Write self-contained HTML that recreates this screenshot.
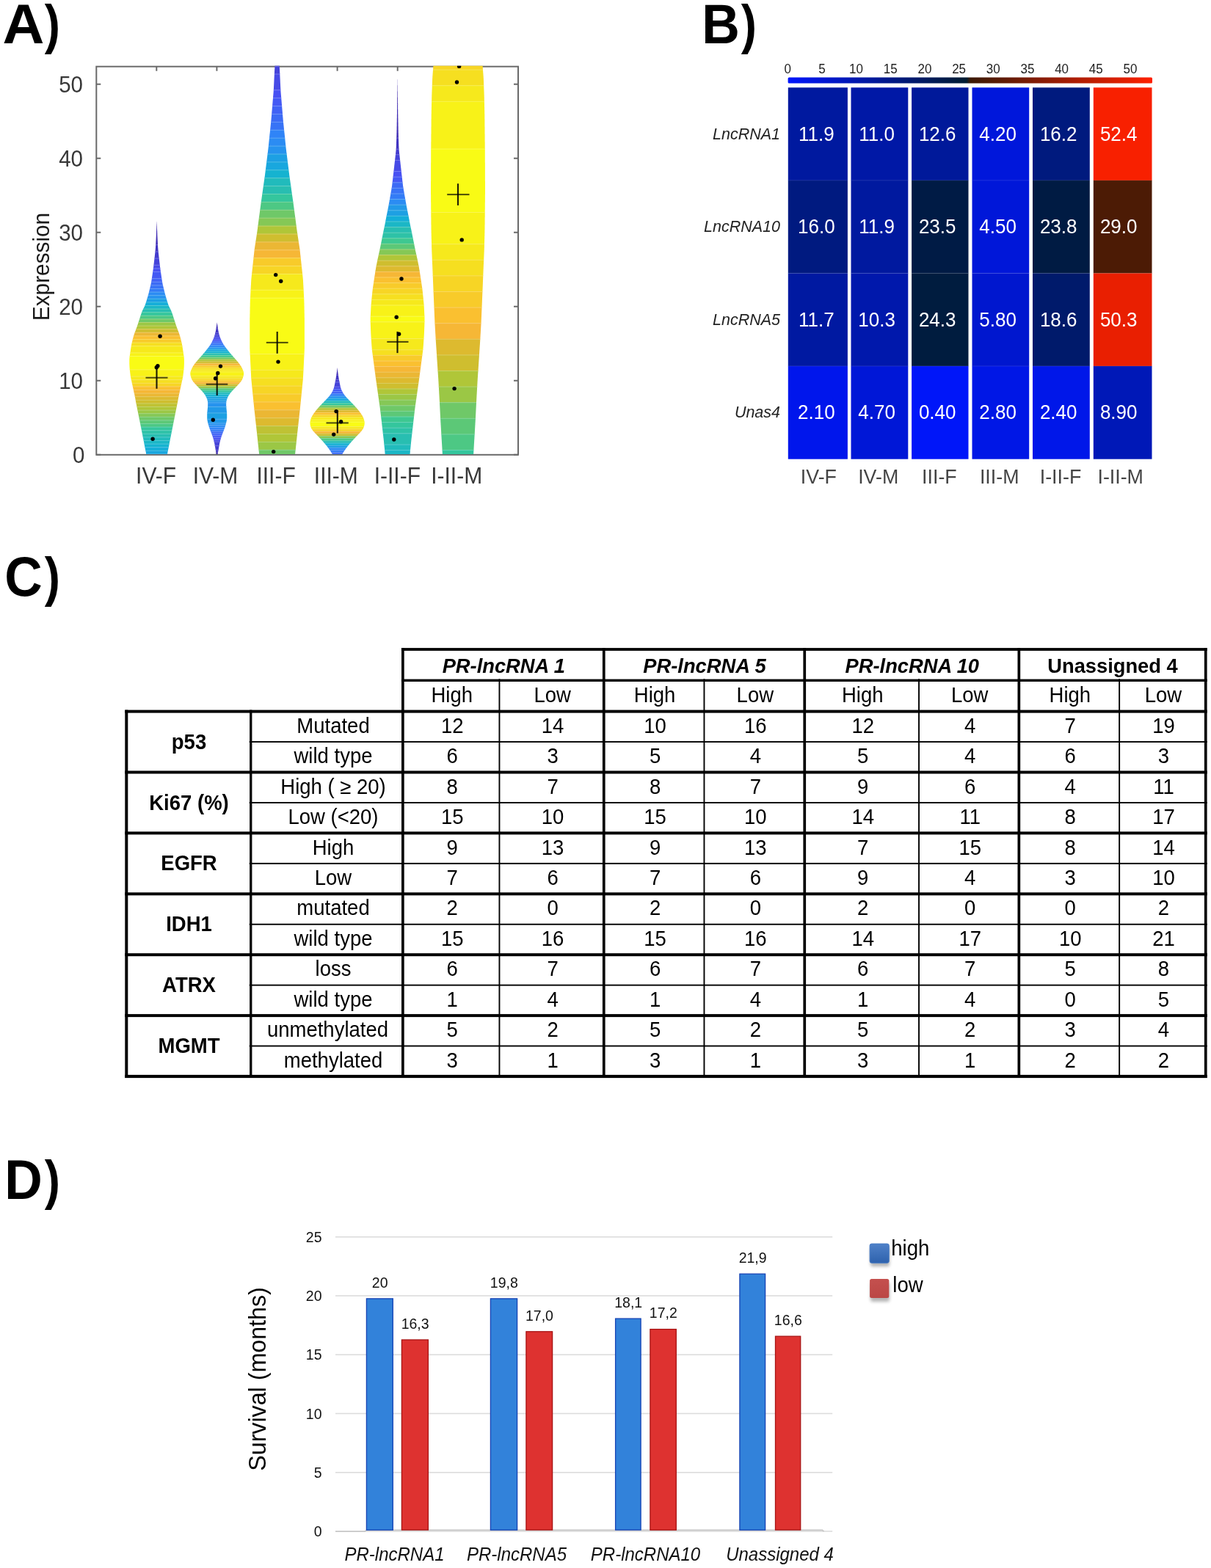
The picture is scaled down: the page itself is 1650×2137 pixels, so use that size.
<!DOCTYPE html>
<html><head><meta charset="utf-8"><title>Figure</title>
<style>html,body{margin:0;padding:0;background:#fff;}body{width:1650px;height:2137px;overflow:hidden;}svg{display:block;}text{font-family:"Liberation Sans",Arial,Helvetica,sans-serif;}</style>
</head><body>
<svg width="1650" height="2137" viewBox="0 0 1650 2137">
<rect width="1650" height="2137" fill="#fff"/>
<defs><clipPath id="axclip"><rect x="131.3" y="89.7" width="574.7" height="529.3"/></clipPath>
<clipPath id="vc0"><polygon points="213.6,301 213.6,301.5 213.6,302 213.5,302.5 213.5,303 213.5,303.5 213.5,304 213.5,304.5 213.4,305 213.4,305.5 213.4,306 213.4,306.5 213.4,307 213.3,307.5 213.3,308 213.3,308.5 213.3,309 213.3,309.5 213.3,310 213.2,310.5 213.2,311 213.2,311.5 213.2,312 213.2,312.5 213.1,313 213.1,313.5 213.1,314 213.1,314.5 213.1,315 213,315.5 213,316 213,316.5 213,317 213,317.5 212.9,318 212.9,318.5 212.9,319 212.9,319.5 212.9,320 212.8,320.5 212.8,321 212.8,321.5 212.8,322 212.8,322.5 212.7,323 212.7,323.5 212.7,324 212.7,324.5 212.6,325 212.6,325.5 212.6,326 212.6,326.5 212.5,327 212.5,327.5 212.5,328 212.5,328.5 212.4,329 212.4,329.5 212.4,330 212.4,330.5 212.3,331 212.3,331.5 212.3,332 212.3,332.5 212.2,333 212.2,333.5 212.2,334 212.2,334.5 212.1,335 212.1,335.5 212.1,336 212,336.5 212,337 212,337.5 211.9,338 211.9,338.5 211.8,339 211.8,339.5 211.8,340 211.7,340.5 211.7,341 211.6,341.5 211.6,342 211.5,342.5 211.5,343 211.4,343.5 211.4,344 211.3,344.5 211.3,345 211.2,345.5 211.2,346 211.1,346.5 211,347 211,347.5 210.9,348 210.9,348.5 210.8,349 210.8,349.5 210.7,350 210.7,350.5 210.6,351 210.5,351.5 210.5,352 210.4,352.5 210.4,353 210.3,353.5 210.3,354 210.2,354.5 210.1,355 210.1,355.5 210,356 210,356.5 209.9,357 209.9,357.5 209.8,358 209.7,358.5 209.7,359 209.6,359.5 209.6,360 209.5,360.5 209.5,361 209.4,361.5 209.3,362 209.3,362.5 209.2,363 209.2,363.5 209.1,364 209,364.5 209,365 208.9,365.5 208.8,366 208.8,366.5 208.7,367 208.6,367.5 208.6,368 208.5,368.5 208.4,369 208.3,369.5 208.3,370 208.2,370.5 208.1,371 208,371.5 208,372 207.9,372.5 207.8,373 207.8,373.5 207.7,374 207.6,374.5 207.5,375 207.5,375.5 207.4,376 207.3,376.5 207.2,377 207.2,377.5 207.1,378 207,378.5 207,379 206.9,379.5 206.8,380 206.7,380.5 206.7,381 206.6,381.5 206.5,382 206.4,382.5 206.3,383 206.3,383.5 206.2,384 206.1,384.5 206,385 205.9,385.5 205.8,386 205.7,386.5 205.6,387 205.5,387.5 205.4,388 205.3,388.5 205.2,389 205,389.5 204.9,390 204.8,390.5 204.7,391 204.6,391.5 204.4,392 204.3,392.5 204.2,393 204.1,393.5 204,394 203.8,394.5 203.7,395 203.6,395.5 203.5,396 203.4,396.5 203.2,397 203.1,397.5 203,398 202.9,398.5 202.8,399 202.6,399.5 202.5,400 202.4,400.5 202.2,401 202.1,401.5 202,402 201.8,402.5 201.7,403 201.5,403.5 201.4,404 201.3,404.5 201.1,405 200.9,405.5 200.8,406 200.6,406.5 200.5,407 200.3,407.5 200.2,408 200,408.5 199.9,409 199.7,409.5 199.6,410 199.4,410.5 199.3,411 199.1,411.5 198.9,412 198.8,412.5 198.6,413 198.5,413.5 198.3,414 198.1,414.5 198,415 197.8,415.5 197.6,416 197.4,416.5 197.2,417 197,417.5 196.7,418 196.5,418.5 196.2,419 196,419.5 195.7,420 195.5,420.5 195.2,421 195,421.5 194.7,422 194.5,422.5 194.2,423 194,423.5 193.8,424 193.6,424.5 193.4,425 193.2,425.5 193,426 192.8,426.5 192.6,427 192.5,427.5 192.3,428 192.1,428.5 192,429 191.8,429.5 191.6,430 191.5,430.5 191.3,431 191.2,431.5 191,432 190.8,432.5 190.7,433 190.5,433.5 190.4,434 190.2,434.5 190,435 189.9,435.5 189.7,436 189.5,436.5 189.4,437 189.2,437.5 189.1,438 188.9,438.5 188.7,439 188.6,439.5 188.4,440 188.3,440.5 188.1,441 187.9,441.5 187.8,442 187.6,442.5 187.4,443 187.2,443.5 187.1,444 186.9,444.5 186.7,445 186.6,445.5 186.4,446 186.2,446.5 186,447 185.8,447.5 185.6,448 185.4,448.5 185.3,449 185.1,449.5 184.9,450 184.7,450.5 184.5,451 184.3,451.5 184.1,452 183.9,452.5 183.7,453 183.6,453.5 183.4,454 183.2,454.5 183,455 182.8,455.5 182.7,456 182.5,456.5 182.3,457 182.2,457.5 182,458 181.9,458.5 181.7,459 181.6,459.5 181.5,460 181.4,460.5 181.2,461 181.1,461.5 181,462 180.8,462.5 180.7,463 180.6,463.5 180.5,464 180.4,464.5 180.2,465 180.1,465.5 180,466 179.9,466.5 179.8,467 179.6,467.5 179.5,468 179.4,468.5 179.3,469 179.2,469.5 179.1,470 179,470.5 178.9,471 178.8,471.5 178.7,472 178.7,472.5 178.6,473 178.5,473.5 178.4,474 178.3,474.5 178.3,475 178.2,475.5 178.1,476 178,476.5 178,477 177.9,477.5 177.8,478 177.7,478.5 177.7,479 177.6,479.5 177.5,480 177.5,480.5 177.4,481 177.3,481.5 177.2,482 177.2,482.5 177.1,483 177,483.5 176.9,484 176.9,484.5 176.8,485 176.7,485.5 176.7,486 176.6,486.5 176.5,487 176.5,487.5 176.4,488 176.4,488.5 176.4,489 176.3,489.5 176.3,490 176.3,490.5 176.3,491 176.3,491.5 176.3,492 176.3,492.5 176.3,493 176.3,493.5 176.3,494 176.3,494.5 176.3,495 176.3,495.5 176.3,496 176.3,496.5 176.4,497 176.4,497.5 176.4,498 176.4,498.5 176.4,499 176.5,499.5 176.5,500 176.5,500.5 176.6,501 176.6,501.5 176.6,502 176.7,502.5 176.7,503 176.8,503.5 176.8,504 176.9,504.5 176.9,505 177,505.5 177.1,506 177.1,506.5 177.2,507 177.2,507.5 177.3,508 177.3,508.5 177.4,509 177.5,509.5 177.5,510 177.6,510.5 177.6,511 177.7,511.5 177.8,512 177.9,512.5 177.9,513 178,513.5 178.1,514 178.2,514.5 178.3,515 178.4,515.5 178.5,516 178.6,516.5 178.7,517 178.8,517.5 178.9,518 179,518.5 179.2,519 179.3,519.5 179.4,520 179.5,520.5 179.6,521 179.7,521.5 179.8,522 179.9,522.5 180,523 180.1,523.5 180.2,524 180.4,524.5 180.5,525 180.6,525.5 180.7,526 180.8,526.5 180.9,527 181,527.5 181.1,528 181.2,528.5 181.3,529 181.4,529.5 181.6,530 181.7,530.5 181.8,531 181.9,531.5 182,532 182.1,532.5 182.2,533 182.3,533.5 182.4,534 182.5,534.5 182.6,535 182.7,535.5 182.9,536 183,536.5 183.1,537 183.2,537.5 183.3,538 183.4,538.5 183.5,539 183.6,539.5 183.7,540 183.8,540.5 183.9,541 184,541.5 184.1,542 184.2,542.5 184.3,543 184.4,543.5 184.5,544 184.6,544.5 184.7,545 184.8,545.5 184.8,546 184.9,546.5 185,547 185.1,547.5 185.2,548 185.3,548.5 185.4,549 185.5,549.5 185.6,550 185.7,550.5 185.8,551 185.9,551.5 186,552 186.1,552.5 186.2,553 186.3,553.5 186.4,554 186.5,554.5 186.6,555 186.7,555.5 186.8,556 186.9,556.5 187,557 187.1,557.5 187.2,558 187.3,558.5 187.4,559 187.5,559.5 187.6,560 187.7,560.5 187.8,561 187.9,561.5 188,562 188.1,562.5 188.2,563 188.3,563.5 188.4,564 188.5,564.5 188.6,565 188.7,565.5 188.8,566 188.9,566.5 189,567 189.1,567.5 189.2,568 189.3,568.5 189.4,569 189.5,569.5 189.6,570 189.7,570.5 189.8,571 189.9,571.5 190,572 190.1,572.5 190.2,573 190.3,573.5 190.4,574 190.5,574.5 190.6,575 190.7,575.5 190.8,576 190.9,576.5 191,577 191.1,577.5 191.2,578 191.3,578.5 191.4,579 191.5,579.5 191.6,580 191.7,580.5 191.8,581 191.9,581.5 192,582 192.1,582.5 192.2,583 192.3,583.5 192.4,584 192.5,584.5 192.6,585 192.7,585.5 192.8,586 192.9,586.5 193,587 193.1,587.5 193.2,588 193.3,588.5 193.4,589 193.5,589.5 193.6,590 193.7,590.5 193.8,591 193.9,591.5 194,592 194.1,592.5 194.2,593 194.3,593.5 194.4,594 194.5,594.5 194.6,595 194.7,595.5 194.8,596 194.9,596.5 195,597 195.1,597.5 195.2,598 195.3,598.5 195.4,599 195.5,599.5 195.6,600 195.7,600.5 195.8,601 195.9,601.5 196,602 196.1,602.5 196.2,603 196.3,603.5 196.4,604 196.5,604.5 196.5,605 196.6,605.5 196.7,606 196.8,606.5 196.9,607 197,607.5 197.1,608 197.2,608.5 197.3,609 197.4,609.5 197.5,610 197.6,610.5 197.7,611 197.8,611.5 197.9,612 198,612.5 198.1,613 198.2,613.5 198.3,614 198.4,614.5 198.5,615 198.6,615.5 198.7,616 198.8,616.5 198.9,617 199,617.5 199.1,618 199.1,618.5 199.2,619 199.3,619.5 199.4,620 199.5,620.5 199.6,621 199.7,621.5 199.8,622 199.9,622.5 200,623 200,623.5 200.1,624 200.2,624.5 200.2,625 227,625 227,624.5 227.1,624 227.2,623.5 227.2,623 227.3,622.5 227.4,622 227.5,621.5 227.6,621 227.7,620.5 227.8,620 227.9,619.5 228,619 228.1,618.5 228.1,618 228.2,617.5 228.3,617 228.4,616.5 228.5,616 228.6,615.5 228.7,615 228.8,614.5 228.9,614 229,613.5 229.1,613 229.2,612.5 229.3,612 229.4,611.5 229.5,611 229.6,610.5 229.7,610 229.8,609.5 229.9,609 230,608.5 230.1,608 230.2,607.5 230.3,607 230.4,606.5 230.5,606 230.6,605.5 230.7,605 230.7,604.5 230.8,604 230.9,603.5 231,603 231.1,602.5 231.2,602 231.3,601.5 231.4,601 231.5,600.5 231.6,600 231.7,599.5 231.8,599 231.9,598.5 232,598 232.1,597.5 232.2,597 232.3,596.5 232.4,596 232.5,595.5 232.6,595 232.7,594.5 232.8,594 232.9,593.5 233,593 233.1,592.5 233.2,592 233.3,591.5 233.4,591 233.5,590.5 233.6,590 233.7,589.5 233.8,589 233.9,588.5 234,588 234.1,587.5 234.2,587 234.3,586.5 234.4,586 234.5,585.5 234.6,585 234.7,584.5 234.8,584 234.9,583.5 235,583 235.1,582.5 235.2,582 235.3,581.5 235.4,581 235.5,580.5 235.6,580 235.7,579.5 235.8,579 235.9,578.5 236,578 236.1,577.5 236.2,577 236.3,576.5 236.4,576 236.5,575.5 236.6,575 236.7,574.5 236.8,574 236.9,573.5 237,573 237.1,572.5 237.2,572 237.3,571.5 237.4,571 237.5,570.5 237.6,570 237.7,569.5 237.8,569 237.9,568.5 238,568 238.1,567.5 238.2,567 238.3,566.5 238.4,566 238.5,565.5 238.6,565 238.7,564.5 238.8,564 238.9,563.5 239,563 239.1,562.5 239.2,562 239.3,561.5 239.4,561 239.5,560.5 239.6,560 239.7,559.5 239.8,559 239.9,558.5 240,558 240.1,557.5 240.2,557 240.3,556.5 240.4,556 240.5,555.5 240.6,555 240.7,554.5 240.8,554 240.9,553.5 241,553 241.1,552.5 241.2,552 241.3,551.5 241.4,551 241.5,550.5 241.6,550 241.7,549.5 241.8,549 241.9,548.5 242,548 242.1,547.5 242.2,547 242.3,546.5 242.4,546 242.4,545.5 242.5,545 242.6,544.5 242.7,544 242.8,543.5 242.9,543 243,542.5 243.1,542 243.2,541.5 243.3,541 243.4,540.5 243.5,540 243.6,539.5 243.7,539 243.8,538.5 243.9,538 244,537.5 244.1,537 244.2,536.5 244.3,536 244.5,535.5 244.6,535 244.7,534.5 244.8,534 244.9,533.5 245,533 245.1,532.5 245.2,532 245.3,531.5 245.4,531 245.5,530.5 245.6,530 245.8,529.5 245.9,529 246,528.5 246.1,528 246.2,527.5 246.3,527 246.4,526.5 246.5,526 246.6,525.5 246.7,525 246.8,524.5 247,524 247.1,523.5 247.2,523 247.3,522.5 247.4,522 247.5,521.5 247.6,521 247.7,520.5 247.8,520 247.9,519.5 248,519 248.2,518.5 248.3,518 248.4,517.5 248.5,517 248.6,516.5 248.7,516 248.8,515.5 248.9,515 249,514.5 249.1,514 249.2,513.5 249.3,513 249.3,512.5 249.4,512 249.5,511.5 249.6,511 249.6,510.5 249.7,510 249.7,509.5 249.8,509 249.9,508.5 249.9,508 250,507.5 250,507 250.1,506.5 250.1,506 250.2,505.5 250.3,505 250.3,504.5 250.4,504 250.4,503.5 250.5,503 250.5,502.5 250.6,502 250.6,501.5 250.6,501 250.7,500.5 250.7,500 250.7,499.5 250.8,499 250.8,498.5 250.8,498 250.8,497.5 250.8,497 250.9,496.5 250.9,496 250.9,495.5 250.9,495 250.9,494.5 250.9,494 250.9,493.5 250.9,493 250.9,492.5 250.9,492 250.9,491.5 250.9,491 250.9,490.5 250.9,490 250.9,489.5 250.8,489 250.8,488.5 250.8,488 250.7,487.5 250.7,487 250.6,486.5 250.5,486 250.5,485.5 250.4,485 250.3,484.5 250.3,484 250.2,483.5 250.1,483 250,482.5 250,482 249.9,481.5 249.8,481 249.7,480.5 249.7,480 249.6,479.5 249.5,479 249.5,478.5 249.4,478 249.3,477.5 249.2,477 249.2,476.5 249.1,476 249,475.5 248.9,475 248.9,474.5 248.8,474 248.7,473.5 248.6,473 248.5,472.5 248.5,472 248.4,471.5 248.3,471 248.2,470.5 248.1,470 248,469.5 247.9,469 247.8,468.5 247.7,468 247.6,467.5 247.4,467 247.3,466.5 247.2,466 247.1,465.5 247,465 246.8,464.5 246.7,464 246.6,463.5 246.5,463 246.4,462.5 246.2,462 246.1,461.5 246,461 245.8,460.5 245.7,460 245.6,459.5 245.5,459 245.3,458.5 245.2,458 245,457.5 244.9,457 244.7,456.5 244.5,456 244.4,455.5 244.2,455 244,454.5 243.8,454 243.6,453.5 243.5,453 243.3,452.5 243.1,452 242.9,451.5 242.7,451 242.5,450.5 242.3,450 242.1,449.5 241.9,449 241.8,448.5 241.6,448 241.4,447.5 241.2,447 241,446.5 240.8,446 240.6,445.5 240.5,445 240.3,444.5 240.1,444 240,443.5 239.8,443 239.6,442.5 239.4,442 239.3,441.5 239.1,441 238.9,440.5 238.8,440 238.6,439.5 238.5,439 238.3,438.5 238.1,438 238,437.5 237.8,437 237.7,436.5 237.5,436 237.3,435.5 237.2,435 237,434.5 236.8,434 236.7,433.5 236.5,433 236.4,432.5 236.2,432 236,431.5 235.9,431 235.7,430.5 235.6,430 235.4,429.5 235.2,429 235.1,428.5 234.9,428 234.7,427.5 234.6,427 234.4,426.5 234.2,426 234,425.5 233.8,425 233.6,424.5 233.4,424 233.2,423.5 233,423 232.7,422.5 232.5,422 232.2,421.5 232,421 231.7,420.5 231.5,420 231.2,419.5 231,419 230.7,418.5 230.5,418 230.2,417.5 230,417 229.8,416.5 229.6,416 229.4,415.5 229.2,415 229.1,414.5 228.9,414 228.7,413.5 228.6,413 228.4,412.5 228.3,412 228.1,411.5 227.9,411 227.8,410.5 227.6,410 227.5,409.5 227.3,409 227.2,408.5 227,408 226.9,407.5 226.7,407 226.6,406.5 226.4,406 226.3,405.5 226.1,405 225.9,404.5 225.8,404 225.7,403.5 225.5,403 225.4,402.5 225.2,402 225.1,401.5 225,401 224.8,400.5 224.7,400 224.6,399.5 224.4,399 224.3,398.5 224.2,398 224.1,397.5 224,397 223.8,396.5 223.7,396 223.6,395.5 223.5,395 223.4,394.5 223.2,394 223.1,393.5 223,393 222.9,392.5 222.8,392 222.6,391.5 222.5,391 222.4,390.5 222.3,390 222.2,389.5 222,389 221.9,388.5 221.8,388 221.7,387.5 221.6,387 221.5,386.5 221.4,386 221.3,385.5 221.2,385 221.1,384.5 221,384 220.9,383.5 220.9,383 220.8,382.5 220.7,382 220.6,381.5 220.5,381 220.5,380.5 220.4,380 220.3,379.5 220.2,379 220.2,378.5 220.1,378 220,377.5 220,377 219.9,376.5 219.8,376 219.7,375.5 219.7,375 219.6,374.5 219.5,374 219.4,373.5 219.4,373 219.3,372.5 219.2,372 219.2,371.5 219.1,371 219,370.5 218.9,370 218.9,369.5 218.8,369 218.7,368.5 218.6,368 218.6,367.5 218.5,367 218.4,366.5 218.4,366 218.3,365.5 218.2,365 218.2,364.5 218.1,364 218,363.5 218,363 217.9,362.5 217.9,362 217.8,361.5 217.7,361 217.7,360.5 217.6,360 217.6,359.5 217.5,359 217.5,358.5 217.4,358 217.3,357.5 217.3,357 217.2,356.5 217.2,356 217.1,355.5 217.1,355 217,354.5 216.9,354 216.9,353.5 216.8,353 216.8,352.5 216.7,352 216.7,351.5 216.6,351 216.5,350.5 216.5,350 216.4,349.5 216.4,349 216.3,348.5 216.3,348 216.2,347.5 216.2,347 216.1,346.5 216,346 216,345.5 215.9,345 215.9,344.5 215.8,344 215.8,343.5 215.7,343 215.7,342.5 215.6,342 215.6,341.5 215.5,341 215.5,340.5 215.4,340 215.4,339.5 215.4,339 215.3,338.5 215.3,338 215.2,337.5 215.2,337 215.2,336.5 215.1,336 215.1,335.5 215.1,335 215,334.5 215,334 215,333.5 215,333 214.9,332.5 214.9,332 214.9,331.5 214.9,331 214.8,330.5 214.8,330 214.8,329.5 214.8,329 214.7,328.5 214.7,328 214.7,327.5 214.7,327 214.6,326.5 214.6,326 214.6,325.5 214.6,325 214.5,324.5 214.5,324 214.5,323.5 214.5,323 214.4,322.5 214.4,322 214.4,321.5 214.4,321 214.3,320.5 214.3,320 214.3,319.5 214.3,319 214.3,318.5 214.3,318 214.2,317.5 214.2,317 214.2,316.5 214.2,316 214.2,315.5 214.1,315 214.1,314.5 214.1,314 214.1,313.5 214.1,313 214,312.5 214,312 214,311.5 214,311 214,310.5 213.9,310 213.9,309.5 213.9,309 213.9,308.5 213.9,308 213.8,307.5 213.8,307 213.8,306.5 213.8,306 213.8,305.5 213.8,305 213.7,304.5 213.7,304 213.7,303.5 213.7,303 213.7,302.5 213.6,302 213.6,301.5 213.6,301"/></clipPath>
<clipPath id="vc1"><polygon points="295.7,439.2 295.6,439.7 295.6,440.2 295.5,440.7 295.4,441.2 295.4,441.7 295.3,442.2 295.2,442.7 295.1,443.2 295.1,443.7 295,444.2 294.9,444.7 294.9,445.2 294.8,445.7 294.7,446.2 294.6,446.7 294.6,447.2 294.5,447.7 294.4,448.2 294.3,448.7 294.2,449.2 294.2,449.7 294.1,450.2 294,450.7 293.9,451.2 293.8,451.7 293.7,452.2 293.5,452.7 293.4,453.2 293.3,453.7 293.2,454.2 293.1,454.7 293,455.2 292.8,455.7 292.7,456.2 292.6,456.7 292.4,457.2 292.3,457.7 292.1,458.2 292,458.7 291.8,459.2 291.6,459.7 291.4,460.2 291.2,460.7 291,461.2 290.8,461.7 290.6,462.2 290.3,462.7 290.1,463.2 289.9,463.7 289.6,464.2 289.4,464.7 289.2,465.2 288.9,465.7 288.7,466.2 288.4,466.7 288.1,467.2 287.9,467.7 287.6,468.2 287.3,468.7 287,469.2 286.7,469.7 286.3,470.2 286,470.7 285.7,471.2 285.3,471.7 285,472.2 284.6,472.7 284.2,473.2 283.9,473.7 283.5,474.2 283.1,474.7 282.7,475.2 282.3,475.7 281.9,476.2 281.5,476.7 281.1,477.2 280.7,477.7 280.3,478.2 279.9,478.7 279.5,479.2 279.1,479.7 278.7,480.2 278.3,480.7 277.8,481.2 277.4,481.7 277,482.2 276.6,482.7 276.1,483.2 275.7,483.7 275.3,484.2 274.8,484.7 274.4,485.2 274,485.7 273.5,486.2 273.1,486.7 272.6,487.2 272.2,487.7 271.7,488.2 271.3,488.7 270.9,489.2 270.4,489.7 270,490.2 269.5,490.7 269.1,491.2 268.7,491.7 268.3,492.2 267.8,492.7 267.4,493.2 267,493.7 266.6,494.2 266.2,494.7 265.8,495.2 265.4,495.7 265,496.2 264.7,496.7 264.3,497.2 264,497.7 263.6,498.2 263.3,498.7 263,499.2 262.7,499.7 262.4,500.2 262.2,500.7 261.9,501.2 261.7,501.7 261.4,502.2 261.2,502.7 261,503.2 260.8,503.7 260.5,504.2 260.3,504.7 260.1,505.2 260,505.7 259.8,506.2 259.7,506.7 259.5,507.2 259.4,507.7 259.4,508.2 259.3,508.7 259.3,509.2 259.3,509.7 259.4,510.2 259.4,510.7 259.5,511.2 259.6,511.7 259.8,512.2 259.9,512.7 260,513.2 260.2,513.7 260.3,514.2 260.5,514.7 260.7,515.2 260.8,515.7 261,516.2 261.3,516.7 261.5,517.2 261.8,517.7 262,518.2 262.3,518.7 262.7,519.2 263,519.7 263.4,520.2 263.8,520.7 264.2,521.2 264.6,521.7 265.1,522.2 265.5,522.7 266,523.2 266.4,523.7 266.9,524.2 267.4,524.7 267.8,525.2 268.3,525.7 268.8,526.2 269.3,526.7 269.8,527.2 270.2,527.7 270.7,528.2 271.2,528.7 271.7,529.2 272.2,529.7 272.7,530.2 273.2,530.7 273.6,531.2 274.1,531.7 274.6,532.2 275,532.7 275.5,533.2 275.9,533.7 276.3,534.2 276.8,534.7 277.2,535.2 277.6,535.7 277.9,536.2 278.3,536.7 278.7,537.2 279,537.7 279.3,538.2 279.7,538.7 280,539.2 280.3,539.7 280.5,540.2 280.8,540.7 281,541.2 281.3,541.7 281.5,542.2 281.7,542.7 281.9,543.2 282.1,543.7 282.3,544.2 282.4,544.7 282.6,545.2 282.7,545.7 282.8,546.2 282.9,546.7 283,547.2 283.1,547.7 283.1,548.2 283.2,548.7 283.2,549.2 283.2,549.7 283.2,550.2 283.2,550.7 283.2,551.2 283.2,551.7 283.2,552.2 283.2,552.7 283.1,553.2 283.1,553.7 283.1,554.2 283,554.7 283,555.2 283,555.7 282.9,556.2 282.9,556.7 282.8,557.2 282.8,557.7 282.7,558.2 282.7,558.7 282.6,559.2 282.6,559.7 282.5,560.2 282.5,560.7 282.4,561.2 282.4,561.7 282.3,562.2 282.3,562.7 282.3,563.2 282.3,563.7 282.2,564.2 282.2,564.7 282.2,565.2 282.2,565.7 282.2,566.2 282.2,566.7 282.2,567.2 282.2,567.7 282.2,568.2 282.2,568.7 282.2,569.2 282.2,569.7 282.3,570.2 282.3,570.7 282.3,571.2 282.4,571.7 282.4,572.2 282.5,572.7 282.6,573.2 282.7,573.7 282.8,574.2 282.9,574.7 283,575.2 283.1,575.7 283.3,576.2 283.4,576.7 283.5,577.2 283.7,577.7 283.8,578.2 283.9,578.7 284.1,579.2 284.2,579.7 284.4,580.2 284.5,580.7 284.7,581.2 284.8,581.7 285,582.2 285.2,582.7 285.3,583.2 285.5,583.7 285.7,584.2 285.9,584.7 286.1,585.2 286.3,585.7 286.4,586.2 286.6,586.7 286.8,587.2 287,587.7 287.2,588.2 287.4,588.7 287.6,589.2 287.8,589.7 288,590.2 288.2,590.7 288.3,591.2 288.5,591.7 288.7,592.2 288.9,592.7 289.1,593.2 289.3,593.7 289.4,594.2 289.6,594.7 289.8,595.2 290,595.7 290.1,596.2 290.3,596.7 290.4,597.2 290.6,597.7 290.7,598.2 290.9,598.7 291,599.2 291.1,599.7 291.3,600.2 291.4,600.7 291.5,601.2 291.6,601.7 291.7,602.2 291.8,602.7 292,603.2 292.1,603.7 292.2,604.2 292.3,604.7 292.4,605.2 292.5,605.7 292.6,606.2 292.6,606.7 292.7,607.2 292.8,607.7 292.9,608.2 293,608.7 293.1,609.2 293.2,609.7 293.3,610.2 293.4,610.7 293.4,611.2 293.5,611.7 293.6,612.2 293.7,612.7 293.8,613.2 293.9,613.7 294,614.2 294.1,614.7 294.2,615.2 294.3,615.7 294.4,616.2 294.5,616.7 294.6,617.2 294.7,617.7 294.8,618.2 294.9,618.7 295,619.2 295.1,619.7 296.3,619.7 296.4,619.2 296.5,618.7 296.6,618.2 296.7,617.7 296.8,617.2 296.9,616.7 297,616.2 297.1,615.7 297.2,615.2 297.3,614.7 297.4,614.2 297.5,613.7 297.6,613.2 297.7,612.7 297.8,612.2 297.9,611.7 298,611.2 298,610.7 298.1,610.2 298.2,609.7 298.3,609.2 298.4,608.7 298.5,608.2 298.6,607.7 298.7,607.2 298.8,606.7 298.8,606.2 298.9,605.7 299,605.2 299.1,604.7 299.2,604.2 299.3,603.7 299.4,603.2 299.6,602.7 299.7,602.2 299.8,601.7 299.9,601.2 300,600.7 300.1,600.2 300.3,599.7 300.4,599.2 300.5,598.7 300.7,598.2 300.8,597.7 301,597.2 301.1,596.7 301.3,596.2 301.4,595.7 301.6,595.2 301.8,594.7 302,594.2 302.1,593.7 302.3,593.2 302.5,592.7 302.7,592.2 302.9,591.7 303.1,591.2 303.2,590.7 303.4,590.2 303.6,589.7 303.8,589.2 304,588.7 304.2,588.2 304.4,587.7 304.6,587.2 304.8,586.7 305,586.2 305.1,585.7 305.3,585.2 305.5,584.7 305.7,584.2 305.9,583.7 306.1,583.2 306.2,582.7 306.4,582.2 306.6,581.7 306.7,581.2 306.9,580.7 307,580.2 307.2,579.7 307.3,579.2 307.5,578.7 307.6,578.2 307.7,577.7 307.9,577.2 308,576.7 308.1,576.2 308.3,575.7 308.4,575.2 308.5,574.7 308.6,574.2 308.7,573.7 308.8,573.2 308.9,572.7 309,572.2 309,571.7 309.1,571.2 309.1,570.7 309.1,570.2 309.2,569.7 309.2,569.2 309.2,568.7 309.2,568.2 309.2,567.7 309.2,567.2 309.2,566.7 309.2,566.2 309.2,565.7 309.2,565.2 309.2,564.7 309.2,564.2 309.1,563.7 309.1,563.2 309.1,562.7 309.1,562.2 309,561.7 309,561.2 308.9,560.7 308.9,560.2 308.8,559.7 308.8,559.2 308.7,558.7 308.7,558.2 308.6,557.7 308.6,557.2 308.5,556.7 308.5,556.2 308.4,555.7 308.4,555.2 308.4,554.7 308.3,554.2 308.3,553.7 308.3,553.2 308.2,552.7 308.2,552.2 308.2,551.7 308.2,551.2 308.2,550.7 308.2,550.2 308.2,549.7 308.2,549.2 308.2,548.7 308.3,548.2 308.3,547.7 308.4,547.2 308.5,546.7 308.6,546.2 308.7,545.7 308.8,545.2 309,544.7 309.1,544.2 309.3,543.7 309.5,543.2 309.7,542.7 309.9,542.2 310.1,541.7 310.4,541.2 310.6,540.7 310.9,540.2 311.1,539.7 311.4,539.2 311.7,538.7 312.1,538.2 312.4,537.7 312.7,537.2 313.1,536.7 313.5,536.2 313.8,535.7 314.2,535.2 314.6,534.7 315.1,534.2 315.5,533.7 315.9,533.2 316.4,532.7 316.8,532.2 317.3,531.7 317.8,531.2 318.2,530.7 318.7,530.2 319.2,529.7 319.7,529.2 320.2,528.7 320.7,528.2 321.2,527.7 321.6,527.2 322.1,526.7 322.6,526.2 323.1,525.7 323.6,525.2 324,524.7 324.5,524.2 325,523.7 325.4,523.2 325.9,522.7 326.3,522.2 326.8,521.7 327.2,521.2 327.6,520.7 328,520.2 328.4,519.7 328.7,519.2 329.1,518.7 329.4,518.2 329.6,517.7 329.9,517.2 330.1,516.7 330.4,516.2 330.6,515.7 330.7,515.2 330.9,514.7 331.1,514.2 331.2,513.7 331.4,513.2 331.5,512.7 331.6,512.2 331.8,511.7 331.9,511.2 332,510.7 332,510.2 332.1,509.7 332.1,509.2 332.1,508.7 332,508.2 332,507.7 331.9,507.2 331.7,506.7 331.6,506.2 331.4,505.7 331.3,505.2 331.1,504.7 330.9,504.2 330.6,503.7 330.4,503.2 330.2,502.7 330,502.2 329.7,501.7 329.5,501.2 329.2,500.7 329,500.2 328.7,499.7 328.4,499.2 328.1,498.7 327.8,498.2 327.4,497.7 327.1,497.2 326.7,496.7 326.4,496.2 326,495.7 325.6,495.2 325.2,494.7 324.8,494.2 324.4,493.7 324,493.2 323.6,492.7 323.1,492.2 322.7,491.7 322.3,491.2 321.9,490.7 321.4,490.2 321,489.7 320.5,489.2 320.1,488.7 319.7,488.2 319.2,487.7 318.8,487.2 318.3,486.7 317.9,486.2 317.4,485.7 317,485.2 316.6,484.7 316.1,484.2 315.7,483.7 315.3,483.2 314.8,482.7 314.4,482.2 314,481.7 313.6,481.2 313.1,480.7 312.7,480.2 312.3,479.7 311.9,479.2 311.5,478.7 311.1,478.2 310.7,477.7 310.3,477.2 309.9,476.7 309.5,476.2 309.1,475.7 308.7,475.2 308.3,474.7 307.9,474.2 307.5,473.7 307.2,473.2 306.8,472.7 306.4,472.2 306.1,471.7 305.7,471.2 305.4,470.7 305.1,470.2 304.7,469.7 304.4,469.2 304.1,468.7 303.8,468.2 303.5,467.7 303.3,467.2 303,466.7 302.7,466.2 302.5,465.7 302.2,465.2 302,464.7 301.8,464.2 301.5,463.7 301.3,463.2 301.1,462.7 300.8,462.2 300.6,461.7 300.4,461.2 300.2,460.7 300,460.2 299.8,459.7 299.6,459.2 299.4,458.7 299.3,458.2 299.1,457.7 299,457.2 298.8,456.7 298.7,456.2 298.6,455.7 298.4,455.2 298.3,454.7 298.2,454.2 298.1,453.7 298,453.2 297.9,452.7 297.7,452.2 297.6,451.7 297.5,451.2 297.4,450.7 297.3,450.2 297.2,449.7 297.2,449.2 297.1,448.7 297,448.2 296.9,447.7 296.8,447.2 296.8,446.7 296.7,446.2 296.6,445.7 296.5,445.2 296.5,444.7 296.4,444.2 296.3,443.7 296.3,443.2 296.2,442.7 296.1,442.2 296,441.7 296,441.2 295.9,440.7 295.8,440.2 295.8,439.7 295.7,439.2"/></clipPath>
<clipPath id="vc2"><polygon points="376,60 376,60.5 376,61 376,61.5 376,62 375.9,62.5 375.9,63 375.9,63.5 375.9,64 375.8,64.5 375.8,65 375.8,65.5 375.8,66 375.7,66.5 375.7,67 375.7,67.5 375.6,68 375.6,68.5 375.6,69 375.6,69.5 375.5,70 375.5,70.5 375.5,71 375.4,71.5 375.4,72 375.4,72.5 375.4,73 375.3,73.5 375.3,74 375.3,74.5 375.2,75 375.2,75.5 375.2,76 375.2,76.5 375.1,77 375.1,77.5 375.1,78 375.1,78.5 375,79 375,79.5 375,80 374.9,80.5 374.9,81 374.9,81.5 374.9,82 374.8,82.5 374.8,83 374.8,83.5 374.7,84 374.7,84.5 374.7,85 374.7,85.5 374.6,86 374.6,86.5 374.6,87 374.5,87.5 374.5,88 374.5,88.5 374.5,89 374.4,89.5 374.4,90 374.4,90.5 374.4,91 374.3,91.5 374.3,92 374.3,92.5 374.3,93 374.2,93.5 374.2,94 374.2,94.5 374.2,95 374.1,95.5 374.1,96 374.1,96.5 374.1,97 374,97.5 374,98 374,98.5 374,99 373.9,99.5 373.9,100 373.9,100.5 373.9,101 373.9,101.5 373.8,102 373.8,102.5 373.8,103 373.8,103.5 373.7,104 373.7,104.5 373.7,105 373.7,105.5 373.6,106 373.6,106.5 373.6,107 373.6,107.5 373.5,108 373.5,108.5 373.5,109 373.5,109.5 373.4,110 373.4,110.5 373.4,111 373.4,111.5 373.4,112 373.3,112.5 373.3,113 373.3,113.5 373.3,114 373.2,114.5 373.2,115 373.2,115.5 373.2,116 373.1,116.5 373.1,117 373.1,117.5 373.1,118 373,118.5 373,119 373,119.5 373,120 372.9,120.5 372.9,121 372.9,121.5 372.9,122 372.8,122.5 372.8,123 372.8,123.5 372.7,124 372.7,124.5 372.7,125 372.6,125.5 372.6,126 372.6,126.5 372.5,127 372.5,127.5 372.4,128 372.4,128.5 372.4,129 372.3,129.5 372.3,130 372.2,130.5 372.2,131 372.1,131.5 372.1,132 372.1,132.5 372,133 372,133.5 371.9,134 371.9,134.5 371.9,135 371.8,135.5 371.8,136 371.7,136.5 371.7,137 371.6,137.5 371.6,138 371.6,138.5 371.5,139 371.5,139.5 371.4,140 371.4,140.5 371.4,141 371.3,141.5 371.3,142 371.2,142.5 371.2,143 371.2,143.5 371.1,144 371.1,144.5 371,145 371,145.5 370.9,146 370.9,146.5 370.9,147 370.8,147.5 370.8,148 370.7,148.5 370.7,149 370.7,149.5 370.6,150 370.6,150.5 370.5,151 370.5,151.5 370.4,152 370.4,152.5 370.4,153 370.3,153.5 370.3,154 370.2,154.5 370.2,155 370.2,155.5 370.1,156 370.1,156.5 370,157 370,157.5 369.9,158 369.9,158.5 369.9,159 369.8,159.5 369.8,160 369.7,160.5 369.7,161 369.6,161.5 369.6,162 369.6,162.5 369.5,163 369.5,163.5 369.4,164 369.4,164.5 369.3,165 369.3,165.5 369.2,166 369.2,166.5 369.1,167 369.1,167.5 369,168 369,168.5 368.9,169 368.9,169.5 368.8,170 368.8,170.5 368.7,171 368.7,171.5 368.6,172 368.6,172.5 368.5,173 368.5,173.5 368.4,174 368.4,174.5 368.3,175 368.3,175.5 368.2,176 368.2,176.5 368.1,177 368.1,177.5 368,178 368,178.5 367.9,179 367.9,179.5 367.8,180 367.8,180.5 367.7,181 367.7,181.5 367.6,182 367.5,182.5 367.5,183 367.4,183.5 367.4,184 367.3,184.5 367.3,185 367.2,185.5 367.2,186 367.1,186.5 367.1,187 367,187.5 367,188 366.9,188.5 366.9,189 366.8,189.5 366.8,190 366.7,190.5 366.7,191 366.6,191.5 366.6,192 366.5,192.5 366.5,193 366.4,193.5 366.4,194 366.3,194.5 366.3,195 366.2,195.5 366.2,196 366.1,196.5 366.1,197 366,197.5 366,198 365.9,198.5 365.9,199 365.8,199.5 365.8,200 365.7,200.5 365.7,201 365.6,201.5 365.5,202 365.5,202.5 365.4,203 365.4,203.5 365.3,204 365.2,204.5 365.2,205 365.1,205.5 365.1,206 365,206.5 364.9,207 364.9,207.5 364.8,208 364.7,208.5 364.7,209 364.6,209.5 364.6,210 364.5,210.5 364.4,211 364.4,211.5 364.3,212 364.2,212.5 364.2,213 364.1,213.5 364.1,214 364,214.5 363.9,215 363.9,215.5 363.8,216 363.7,216.5 363.7,217 363.6,217.5 363.6,218 363.5,218.5 363.4,219 363.4,219.5 363.3,220 363.2,220.5 363.2,221 363.1,221.5 363.1,222 363,222.5 362.9,223 362.9,223.5 362.8,224 362.7,224.5 362.7,225 362.6,225.5 362.6,226 362.5,226.5 362.4,227 362.4,227.5 362.3,228 362.2,228.5 362.2,229 362.1,229.5 362.1,230 362,230.5 361.9,231 361.9,231.5 361.8,232 361.7,232.5 361.7,233 361.6,233.5 361.6,234 361.5,234.5 361.4,235 361.4,235.5 361.3,236 361.2,236.5 361.2,237 361.1,237.5 361.1,238 361,238.5 360.9,239 360.9,239.5 360.8,240 360.7,240.5 360.7,241 360.6,241.5 360.5,242 360.4,242.5 360.4,243 360.3,243.5 360.2,244 360.2,244.5 360.1,245 360,245.5 359.9,246 359.9,246.5 359.8,247 359.7,247.5 359.7,248 359.6,248.5 359.5,249 359.4,249.5 359.4,250 359.3,250.5 359.2,251 359.2,251.5 359.1,252 359,252.5 358.9,253 358.9,253.5 358.8,254 358.7,254.5 358.7,255 358.6,255.5 358.5,256 358.4,256.5 358.4,257 358.3,257.5 358.2,258 358.2,258.5 358.1,259 358,259.5 358,260 357.9,260.5 357.8,261 357.7,261.5 357.7,262 357.6,262.5 357.5,263 357.5,263.5 357.4,264 357.3,264.5 357.2,265 357.2,265.5 357.1,266 357,266.5 357,267 356.9,267.5 356.8,268 356.7,268.5 356.7,269 356.6,269.5 356.5,270 356.5,270.5 356.4,271 356.3,271.5 356.2,272 356.2,272.5 356.1,273 356,273.5 356,274 355.9,274.5 355.8,275 355.7,275.5 355.7,276 355.6,276.5 355.5,277 355.5,277.5 355.4,278 355.3,278.5 355.3,279 355.2,279.5 355.1,280 355.1,280.5 355,281 354.9,281.5 354.9,282 354.8,282.5 354.7,283 354.7,283.5 354.6,284 354.5,284.5 354.5,285 354.4,285.5 354.3,286 354.3,286.5 354.2,287 354.1,287.5 354.1,288 354,288.5 353.9,289 353.9,289.5 353.8,290 353.7,290.5 353.7,291 353.6,291.5 353.5,292 353.5,292.5 353.4,293 353.3,293.5 353.3,294 353.2,294.5 353.1,295 353.1,295.5 353,296 352.9,296.5 352.9,297 352.8,297.5 352.7,298 352.7,298.5 352.6,299 352.5,299.5 352.5,300 352.4,300.5 352.3,301 352.3,301.5 352.2,302 352.1,302.5 352.1,303 352,303.5 352,304 351.9,304.5 351.8,305 351.8,305.5 351.7,306 351.6,306.5 351.6,307 351.5,307.5 351.4,308 351.4,308.5 351.3,309 351.2,309.5 351.2,310 351.1,310.5 351,311 351,311.5 350.9,312 350.8,312.5 350.8,313 350.7,313.5 350.6,314 350.6,314.5 350.5,315 350.4,315.5 350.4,316 350.3,316.5 350.2,317 350.1,317.5 350.1,318 350,318.5 349.9,319 349.8,319.5 349.8,320 349.7,320.5 349.6,321 349.5,321.5 349.5,322 349.4,322.5 349.3,323 349.2,323.5 349.2,324 349.1,324.5 349,325 348.9,325.5 348.8,326 348.8,326.5 348.7,327 348.6,327.5 348.5,328 348.5,328.5 348.4,329 348.3,329.5 348.2,330 348.2,330.5 348.1,331 348,331.5 347.9,332 347.8,332.5 347.8,333 347.7,333.5 347.6,334 347.5,334.5 347.5,335 347.4,335.5 347.3,336 347.2,336.5 347.2,337 347.1,337.5 347,338 346.9,338.5 346.9,339 346.8,339.5 346.7,340 346.7,340.5 346.6,341 346.6,341.5 346.5,342 346.4,342.5 346.4,343 346.3,343.5 346.3,344 346.2,344.5 346.2,345 346.1,345.5 346.1,346 346,346.5 346,347 345.9,347.5 345.8,348 345.8,348.5 345.7,349 345.7,349.5 345.6,350 345.6,350.5 345.5,351 345.5,351.5 345.4,352 345.4,352.5 345.3,353 345.3,353.5 345.2,354 345.2,354.5 345.1,355 345,355.5 345,356 344.9,356.5 344.9,357 344.8,357.5 344.8,358 344.7,358.5 344.7,359 344.6,359.5 344.6,360 344.5,360.5 344.4,361 344.4,361.5 344.3,362 344.3,362.5 344.2,363 344.2,363.5 344.1,364 344.1,364.5 344,365 344,365.5 343.9,366 343.8,366.5 343.8,367 343.7,367.5 343.7,368 343.6,368.5 343.6,369 343.5,369.5 343.5,370 343.4,370.5 343.4,371 343.3,371.5 343.2,372 343.2,372.5 343.1,373 343.1,373.5 343,374 343,374.5 342.9,375 342.9,375.5 342.8,376 342.8,376.5 342.7,377 342.7,377.5 342.6,378 342.6,378.5 342.5,379 342.5,379.5 342.4,380 342.4,380.5 342.3,381 342.3,381.5 342.3,382 342.2,382.5 342.2,383 342.2,383.5 342.1,384 342.1,384.5 342.1,385 342.1,385.5 342,386 342,386.5 342,387 342,387.5 341.9,388 341.9,388.5 341.9,389 341.8,389.5 341.8,390 341.8,390.5 341.8,391 341.7,391.5 341.7,392 341.7,392.5 341.7,393 341.6,393.5 341.6,394 341.6,394.5 341.6,395 341.5,395.5 341.5,396 341.5,396.5 341.5,397 341.4,397.5 341.4,398 341.4,398.5 341.4,399 341.3,399.5 341.3,400 341.3,400.5 341.3,401 341.2,401.5 341.2,402 341.2,402.5 341.2,403 341.1,403.5 341.1,404 341.1,404.5 341.1,405 341,405.5 341,406 341,406.5 341,407 340.9,407.5 340.9,408 340.9,408.5 340.9,409 340.8,409.5 340.8,410 340.8,410.5 340.8,411 340.8,411.5 340.8,412 340.8,412.5 340.7,413 340.7,413.5 340.7,414 340.7,414.5 340.7,415 340.7,415.5 340.7,416 340.7,416.5 340.7,417 340.7,417.5 340.6,418 340.6,418.5 340.6,419 340.6,419.5 340.6,420 340.6,420.5 340.6,421 340.6,421.5 340.6,422 340.6,422.5 340.5,423 340.5,423.5 340.5,424 340.5,424.5 340.5,425 340.5,425.5 340.5,426 340.5,426.5 340.5,427 340.5,427.5 340.4,428 340.4,428.5 340.4,429 340.4,429.5 340.4,430 340.4,430.5 340.4,431 340.4,431.5 340.4,432 340.4,432.5 340.3,433 340.3,433.5 340.3,434 340.3,434.5 340.3,435 340.3,435.5 340.3,436 340.3,436.5 340.3,437 340.3,437.5 340.3,438 340.3,438.5 340.3,439 340.3,439.5 340.3,440 340.3,440.5 340.3,441 340.3,441.5 340.3,442 340.3,442.5 340.3,443 340.3,443.5 340.3,444 340.3,444.5 340.3,445 340.3,445.5 340.3,446 340.3,446.5 340.3,447 340.3,447.5 340.3,448 340.3,448.5 340.3,449 340.3,449.5 340.3,450 340.3,450.5 340.3,451 340.3,451.5 340.3,452 340.3,452.5 340.3,453 340.3,453.5 340.3,454 340.3,454.5 340.3,455 340.3,455.5 340.3,456 340.3,456.5 340.3,457 340.3,457.5 340.3,458 340.3,458.5 340.3,459 340.3,459.5 340.3,460 340.3,460.5 340.3,461 340.3,461.5 340.3,462 340.3,462.5 340.3,463 340.3,463.5 340.3,464 340.3,464.5 340.3,465 340.3,465.5 340.3,466 340.3,466.5 340.3,467 340.3,467.5 340.3,468 340.3,468.5 340.3,469 340.3,469.5 340.3,470 340.3,470.5 340.3,471 340.3,471.5 340.3,472 340.3,472.5 340.3,473 340.3,473.5 340.3,474 340.3,474.5 340.3,475 340.3,475.5 340.4,476 340.4,476.5 340.4,477 340.4,477.5 340.4,478 340.4,478.5 340.5,479 340.5,479.5 340.5,480 340.5,480.5 340.6,481 340.6,481.5 340.6,482 340.6,482.5 340.7,483 340.7,483.5 340.7,484 340.7,484.5 340.8,485 340.8,485.5 340.8,486 340.8,486.5 340.9,487 340.9,487.5 340.9,488 340.9,488.5 341,489 341,489.5 341,490 341,490.5 341.1,491 341.1,491.5 341.1,492 341.1,492.5 341.1,493 341.2,493.5 341.2,494 341.2,494.5 341.2,495 341.3,495.5 341.3,496 341.3,496.5 341.3,497 341.4,497.5 341.4,498 341.4,498.5 341.4,499 341.5,499.5 341.5,500 341.5,500.5 341.5,501 341.6,501.5 341.6,502 341.6,502.5 341.6,503 341.7,503.5 341.7,504 341.7,504.5 341.7,505 341.8,505.5 341.8,506 341.8,506.5 341.8,507 341.9,507.5 341.9,508 341.9,508.5 341.9,509 342,509.5 342,510 342,510.5 342,511 342.1,511.5 342.1,512 342.1,512.5 342.1,513 342.2,513.5 342.2,514 342.2,514.5 342.2,515 342.3,515.5 342.3,516 342.4,516.5 342.4,517 342.4,517.5 342.5,518 342.5,518.5 342.6,519 342.6,519.5 342.7,520 342.7,520.5 342.8,521 342.8,521.5 342.9,522 342.9,522.5 343,523 343,523.5 343.1,524 343.1,524.5 343.2,525 343.2,525.5 343.3,526 343.3,526.5 343.4,527 343.4,527.5 343.5,528 343.5,528.5 343.6,529 343.6,529.5 343.7,530 343.7,530.5 343.8,531 343.8,531.5 343.9,532 343.9,532.5 344,533 344,533.5 344.1,534 344.1,534.5 344.2,535 344.2,535.5 344.3,536 344.3,536.5 344.4,537 344.4,537.5 344.5,538 344.5,538.5 344.6,539 344.6,539.5 344.7,540 344.7,540.5 344.8,541 344.8,541.5 344.9,542 344.9,542.5 345,543 345,543.5 345.1,544 345.1,544.5 345.2,545 345.2,545.5 345.3,546 345.3,546.5 345.4,547 345.4,547.5 345.5,548 345.5,548.5 345.6,549 345.6,549.5 345.7,550 345.7,550.5 345.8,551 345.8,551.5 345.9,552 345.9,552.5 346,553 346,553.5 346.1,554 346.1,554.5 346.2,555 346.2,555.5 346.3,556 346.3,556.5 346.4,557 346.4,557.5 346.5,558 346.5,558.5 346.6,559 346.7,559.5 346.7,560 346.8,560.5 346.8,561 346.9,561.5 346.9,562 347,562.5 347,563 347.1,563.5 347.2,564 347.2,564.5 347.3,565 347.3,565.5 347.4,566 347.4,566.5 347.5,567 347.5,567.5 347.6,568 347.7,568.5 347.7,569 347.8,569.5 347.8,570 347.9,570.5 347.9,571 348,571.5 348,572 348.1,572.5 348.1,573 348.2,573.5 348.3,574 348.3,574.5 348.4,575 348.4,575.5 348.5,576 348.5,576.5 348.6,577 348.6,577.5 348.7,578 348.8,578.5 348.8,579 348.9,579.5 348.9,580 349,580.5 349,581 349.1,581.5 349.1,582 349.2,582.5 349.3,583 349.3,583.5 349.4,584 349.4,584.5 349.5,585 349.5,585.5 349.6,586 349.6,586.5 349.7,587 349.7,587.5 349.8,588 349.9,588.5 349.9,589 350,589.5 350,590 350.1,590.5 350.1,591 350.2,591.5 350.2,592 350.3,592.5 350.3,593 350.4,593.5 350.4,594 350.5,594.5 350.6,595 350.6,595.5 350.7,596 350.7,596.5 350.8,597 350.8,597.5 350.9,598 350.9,598.5 351,599 351,599.5 351.1,600 351.2,600.5 351.2,601 351.3,601.5 351.3,602 351.4,602.5 351.4,603 351.5,603.5 351.5,604 351.6,604.5 351.6,605 351.7,605.5 351.7,606 351.8,606.5 351.9,607 351.9,607.5 352,608 352,608.5 352.1,609 352.1,609.5 352.2,610 352.2,610.5 352.3,611 352.3,611.5 352.4,612 352.4,612.5 352.5,613 352.6,613.5 352.6,614 352.7,614.5 352.7,615 352.8,615.5 352.8,616 352.9,616.5 352.9,617 353,617.5 353,618 353.1,618.5 353.2,619 353.2,619.5 353.3,620 353.3,620.5 353.4,621 353.4,621.5 353.5,622 353.5,622.5 353.6,623 353.6,623.5 353.6,624 353.7,624.5 353.7,625 401.5,625 401.5,624.5 401.6,624 401.6,623.5 401.6,623 401.7,622.5 401.7,622 401.8,621.5 401.8,621 401.9,620.5 401.9,620 402,619.5 402,619 402.1,618.5 402.2,618 402.2,617.5 402.3,617 402.3,616.5 402.4,616 402.4,615.5 402.5,615 402.5,614.5 402.6,614 402.6,613.5 402.7,613 402.8,612.5 402.8,612 402.9,611.5 402.9,611 403,610.5 403,610 403.1,609.5 403.1,609 403.2,608.5 403.2,608 403.3,607.5 403.3,607 403.4,606.5 403.5,606 403.5,605.5 403.6,605 403.6,604.5 403.7,604 403.7,603.5 403.8,603 403.8,602.5 403.9,602 403.9,601.5 404,601 404,600.5 404.1,600 404.2,599.5 404.2,599 404.3,598.5 404.3,598 404.4,597.5 404.4,597 404.5,596.5 404.5,596 404.6,595.5 404.6,595 404.7,594.5 404.8,594 404.8,593.5 404.9,593 404.9,592.5 405,592 405,591.5 405.1,591 405.1,590.5 405.2,590 405.2,589.5 405.3,589 405.3,588.5 405.4,588 405.5,587.5 405.5,587 405.6,586.5 405.6,586 405.7,585.5 405.7,585 405.8,584.5 405.8,584 405.9,583.5 405.9,583 406,582.5 406.1,582 406.1,581.5 406.2,581 406.2,580.5 406.3,580 406.3,579.5 406.4,579 406.4,578.5 406.5,578 406.6,577.5 406.6,577 406.7,576.5 406.7,576 406.8,575.5 406.8,575 406.9,574.5 406.9,574 407,573.5 407.1,573 407.1,572.5 407.2,572 407.2,571.5 407.3,571 407.3,570.5 407.4,570 407.4,569.5 407.5,569 407.5,568.5 407.6,568 407.7,567.5 407.7,567 407.8,566.5 407.8,566 407.9,565.5 407.9,565 408,564.5 408,564 408.1,563.5 408.2,563 408.2,562.5 408.3,562 408.3,561.5 408.4,561 408.4,560.5 408.5,560 408.5,559.5 408.6,559 408.7,558.5 408.7,558 408.8,557.5 408.8,557 408.9,556.5 408.9,556 409,555.5 409,555 409.1,554.5 409.1,554 409.2,553.5 409.2,553 409.3,552.5 409.3,552 409.4,551.5 409.4,551 409.5,550.5 409.5,550 409.6,549.5 409.6,549 409.7,548.5 409.7,548 409.8,547.5 409.8,547 409.9,546.5 409.9,546 410,545.5 410,545 410.1,544.5 410.1,544 410.2,543.5 410.2,543 410.3,542.5 410.3,542 410.4,541.5 410.4,541 410.5,540.5 410.5,540 410.6,539.5 410.6,539 410.7,538.5 410.7,538 410.8,537.5 410.8,537 410.9,536.5 410.9,536 411,535.5 411,535 411.1,534.5 411.1,534 411.2,533.5 411.2,533 411.3,532.5 411.3,532 411.4,531.5 411.4,531 411.5,530.5 411.5,530 411.6,529.5 411.6,529 411.7,528.5 411.7,528 411.8,527.5 411.8,527 411.9,526.5 411.9,526 412,525.5 412,525 412.1,524.5 412.1,524 412.2,523.5 412.2,523 412.3,522.5 412.3,522 412.4,521.5 412.4,521 412.5,520.5 412.5,520 412.6,519.5 412.6,519 412.7,518.5 412.7,518 412.8,517.5 412.8,517 412.8,516.5 412.9,516 412.9,515.5 413,515 413,514.5 413,514 413,513.5 413.1,513 413.1,512.5 413.1,512 413.1,511.5 413.2,511 413.2,510.5 413.2,510 413.2,509.5 413.3,509 413.3,508.5 413.3,508 413.3,507.5 413.4,507 413.4,506.5 413.4,506 413.4,505.5 413.5,505 413.5,504.5 413.5,504 413.5,503.5 413.6,503 413.6,502.5 413.6,502 413.6,501.5 413.7,501 413.7,500.5 413.7,500 413.7,499.5 413.8,499 413.8,498.5 413.8,498 413.8,497.5 413.9,497 413.9,496.5 413.9,496 413.9,495.5 414,495 414,494.5 414,494 414,493.5 414.1,493 414.1,492.5 414.1,492 414.1,491.5 414.2,491 414.2,490.5 414.2,490 414.2,489.5 414.2,489 414.3,488.5 414.3,488 414.3,487.5 414.3,487 414.4,486.5 414.4,486 414.4,485.5 414.4,485 414.5,484.5 414.5,484 414.5,483.5 414.5,483 414.6,482.5 414.6,482 414.6,481.5 414.6,481 414.7,480.5 414.7,480 414.7,479.5 414.7,479 414.8,478.5 414.8,478 414.8,477.5 414.8,477 414.8,476.5 414.8,476 414.9,475.5 414.9,475 414.9,474.5 414.9,474 414.9,473.5 414.9,473 414.9,472.5 414.9,472 414.9,471.5 414.9,471 414.9,470.5 414.9,470 414.9,469.5 414.9,469 414.9,468.5 414.9,468 414.9,467.5 414.9,467 414.9,466.5 414.9,466 414.9,465.5 414.9,465 414.9,464.5 414.9,464 414.9,463.5 414.9,463 414.9,462.5 414.9,462 414.9,461.5 414.9,461 414.9,460.5 414.9,460 414.9,459.5 414.9,459 414.9,458.5 414.9,458 414.9,457.5 414.9,457 414.9,456.5 414.9,456 414.9,455.5 414.9,455 414.9,454.5 414.9,454 414.9,453.5 414.9,453 414.9,452.5 414.9,452 414.9,451.5 414.9,451 414.9,450.5 414.9,450 414.9,449.5 414.9,449 414.9,448.5 414.9,448 414.9,447.5 414.9,447 414.9,446.5 414.9,446 414.9,445.5 414.9,445 414.9,444.5 414.9,444 414.9,443.5 414.9,443 414.9,442.5 414.9,442 414.9,441.5 414.9,441 414.9,440.5 414.9,440 414.9,439.5 414.9,439 414.9,438.5 414.9,438 414.9,437.5 414.9,437 414.9,436.5 414.9,436 414.9,435.5 414.9,435 414.9,434.5 414.9,434 414.9,433.5 414.9,433 414.8,432.5 414.8,432 414.8,431.5 414.8,431 414.8,430.5 414.8,430 414.8,429.5 414.8,429 414.8,428.5 414.8,428 414.8,427.5 414.7,427 414.7,426.5 414.7,426 414.7,425.5 414.7,425 414.7,424.5 414.7,424 414.7,423.5 414.7,423 414.7,422.5 414.6,422 414.6,421.5 414.6,421 414.6,420.5 414.6,420 414.6,419.5 414.6,419 414.6,418.5 414.6,418 414.6,417.5 414.5,417 414.5,416.5 414.5,416 414.5,415.5 414.5,415 414.5,414.5 414.5,414 414.5,413.5 414.5,413 414.4,412.5 414.4,412 414.4,411.5 414.4,411 414.4,410.5 414.4,410 414.4,409.5 414.3,409 414.3,408.5 414.3,408 414.3,407.5 414.2,407 414.2,406.5 414.2,406 414.2,405.5 414.1,405 414.1,404.5 414.1,404 414.1,403.5 414,403 414,402.5 414,402 414,401.5 413.9,401 413.9,400.5 413.9,400 413.9,399.5 413.8,399 413.8,398.5 413.8,398 413.8,397.5 413.7,397 413.7,396.5 413.7,396 413.7,395.5 413.6,395 413.6,394.5 413.6,394 413.6,393.5 413.5,393 413.5,392.5 413.5,392 413.5,391.5 413.4,391 413.4,390.5 413.4,390 413.4,389.5 413.3,389 413.3,388.5 413.3,388 413.2,387.5 413.2,387 413.2,386.5 413.2,386 413.1,385.5 413.1,385 413.1,384.5 413.1,384 413,383.5 413,383 413,382.5 412.9,382 412.9,381.5 412.9,381 412.8,380.5 412.8,380 412.7,379.5 412.7,379 412.6,378.5 412.6,378 412.5,377.5 412.5,377 412.4,376.5 412.4,376 412.3,375.5 412.3,375 412.2,374.5 412.2,374 412.1,373.5 412.1,373 412,372.5 412,372 411.9,371.5 411.8,371 411.8,370.5 411.7,370 411.7,369.5 411.6,369 411.6,368.5 411.5,368 411.5,367.5 411.4,367 411.4,366.5 411.3,366 411.2,365.5 411.2,365 411.1,364.5 411.1,364 411,363.5 411,363 410.9,362.5 410.9,362 410.8,361.5 410.8,361 410.7,360.5 410.6,360 410.6,359.5 410.5,359 410.5,358.5 410.4,358 410.4,357.5 410.3,357 410.3,356.5 410.2,356 410.2,355.5 410.1,355 410,354.5 410,354 409.9,353.5 409.9,353 409.8,352.5 409.8,352 409.7,351.5 409.7,351 409.6,350.5 409.6,350 409.5,349.5 409.5,349 409.4,348.5 409.4,348 409.3,347.5 409.2,347 409.2,346.5 409.1,346 409.1,345.5 409,345 409,344.5 408.9,344 408.9,343.5 408.8,343 408.8,342.5 408.7,342 408.6,341.5 408.6,341 408.5,340.5 408.5,340 408.4,339.5 408.3,339 408.3,338.5 408.2,338 408.1,337.5 408,337 408,336.5 407.9,336 407.8,335.5 407.7,335 407.7,334.5 407.6,334 407.5,333.5 407.4,333 407.4,332.5 407.3,332 407.2,331.5 407.1,331 407,330.5 407,330 406.9,329.5 406.8,329 406.7,328.5 406.7,328 406.6,327.5 406.5,327 406.4,326.5 406.4,326 406.3,325.5 406.2,325 406.1,324.5 406,324 406,323.5 405.9,323 405.8,322.5 405.7,322 405.7,321.5 405.6,321 405.5,320.5 405.4,320 405.4,319.5 405.3,319 405.2,318.5 405.1,318 405.1,317.5 405,317 404.9,316.5 404.8,316 404.8,315.5 404.7,315 404.6,314.5 404.6,314 404.5,313.5 404.4,313 404.4,312.5 404.3,312 404.2,311.5 404.2,311 404.1,310.5 404,310 404,309.5 403.9,309 403.8,308.5 403.8,308 403.7,307.5 403.6,307 403.6,306.5 403.5,306 403.4,305.5 403.4,305 403.3,304.5 403.2,304 403.2,303.5 403.1,303 403.1,302.5 403,302 402.9,301.5 402.9,301 402.8,300.5 402.7,300 402.7,299.5 402.6,299 402.5,298.5 402.5,298 402.4,297.5 402.3,297 402.3,296.5 402.2,296 402.1,295.5 402.1,295 402,294.5 401.9,294 401.9,293.5 401.8,293 401.7,292.5 401.7,292 401.6,291.5 401.5,291 401.5,290.5 401.4,290 401.3,289.5 401.3,289 401.2,288.5 401.1,288 401.1,287.5 401,287 400.9,286.5 400.9,286 400.8,285.5 400.7,285 400.7,284.5 400.6,284 400.5,283.5 400.5,283 400.4,282.5 400.3,282 400.3,281.5 400.2,281 400.1,280.5 400.1,280 400,279.5 399.9,279 399.9,278.5 399.8,278 399.7,277.5 399.7,277 399.6,276.5 399.5,276 399.5,275.5 399.4,275 399.3,274.5 399.2,274 399.2,273.5 399.1,273 399,272.5 399,272 398.9,271.5 398.8,271 398.7,270.5 398.7,270 398.6,269.5 398.5,269 398.5,268.5 398.4,268 398.3,267.5 398.2,267 398.2,266.5 398.1,266 398,265.5 398,265 397.9,264.5 397.8,264 397.7,263.5 397.7,263 397.6,262.5 397.5,262 397.5,261.5 397.4,261 397.3,260.5 397.2,260 397.2,259.5 397.1,259 397,258.5 397,258 396.9,257.5 396.8,257 396.8,256.5 396.7,256 396.6,255.5 396.5,255 396.5,254.5 396.4,254 396.3,253.5 396.3,253 396.2,252.5 396.1,252 396,251.5 396,251 395.9,250.5 395.8,250 395.8,249.5 395.7,249 395.6,248.5 395.5,248 395.5,247.5 395.4,247 395.3,246.5 395.3,246 395.2,245.5 395.1,245 395,244.5 395,244 394.9,243.5 394.8,243 394.8,242.5 394.7,242 394.6,241.5 394.5,241 394.5,240.5 394.4,240 394.3,239.5 394.3,239 394.2,238.5 394.1,238 394.1,237.5 394,237 394,236.5 393.9,236 393.8,235.5 393.8,235 393.7,234.5 393.6,234 393.6,233.5 393.5,233 393.5,232.5 393.4,232 393.3,231.5 393.3,231 393.2,230.5 393.1,230 393.1,229.5 393,229 393,228.5 392.9,228 392.8,227.5 392.8,227 392.7,226.5 392.6,226 392.6,225.5 392.5,225 392.5,224.5 392.4,224 392.3,223.5 392.3,223 392.2,222.5 392.1,222 392.1,221.5 392,221 392,220.5 391.9,220 391.8,219.5 391.8,219 391.7,218.5 391.6,218 391.6,217.5 391.5,217 391.5,216.5 391.4,216 391.3,215.5 391.3,215 391.2,214.5 391.1,214 391.1,213.5 391,213 391,212.5 390.9,212 390.8,211.5 390.8,211 390.7,210.5 390.6,210 390.6,209.5 390.5,209 390.5,208.5 390.4,208 390.3,207.5 390.3,207 390.2,206.5 390.1,206 390.1,205.5 390,205 390,204.5 389.9,204 389.8,203.5 389.8,203 389.7,202.5 389.7,202 389.6,201.5 389.5,201 389.5,200.5 389.4,200 389.4,199.5 389.3,199 389.3,198.5 389.2,198 389.2,197.5 389.1,197 389.1,196.5 389,196 389,195.5 388.9,195 388.9,194.5 388.8,194 388.8,193.5 388.7,193 388.7,192.5 388.6,192 388.6,191.5 388.5,191 388.5,190.5 388.4,190 388.4,189.5 388.3,189 388.3,188.5 388.2,188 388.2,187.5 388.1,187 388.1,186.5 388,186 388,185.5 387.9,185 387.9,184.5 387.8,184 387.8,183.5 387.7,183 387.7,182.5 387.6,182 387.6,181.5 387.5,181 387.4,180.5 387.4,180 387.3,179.5 387.3,179 387.2,178.5 387.2,178 387.1,177.5 387.1,177 387,176.5 387,176 386.9,175.5 386.9,175 386.8,174.5 386.8,174 386.7,173.5 386.7,173 386.6,172.5 386.6,172 386.5,171.5 386.5,171 386.4,170.5 386.4,170 386.3,169.5 386.3,169 386.2,168.5 386.2,168 386.1,167.5 386.1,167 386,166.5 386,166 385.9,165.5 385.9,165 385.8,164.5 385.8,164 385.7,163.5 385.7,163 385.6,162.5 385.6,162 385.6,161.5 385.5,161 385.5,160.5 385.4,160 385.4,159.5 385.3,159 385.3,158.5 385.3,158 385.2,157.5 385.2,157 385.1,156.5 385.1,156 385,155.5 385,155 385,154.5 384.9,154 384.9,153.5 384.8,153 384.8,152.5 384.8,152 384.7,151.5 384.7,151 384.6,150.5 384.6,150 384.5,149.5 384.5,149 384.5,148.5 384.4,148 384.4,147.5 384.3,147 384.3,146.5 384.3,146 384.2,145.5 384.2,145 384.1,144.5 384.1,144 384,143.5 384,143 384,142.5 383.9,142 383.9,141.5 383.8,141 383.8,140.5 383.8,140 383.7,139.5 383.7,139 383.6,138.5 383.6,138 383.6,137.5 383.5,137 383.5,136.5 383.4,136 383.4,135.5 383.3,135 383.3,134.5 383.3,134 383.2,133.5 383.2,133 383.1,132.5 383.1,132 383.1,131.5 383,131 383,130.5 382.9,130 382.9,129.5 382.8,129 382.8,128.5 382.8,128 382.7,127.5 382.7,127 382.6,126.5 382.6,126 382.6,125.5 382.5,125 382.5,124.5 382.5,124 382.4,123.5 382.4,123 382.4,122.5 382.3,122 382.3,121.5 382.3,121 382.3,120.5 382.2,120 382.2,119.5 382.2,119 382.2,118.5 382.1,118 382.1,117.5 382.1,117 382.1,116.5 382,116 382,115.5 382,115 382,114.5 381.9,114 381.9,113.5 381.9,113 381.9,112.5 381.8,112 381.8,111.5 381.8,111 381.8,110.5 381.8,110 381.7,109.5 381.7,109 381.7,108.5 381.7,108 381.6,107.5 381.6,107 381.6,106.5 381.6,106 381.5,105.5 381.5,105 381.5,104.5 381.5,104 381.4,103.5 381.4,103 381.4,102.5 381.4,102 381.3,101.5 381.3,101 381.3,100.5 381.3,100 381.3,99.5 381.2,99 381.2,98.5 381.2,98 381.2,97.5 381.1,97 381.1,96.5 381.1,96 381.1,95.5 381,95 381,94.5 381,94 381,93.5 380.9,93 380.9,92.5 380.9,92 380.9,91.5 380.8,91 380.8,90.5 380.8,90 380.8,89.5 380.7,89 380.7,88.5 380.7,88 380.7,87.5 380.6,87 380.6,86.5 380.6,86 380.5,85.5 380.5,85 380.5,84.5 380.5,84 380.4,83.5 380.4,83 380.4,82.5 380.3,82 380.3,81.5 380.3,81 380.3,80.5 380.2,80 380.2,79.5 380.2,79 380.1,78.5 380.1,78 380.1,77.5 380.1,77 380,76.5 380,76 380,75.5 380,75 379.9,74.5 379.9,74 379.9,73.5 379.8,73 379.8,72.5 379.8,72 379.8,71.5 379.7,71 379.7,70.5 379.7,70 379.6,69.5 379.6,69 379.6,68.5 379.6,68 379.5,67.5 379.5,67 379.5,66.5 379.4,66 379.4,65.5 379.4,65 379.4,64.5 379.3,64 379.3,63.5 379.3,63 379.3,62.5 379.2,62 379.2,61.5 379.2,61 379.2,60.5 379.2,60"/></clipPath>
<clipPath id="vc3"><polygon points="459.6,501.1 459.5,501.6 459.5,502.1 459.4,502.6 459.4,503.1 459.3,503.6 459.3,504.1 459.2,504.6 459.1,505.1 459.1,505.6 459,506.1 459,506.6 458.9,507.1 458.8,507.6 458.8,508.1 458.7,508.6 458.6,509.1 458.6,509.6 458.5,510.1 458.4,510.6 458.3,511.1 458.3,511.6 458.2,512.1 458.1,512.6 458,513.1 458,513.6 457.9,514.1 457.8,514.6 457.7,515.1 457.7,515.6 457.6,516.1 457.5,516.6 457.4,517.1 457.3,517.6 457.2,518.1 457.1,518.6 457,519.1 456.9,519.6 456.8,520.1 456.7,520.6 456.6,521.1 456.5,521.6 456.4,522.1 456.3,522.6 456.2,523.1 456.1,523.6 456,524.1 455.9,524.6 455.8,525.1 455.7,525.6 455.6,526.1 455.5,526.6 455.4,527.1 455.2,527.6 455.1,528.1 455,528.6 454.8,529.1 454.6,529.6 454.5,530.1 454.3,530.6 454.1,531.1 453.9,531.6 453.6,532.1 453.4,532.6 453.2,533.1 452.9,533.6 452.7,534.1 452.4,534.6 452.1,535.1 451.8,535.6 451.5,536.1 451.2,536.6 450.8,537.1 450.5,537.6 450.1,538.1 449.7,538.6 449.4,539.1 449,539.6 448.6,540.1 448.1,540.6 447.7,541.1 447.3,541.6 446.8,542.1 446.4,542.6 445.9,543.1 445.4,543.6 444.9,544.1 444.5,544.6 444,545.1 443.5,545.6 443,546.1 442.5,546.6 442,547.1 441.6,547.6 441.1,548.1 440.6,548.6 440.1,549.1 439.6,549.6 439.1,550.1 438.6,550.6 438.1,551.1 437.7,551.6 437.2,552.1 436.7,552.6 436.2,553.1 435.8,553.6 435.3,554.1 434.9,554.6 434.4,555.1 434,555.6 433.5,556.1 433.1,556.6 432.7,557.1 432.2,557.6 431.8,558.1 431.4,558.6 431,559.1 430.6,559.6 430.2,560.1 429.8,560.6 429.4,561.1 429.1,561.6 428.7,562.1 428.3,562.6 427.9,563.1 427.6,563.6 427.2,564.1 426.9,564.6 426.6,565.1 426.2,565.6 425.9,566.1 425.6,566.6 425.3,567.1 425.1,567.6 424.8,568.1 424.6,568.6 424.3,569.1 424.1,569.6 423.9,570.1 423.7,570.6 423.6,571.1 423.4,571.6 423.2,572.1 423.1,572.6 423,573.1 422.9,573.6 422.8,574.1 422.7,574.6 422.6,575.1 422.5,575.6 422.5,576.1 422.5,576.6 422.5,577.1 422.5,577.6 422.6,578.1 422.6,578.6 422.7,579.1 422.8,579.6 422.9,580.1 423,580.6 423.2,581.1 423.3,581.6 423.5,582.1 423.7,582.6 423.9,583.1 424.1,583.6 424.4,584.1 424.7,584.6 425,585.1 425.3,585.6 425.7,586.1 426,586.6 426.4,587.1 426.8,587.6 427.2,588.1 427.7,588.6 428.1,589.1 428.6,589.6 429,590.1 429.5,590.6 430,591.1 430.5,591.6 431,592.1 431.4,592.6 431.9,593.1 432.4,593.6 432.9,594.1 433.4,594.6 433.9,595.1 434.3,595.6 434.8,596.1 435.3,596.6 435.7,597.1 436.2,597.6 436.7,598.1 437.1,598.6 437.6,599.1 438.1,599.6 438.5,600.1 439,600.6 439.4,601.1 439.9,601.6 440.3,602.1 440.8,602.6 441.2,603.1 441.6,603.6 442.1,604.1 442.5,604.6 442.9,605.1 443.3,605.6 443.7,606.1 444.2,606.6 444.6,607.1 445,607.6 445.4,608.1 445.7,608.6 446.1,609.1 446.5,609.6 446.9,610.1 447.3,610.6 447.6,611.1 448,611.6 448.4,612.1 448.7,612.6 449.1,613.1 449.4,613.6 449.8,614.1 450.1,614.6 450.4,615.1 450.8,615.6 451.1,616.1 451.4,616.6 451.7,617.1 452,617.6 452.3,618.1 452.6,618.6 452.9,619.1 453.2,619.6 453.5,620.1 453.8,620.6 454,621.1 454.3,621.6 454.5,622.1 454.7,622.6 454.9,623.1 455.1,623.6 455.3,624.1 455.4,624.6 463.8,624.6 463.9,624.1 464.1,623.6 464.3,623.1 464.5,622.6 464.7,622.1 464.9,621.6 465.2,621.1 465.4,620.6 465.7,620.1 466,619.6 466.3,619.1 466.6,618.6 466.9,618.1 467.2,617.6 467.5,617.1 467.8,616.6 468.1,616.1 468.4,615.6 468.8,615.1 469.1,614.6 469.4,614.1 469.8,613.6 470.1,613.1 470.5,612.6 470.8,612.1 471.2,611.6 471.6,611.1 471.9,610.6 472.3,610.1 472.7,609.6 473.1,609.1 473.5,608.6 473.8,608.1 474.2,607.6 474.6,607.1 475,606.6 475.5,606.1 475.9,605.6 476.3,605.1 476.7,604.6 477.1,604.1 477.6,603.6 478,603.1 478.4,602.6 478.9,602.1 479.3,601.6 479.8,601.1 480.2,600.6 480.7,600.1 481.1,599.6 481.6,599.1 482.1,598.6 482.5,598.1 483,597.6 483.5,597.1 483.9,596.6 484.4,596.1 484.9,595.6 485.3,595.1 485.8,594.6 486.3,594.1 486.8,593.6 487.3,593.1 487.8,592.6 488.2,592.1 488.7,591.6 489.2,591.1 489.7,590.6 490.2,590.1 490.6,589.6 491.1,589.1 491.5,588.6 492,588.1 492.4,587.6 492.8,587.1 493.2,586.6 493.5,586.1 493.9,585.6 494.2,585.1 494.5,584.6 494.8,584.1 495.1,583.6 495.3,583.1 495.5,582.6 495.7,582.1 495.9,581.6 496,581.1 496.2,580.6 496.3,580.1 496.4,579.6 496.5,579.1 496.6,578.6 496.6,578.1 496.7,577.6 496.7,577.1 496.7,576.6 496.7,576.1 496.7,575.6 496.6,575.1 496.5,574.6 496.4,574.1 496.3,573.6 496.2,573.1 496.1,572.6 496,572.1 495.8,571.6 495.6,571.1 495.5,570.6 495.3,570.1 495.1,569.6 494.9,569.1 494.6,568.6 494.4,568.1 494.1,567.6 493.9,567.1 493.6,566.6 493.3,566.1 493,565.6 492.6,565.1 492.3,564.6 492,564.1 491.6,563.6 491.3,563.1 490.9,562.6 490.5,562.1 490.1,561.6 489.8,561.1 489.4,560.6 489,560.1 488.6,559.6 488.2,559.1 487.8,558.6 487.4,558.1 487,557.6 486.5,557.1 486.1,556.6 485.7,556.1 485.2,555.6 484.8,555.1 484.3,554.6 483.9,554.1 483.4,553.6 483,553.1 482.5,552.6 482,552.1 481.5,551.6 481.1,551.1 480.6,550.6 480.1,550.1 479.6,549.6 479.1,549.1 478.6,548.6 478.1,548.1 477.6,547.6 477.2,547.1 476.7,546.6 476.2,546.1 475.7,545.6 475.2,545.1 474.7,544.6 474.3,544.1 473.8,543.6 473.3,543.1 472.8,542.6 472.4,542.1 471.9,541.6 471.5,541.1 471.1,540.6 470.6,540.1 470.2,539.6 469.8,539.1 469.5,538.6 469.1,538.1 468.7,537.6 468.4,537.1 468,536.6 467.7,536.1 467.4,535.6 467.1,535.1 466.8,534.6 466.5,534.1 466.3,533.6 466,533.1 465.8,532.6 465.6,532.1 465.3,531.6 465.1,531.1 464.9,530.6 464.7,530.1 464.6,529.6 464.4,529.1 464.2,528.6 464.1,528.1 464,527.6 463.8,527.1 463.7,526.6 463.6,526.1 463.5,525.6 463.4,525.1 463.3,524.6 463.2,524.1 463.1,523.6 463,523.1 462.9,522.6 462.8,522.1 462.7,521.6 462.6,521.1 462.5,520.6 462.4,520.1 462.3,519.6 462.2,519.1 462.1,518.6 462,518.1 461.9,517.6 461.8,517.1 461.7,516.6 461.6,516.1 461.5,515.6 461.5,515.1 461.4,514.6 461.3,514.1 461.2,513.6 461.2,513.1 461.1,512.6 461,512.1 460.9,511.6 460.9,511.1 460.8,510.6 460.7,510.1 460.6,509.6 460.6,509.1 460.5,508.6 460.4,508.1 460.4,507.6 460.3,507.1 460.2,506.6 460.2,506.1 460.1,505.6 460.1,505.1 460,504.6 459.9,504.1 459.9,503.6 459.8,503.1 459.8,502.6 459.7,502.1 459.7,501.6 459.6,501.1"/></clipPath>
<clipPath id="vc4"><polygon points="541.6,103.9 541.6,104.4 541.6,104.9 541.6,105.4 541.6,105.9 541.6,106.4 541.6,106.9 541.6,107.4 541.6,107.9 541.5,108.4 541.5,108.9 541.5,109.4 541.5,109.9 541.5,110.4 541.5,110.9 541.5,111.4 541.5,111.9 541.5,112.4 541.5,112.9 541.5,113.4 541.5,113.9 541.5,114.4 541.5,114.9 541.5,115.4 541.5,115.9 541.4,116.4 541.4,116.9 541.4,117.4 541.4,117.9 541.4,118.4 541.4,118.9 541.4,119.4 541.4,119.9 541.4,120.4 541.4,120.9 541.4,121.4 541.4,121.9 541.4,122.4 541.4,122.9 541.4,123.4 541.4,123.9 541.4,124.4 541.3,124.9 541.3,125.4 541.3,125.9 541.3,126.4 541.3,126.9 541.3,127.4 541.3,127.9 541.3,128.4 541.3,128.9 541.3,129.4 541.3,129.9 541.3,130.4 541.3,130.9 541.3,131.4 541.3,131.9 541.3,132.4 541.2,132.9 541.2,133.4 541.2,133.9 541.2,134.4 541.2,134.9 541.2,135.4 541.2,135.9 541.2,136.4 541.2,136.9 541.2,137.4 541.2,137.9 541.2,138.4 541.2,138.9 541.2,139.4 541.2,139.9 541.2,140.4 541.1,140.9 541.1,141.4 541.1,141.9 541.1,142.4 541.1,142.9 541.1,143.4 541.1,143.9 541.1,144.4 541.1,144.9 541.1,145.4 541.1,145.9 541.1,146.4 541.1,146.9 541.1,147.4 541.1,147.9 541.1,148.4 541.1,148.9 541,149.4 541,149.9 541,150.4 541,150.9 541,151.4 541,151.9 541,152.4 541,152.9 541,153.4 541,153.9 541,154.4 541,154.9 541,155.4 540.9,155.9 540.9,156.4 540.9,156.9 540.9,157.4 540.9,157.9 540.9,158.4 540.9,158.9 540.9,159.4 540.9,159.9 540.9,160.4 540.9,160.9 540.8,161.4 540.8,161.9 540.8,162.4 540.8,162.9 540.8,163.4 540.8,163.9 540.8,164.4 540.8,164.9 540.8,165.4 540.8,165.9 540.8,166.4 540.7,166.9 540.7,167.4 540.7,167.9 540.7,168.4 540.7,168.9 540.7,169.4 540.7,169.9 540.7,170.4 540.7,170.9 540.7,171.4 540.7,171.9 540.6,172.4 540.6,172.9 540.6,173.4 540.6,173.9 540.6,174.4 540.6,174.9 540.6,175.4 540.6,175.9 540.6,176.4 540.6,176.9 540.5,177.4 540.5,177.9 540.5,178.4 540.5,178.9 540.5,179.4 540.5,179.9 540.5,180.4 540.5,180.9 540.4,181.4 540.4,181.9 540.4,182.4 540.4,182.9 540.4,183.4 540.4,183.9 540.4,184.4 540.3,184.9 540.3,185.4 540.3,185.9 540.3,186.4 540.3,186.9 540.3,187.4 540.2,187.9 540.2,188.4 540.2,188.9 540.2,189.4 540.2,189.9 540.1,190.4 540.1,190.9 540.1,191.4 540.1,191.9 540.1,192.4 540.1,192.9 540,193.4 540,193.9 540,194.4 540,194.9 540,195.4 540,195.9 539.9,196.4 539.9,196.9 539.9,197.4 539.9,197.9 539.9,198.4 539.9,198.9 539.8,199.4 539.8,199.9 539.8,200.4 539.8,200.9 539.8,201.4 539.7,201.9 539.7,202.4 539.7,202.9 539.6,203.4 539.6,203.9 539.6,204.4 539.5,204.9 539.5,205.4 539.4,205.9 539.4,206.4 539.3,206.9 539.3,207.4 539.2,207.9 539.2,208.4 539.1,208.9 539.1,209.4 539,209.9 539,210.4 538.9,210.9 538.8,211.4 538.8,211.9 538.7,212.4 538.7,212.9 538.6,213.4 538.6,213.9 538.5,214.4 538.5,214.9 538.4,215.4 538.3,215.9 538.3,216.4 538.2,216.9 538.2,217.4 538.1,217.9 538.1,218.4 538,218.9 538,219.4 537.9,219.9 537.8,220.4 537.8,220.9 537.7,221.4 537.7,221.9 537.6,222.4 537.6,222.9 537.5,223.4 537.5,223.9 537.4,224.4 537.3,224.9 537.3,225.4 537.2,225.9 537.2,226.4 537.1,226.9 537.1,227.4 537,227.9 537,228.4 536.9,228.9 536.8,229.4 536.8,229.9 536.7,230.4 536.7,230.9 536.6,231.4 536.6,231.9 536.5,232.4 536.4,232.9 536.4,233.4 536.3,233.9 536.3,234.4 536.2,234.9 536.2,235.4 536.1,235.9 536,236.4 536,236.9 535.9,237.4 535.9,237.9 535.8,238.4 535.8,238.9 535.7,239.4 535.6,239.9 535.6,240.4 535.5,240.9 535.5,241.4 535.4,241.9 535.4,242.4 535.3,242.9 535.2,243.4 535.2,243.9 535.1,244.4 535.1,244.9 535,245.4 535,245.9 534.9,246.4 534.8,246.9 534.8,247.4 534.7,247.9 534.7,248.4 534.6,248.9 534.5,249.4 534.5,249.9 534.4,250.4 534.4,250.9 534.3,251.4 534.2,251.9 534.2,252.4 534.1,252.9 534.1,253.4 534,253.9 533.9,254.4 533.8,254.9 533.8,255.4 533.7,255.9 533.6,256.4 533.5,256.9 533.4,257.4 533.3,257.9 533.3,258.4 533.2,258.9 533.1,259.4 533,259.9 532.9,260.4 532.8,260.9 532.7,261.4 532.7,261.9 532.6,262.4 532.5,262.9 532.4,263.4 532.3,263.9 532.2,264.4 532.1,264.9 532,265.4 532,265.9 531.9,266.4 531.8,266.9 531.7,267.4 531.6,267.9 531.5,268.4 531.4,268.9 531.3,269.4 531.3,269.9 531.2,270.4 531.1,270.9 531,271.4 530.9,271.9 530.8,272.4 530.7,272.9 530.6,273.4 530.6,273.9 530.5,274.4 530.4,274.9 530.3,275.4 530.2,275.9 530.1,276.4 530,276.9 529.9,277.4 529.9,277.9 529.8,278.4 529.7,278.9 529.6,279.4 529.5,279.9 529.4,280.4 529.3,280.9 529.2,281.4 529.1,281.9 529,282.4 528.9,282.9 528.8,283.4 528.7,283.9 528.6,284.4 528.5,284.9 528.4,285.4 528.3,285.9 528.2,286.4 528.1,286.9 528,287.4 527.9,287.9 527.8,288.4 527.7,288.9 527.6,289.4 527.5,289.9 527.4,290.4 527.3,290.9 527.2,291.4 527.1,291.9 527,292.4 526.9,292.9 526.8,293.4 526.7,293.9 526.6,294.4 526.5,294.9 526.4,295.4 526.3,295.9 526.2,296.4 526.1,296.9 526,297.4 525.9,297.9 525.8,298.4 525.7,298.9 525.6,299.4 525.5,299.9 525.4,300.4 525.4,300.9 525.3,301.4 525.2,301.9 525.1,302.4 525,302.9 524.9,303.4 524.8,303.9 524.7,304.4 524.6,304.9 524.5,305.4 524.4,305.9 524.3,306.4 524.2,306.9 524.1,307.4 524,307.9 523.9,308.4 523.8,308.9 523.7,309.4 523.6,309.9 523.5,310.4 523.4,310.9 523.2,311.4 523.1,311.9 523,312.4 522.9,312.9 522.8,313.4 522.7,313.9 522.6,314.4 522.5,314.9 522.4,315.4 522.3,315.9 522.2,316.4 522.1,316.9 522,317.4 521.9,317.9 521.8,318.4 521.7,318.9 521.6,319.4 521.5,319.9 521.4,320.4 521.3,320.9 521.2,321.4 521.1,321.9 521,322.4 520.9,322.9 520.8,323.4 520.7,323.9 520.6,324.4 520.5,324.9 520.4,325.4 520.3,325.9 520.2,326.4 520.1,326.9 520,327.4 519.9,327.9 519.8,328.4 519.7,328.9 519.6,329.4 519.5,329.9 519.4,330.4 519.3,330.9 519.2,331.4 519.1,331.9 519,332.4 518.9,332.9 518.8,333.4 518.7,333.9 518.6,334.4 518.5,334.9 518.4,335.4 518.3,335.9 518.2,336.4 518.1,336.9 518,337.4 517.9,337.9 517.8,338.4 517.7,338.9 517.6,339.4 517.5,339.9 517.4,340.4 517.3,340.9 517.2,341.4 517.1,341.9 517,342.4 516.8,342.9 516.7,343.4 516.6,343.9 516.5,344.4 516.4,344.9 516.3,345.4 516.2,345.9 516.1,346.4 516,346.9 515.8,347.4 515.7,347.9 515.6,348.4 515.5,348.9 515.4,349.4 515.3,349.9 515.2,350.4 515.1,350.9 515,351.4 514.8,351.9 514.7,352.4 514.6,352.9 514.5,353.4 514.4,353.9 514.3,354.4 514.2,354.9 514.1,355.4 514,355.9 513.9,356.4 513.8,356.9 513.7,357.4 513.6,357.9 513.5,358.4 513.4,358.9 513.3,359.4 513.2,359.9 513.1,360.4 513,360.9 512.9,361.4 512.8,361.9 512.7,362.4 512.6,362.9 512.5,363.4 512.4,363.9 512.3,364.4 512.2,364.9 512.1,365.4 512.1,365.9 512,366.4 511.9,366.9 511.8,367.4 511.7,367.9 511.6,368.4 511.5,368.9 511.5,369.4 511.4,369.9 511.3,370.4 511.2,370.9 511.2,371.4 511.1,371.9 511,372.4 510.9,372.9 510.9,373.4 510.8,373.9 510.7,374.4 510.6,374.9 510.5,375.4 510.5,375.9 510.4,376.4 510.3,376.9 510.2,377.4 510.2,377.9 510.1,378.4 510,378.9 509.9,379.4 509.9,379.9 509.8,380.4 509.7,380.9 509.6,381.4 509.6,381.9 509.5,382.4 509.4,382.9 509.3,383.4 509.3,383.9 509.2,384.4 509.1,384.9 509,385.4 509,385.9 508.9,386.4 508.8,386.9 508.7,387.4 508.7,387.9 508.6,388.4 508.5,388.9 508.4,389.4 508.4,389.9 508.3,390.4 508.2,390.9 508.1,391.4 508.1,391.9 508,392.4 507.9,392.9 507.9,393.4 507.8,393.9 507.7,394.4 507.7,394.9 507.6,395.4 507.6,395.9 507.5,396.4 507.4,396.9 507.4,397.4 507.3,397.9 507.3,398.4 507.2,398.9 507.2,399.4 507.1,399.9 507.1,400.4 507,400.9 507,401.4 506.9,401.9 506.9,402.4 506.8,402.9 506.8,403.4 506.7,403.9 506.7,404.4 506.6,404.9 506.6,405.4 506.5,405.9 506.5,406.4 506.4,406.9 506.4,407.4 506.3,407.9 506.3,408.4 506.2,408.9 506.2,409.4 506.1,409.9 506.1,410.4 506,410.9 506,411.4 505.9,411.9 505.9,412.4 505.8,412.9 505.8,413.4 505.7,413.9 505.7,414.4 505.7,414.9 505.6,415.4 505.6,415.9 505.6,416.4 505.5,416.9 505.5,417.4 505.5,417.9 505.4,418.4 505.4,418.9 505.4,419.4 505.4,419.9 505.3,420.4 505.3,420.9 505.3,421.4 505.3,421.9 505.2,422.4 505.2,422.9 505.2,423.4 505.2,423.9 505.1,424.4 505.1,424.9 505.1,425.4 505.1,425.9 505,426.4 505,426.9 505,427.4 505,427.9 504.9,428.4 504.9,428.9 504.9,429.4 504.9,429.9 504.8,430.4 504.8,430.9 504.8,431.4 504.8,431.9 504.7,432.4 504.7,432.9 504.7,433.4 504.7,433.9 504.7,434.4 504.7,434.9 504.7,435.4 504.7,435.9 504.7,436.4 504.7,436.9 504.7,437.4 504.7,437.9 504.7,438.4 504.7,438.9 504.8,439.4 504.8,439.9 504.8,440.4 504.8,440.9 504.8,441.4 504.8,441.9 504.9,442.4 504.9,442.9 504.9,443.4 504.9,443.9 504.9,444.4 504.9,444.9 505,445.4 505,445.9 505,446.4 505,446.9 505,447.4 505.1,447.9 505.1,448.4 505.1,448.9 505.1,449.4 505.1,449.9 505.1,450.4 505.2,450.9 505.2,451.4 505.2,451.9 505.2,452.4 505.2,452.9 505.3,453.4 505.3,453.9 505.3,454.4 505.3,454.9 505.4,455.4 505.4,455.9 505.4,456.4 505.4,456.9 505.5,457.4 505.5,457.9 505.5,458.4 505.6,458.9 505.6,459.4 505.6,459.9 505.7,460.4 505.7,460.9 505.7,461.4 505.8,461.9 505.8,462.4 505.8,462.9 505.9,463.4 505.9,463.9 505.9,464.4 506,464.9 506,465.4 506,465.9 506.1,466.4 506.1,466.9 506.1,467.4 506.2,467.9 506.2,468.4 506.2,468.9 506.3,469.4 506.3,469.9 506.3,470.4 506.4,470.9 506.4,471.4 506.5,471.9 506.5,472.4 506.5,472.9 506.6,473.4 506.6,473.9 506.7,474.4 506.7,474.9 506.7,475.4 506.8,475.9 506.8,476.4 506.9,476.9 507,477.4 507,477.9 507.1,478.4 507.1,478.9 507.2,479.4 507.3,479.9 507.3,480.4 507.4,480.9 507.5,481.4 507.5,481.9 507.6,482.4 507.7,482.9 507.7,483.4 507.8,483.9 507.9,484.4 507.9,484.9 508,485.4 508.1,485.9 508.1,486.4 508.2,486.9 508.3,487.4 508.3,487.9 508.4,488.4 508.5,488.9 508.5,489.4 508.6,489.9 508.7,490.4 508.7,490.9 508.8,491.4 508.9,491.9 508.9,492.4 509,492.9 509.1,493.4 509.1,493.9 509.2,494.4 509.3,494.9 509.3,495.4 509.4,495.9 509.5,496.4 509.5,496.9 509.6,497.4 509.7,497.9 509.7,498.4 509.8,498.9 509.9,499.4 509.9,499.9 510,500.4 510.1,500.9 510.1,501.4 510.2,501.9 510.3,502.4 510.3,502.9 510.4,503.4 510.5,503.9 510.5,504.4 510.6,504.9 510.7,505.4 510.7,505.9 510.8,506.4 510.9,506.9 510.9,507.4 511,507.9 511.1,508.4 511.1,508.9 511.2,509.4 511.3,509.9 511.3,510.4 511.4,510.9 511.5,511.4 511.5,511.9 511.6,512.4 511.6,512.9 511.7,513.4 511.8,513.9 511.9,514.4 511.9,514.9 512,515.4 512.1,515.9 512.1,516.4 512.2,516.9 512.3,517.4 512.3,517.9 512.4,518.4 512.5,518.9 512.5,519.4 512.6,519.9 512.7,520.4 512.8,520.9 512.8,521.4 512.9,521.9 513,522.4 513,522.9 513.1,523.4 513.2,523.9 513.3,524.4 513.3,524.9 513.4,525.4 513.5,525.9 513.5,526.4 513.6,526.9 513.7,527.4 513.8,527.9 513.8,528.4 513.9,528.9 514,529.4 514,529.9 514.1,530.4 514.2,530.9 514.3,531.4 514.3,531.9 514.4,532.4 514.5,532.9 514.5,533.4 514.6,533.9 514.7,534.4 514.8,534.9 514.8,535.4 514.9,535.9 515,536.4 515,536.9 515.1,537.4 515.2,537.9 515.2,538.4 515.3,538.9 515.4,539.4 515.5,539.9 515.5,540.4 515.6,540.9 515.7,541.4 515.7,541.9 515.8,542.4 515.9,542.9 516,543.4 516,543.9 516.1,544.4 516.2,544.9 516.2,545.4 516.3,545.9 516.4,546.4 516.5,546.9 516.5,547.4 516.6,547.9 516.7,548.4 516.7,548.9 516.8,549.4 516.9,549.9 517,550.4 517,550.9 517.1,551.4 517.2,551.9 517.2,552.4 517.3,552.9 517.4,553.4 517.5,553.9 517.5,554.4 517.6,554.9 517.7,555.4 517.7,555.9 517.8,556.4 517.9,556.9 517.9,557.4 518,557.9 518,558.4 518.1,558.9 518.2,559.4 518.2,559.9 518.3,560.4 518.3,560.9 518.4,561.4 518.5,561.9 518.5,562.4 518.6,562.9 518.6,563.4 518.7,563.9 518.8,564.4 518.8,564.9 518.9,565.4 518.9,565.9 519,566.4 519,566.9 519.1,567.4 519.2,567.9 519.2,568.4 519.3,568.9 519.3,569.4 519.4,569.9 519.4,570.4 519.5,570.9 519.6,571.4 519.6,571.9 519.7,572.4 519.7,572.9 519.8,573.4 519.9,573.9 519.9,574.4 520,574.9 520,575.4 520.1,575.9 520.1,576.4 520.2,576.9 520.3,577.4 520.3,577.9 520.4,578.4 520.4,578.9 520.5,579.4 520.5,579.9 520.6,580.4 520.7,580.9 520.7,581.4 520.8,581.9 520.8,582.4 520.9,582.9 520.9,583.4 521,583.9 521.1,584.4 521.1,584.9 521.2,585.4 521.2,585.9 521.3,586.4 521.4,586.9 521.4,587.4 521.5,587.9 521.5,588.4 521.6,588.9 521.6,589.4 521.7,589.9 521.8,590.4 521.8,590.9 521.9,591.4 521.9,591.9 522,592.4 522,592.9 522.1,593.4 522.2,593.9 522.2,594.4 522.3,594.9 522.3,595.4 522.4,595.9 522.4,596.4 522.5,596.9 522.6,597.4 522.6,597.9 522.7,598.4 522.7,598.9 522.8,599.4 522.8,599.9 522.9,600.4 522.9,600.9 523,601.4 523,601.9 523.1,602.4 523.1,602.9 523.2,603.4 523.2,603.9 523.3,604.4 523.3,604.9 523.4,605.4 523.4,605.9 523.5,606.4 523.5,606.9 523.6,607.4 523.6,607.9 523.7,608.4 523.7,608.9 523.8,609.4 523.8,609.9 523.9,610.4 523.9,610.9 524,611.4 524,611.9 524.1,612.4 524.1,612.9 524.2,613.4 524.2,613.9 524.3,614.4 524.3,614.9 524.4,615.4 524.4,615.9 524.4,616.4 524.5,616.9 524.5,617.4 524.6,617.9 524.6,618.4 524.7,618.9 524.7,619.4 524.8,619.9 524.8,620.4 524.9,620.9 524.9,621.4 525,621.9 525,622.4 525.1,622.9 525.1,623.4 525.1,623.9 525.2,624.4 525.2,624.9 558,624.9 558,624.4 558.1,623.9 558.1,623.4 558.1,622.9 558.2,622.4 558.2,621.9 558.3,621.4 558.3,620.9 558.4,620.4 558.4,619.9 558.5,619.4 558.5,618.9 558.6,618.4 558.6,617.9 558.7,617.4 558.7,616.9 558.8,616.4 558.8,615.9 558.8,615.4 558.9,614.9 558.9,614.4 559,613.9 559,613.4 559.1,612.9 559.1,612.4 559.2,611.9 559.2,611.4 559.3,610.9 559.3,610.4 559.4,609.9 559.4,609.4 559.5,608.9 559.5,608.4 559.6,607.9 559.6,607.4 559.7,606.9 559.7,606.4 559.8,605.9 559.8,605.4 559.9,604.9 559.9,604.4 560,603.9 560,603.4 560.1,602.9 560.1,602.4 560.2,601.9 560.2,601.4 560.3,600.9 560.3,600.4 560.4,599.9 560.4,599.4 560.5,598.9 560.5,598.4 560.6,597.9 560.6,597.4 560.7,596.9 560.8,596.4 560.8,595.9 560.9,595.4 560.9,594.9 561,594.4 561,593.9 561.1,593.4 561.2,592.9 561.2,592.4 561.3,591.9 561.3,591.4 561.4,590.9 561.4,590.4 561.5,589.9 561.6,589.4 561.6,588.9 561.7,588.4 561.7,587.9 561.8,587.4 561.8,586.9 561.9,586.4 562,585.9 562,585.4 562.1,584.9 562.1,584.4 562.2,583.9 562.3,583.4 562.3,582.9 562.4,582.4 562.4,581.9 562.5,581.4 562.5,580.9 562.6,580.4 562.7,579.9 562.7,579.4 562.8,578.9 562.8,578.4 562.9,577.9 562.9,577.4 563,576.9 563.1,576.4 563.1,575.9 563.2,575.4 563.2,574.9 563.3,574.4 563.3,573.9 563.4,573.4 563.5,572.9 563.5,572.4 563.6,571.9 563.6,571.4 563.7,570.9 563.8,570.4 563.8,569.9 563.9,569.4 563.9,568.9 564,568.4 564,567.9 564.1,567.4 564.2,566.9 564.2,566.4 564.3,565.9 564.3,565.4 564.4,564.9 564.4,564.4 564.5,563.9 564.6,563.4 564.6,562.9 564.7,562.4 564.7,561.9 564.8,561.4 564.9,560.9 564.9,560.4 565,559.9 565,559.4 565.1,558.9 565.2,558.4 565.2,557.9 565.3,557.4 565.3,556.9 565.4,556.4 565.5,555.9 565.5,555.4 565.6,554.9 565.7,554.4 565.7,553.9 565.8,553.4 565.9,552.9 566,552.4 566,551.9 566.1,551.4 566.2,550.9 566.2,550.4 566.3,549.9 566.4,549.4 566.5,548.9 566.5,548.4 566.6,547.9 566.7,547.4 566.7,546.9 566.8,546.4 566.9,545.9 567,545.4 567,544.9 567.1,544.4 567.2,543.9 567.2,543.4 567.3,542.9 567.4,542.4 567.5,541.9 567.5,541.4 567.6,540.9 567.7,540.4 567.7,539.9 567.8,539.4 567.9,538.9 568,538.4 568,537.9 568.1,537.4 568.2,536.9 568.2,536.4 568.3,535.9 568.4,535.4 568.4,534.9 568.5,534.4 568.6,533.9 568.7,533.4 568.7,532.9 568.8,532.4 568.9,531.9 568.9,531.4 569,530.9 569.1,530.4 569.2,529.9 569.2,529.4 569.3,528.9 569.4,528.4 569.4,527.9 569.5,527.4 569.6,526.9 569.7,526.4 569.7,525.9 569.8,525.4 569.9,524.9 569.9,524.4 570,523.9 570.1,523.4 570.2,522.9 570.2,522.4 570.3,521.9 570.4,521.4 570.4,520.9 570.5,520.4 570.6,519.9 570.7,519.4 570.7,518.9 570.8,518.4 570.9,517.9 570.9,517.4 571,516.9 571.1,516.4 571.1,515.9 571.2,515.4 571.3,514.9 571.3,514.4 571.4,513.9 571.5,513.4 571.6,512.9 571.6,512.4 571.7,511.9 571.7,511.4 571.8,510.9 571.9,510.4 571.9,509.9 572,509.4 572.1,508.9 572.1,508.4 572.2,507.9 572.3,507.4 572.3,506.9 572.4,506.4 572.5,505.9 572.5,505.4 572.6,504.9 572.7,504.4 572.7,503.9 572.8,503.4 572.9,502.9 572.9,502.4 573,501.9 573.1,501.4 573.1,500.9 573.2,500.4 573.3,499.9 573.3,499.4 573.4,498.9 573.5,498.4 573.5,497.9 573.6,497.4 573.7,496.9 573.7,496.4 573.8,495.9 573.9,495.4 573.9,494.9 574,494.4 574.1,493.9 574.1,493.4 574.2,492.9 574.3,492.4 574.3,491.9 574.4,491.4 574.5,490.9 574.5,490.4 574.6,489.9 574.7,489.4 574.7,488.9 574.8,488.4 574.9,487.9 574.9,487.4 575,486.9 575.1,486.4 575.1,485.9 575.2,485.4 575.3,484.9 575.3,484.4 575.4,483.9 575.5,483.4 575.5,482.9 575.6,482.4 575.7,481.9 575.7,481.4 575.8,480.9 575.9,480.4 575.9,479.9 576,479.4 576.1,478.9 576.1,478.4 576.2,477.9 576.2,477.4 576.3,476.9 576.4,476.4 576.4,475.9 576.5,475.4 576.5,474.9 576.5,474.4 576.6,473.9 576.6,473.4 576.7,472.9 576.7,472.4 576.7,471.9 576.8,471.4 576.8,470.9 576.9,470.4 576.9,469.9 576.9,469.4 577,468.9 577,468.4 577,467.9 577.1,467.4 577.1,466.9 577.1,466.4 577.2,465.9 577.2,465.4 577.2,464.9 577.3,464.4 577.3,463.9 577.3,463.4 577.4,462.9 577.4,462.4 577.4,461.9 577.5,461.4 577.5,460.9 577.5,460.4 577.6,459.9 577.6,459.4 577.6,458.9 577.7,458.4 577.7,457.9 577.7,457.4 577.8,456.9 577.8,456.4 577.8,455.9 577.8,455.4 577.9,454.9 577.9,454.4 577.9,453.9 577.9,453.4 578,452.9 578,452.4 578,451.9 578,451.4 578,450.9 578.1,450.4 578.1,449.9 578.1,449.4 578.1,448.9 578.1,448.4 578.1,447.9 578.2,447.4 578.2,446.9 578.2,446.4 578.2,445.9 578.2,445.4 578.3,444.9 578.3,444.4 578.3,443.9 578.3,443.4 578.3,442.9 578.3,442.4 578.4,441.9 578.4,441.4 578.4,440.9 578.4,440.4 578.4,439.9 578.4,439.4 578.5,438.9 578.5,438.4 578.5,437.9 578.5,437.4 578.5,436.9 578.5,436.4 578.5,435.9 578.5,435.4 578.5,434.9 578.5,434.4 578.5,433.9 578.5,433.4 578.5,432.9 578.5,432.4 578.4,431.9 578.4,431.4 578.4,430.9 578.4,430.4 578.3,429.9 578.3,429.4 578.3,428.9 578.3,428.4 578.2,427.9 578.2,427.4 578.2,426.9 578.2,426.4 578.1,425.9 578.1,425.4 578.1,424.9 578.1,424.4 578,423.9 578,423.4 578,422.9 578,422.4 577.9,421.9 577.9,421.4 577.9,420.9 577.9,420.4 577.8,419.9 577.8,419.4 577.8,418.9 577.8,418.4 577.7,417.9 577.7,417.4 577.7,416.9 577.6,416.4 577.6,415.9 577.6,415.4 577.5,414.9 577.5,414.4 577.5,413.9 577.4,413.4 577.4,412.9 577.3,412.4 577.3,411.9 577.2,411.4 577.2,410.9 577.1,410.4 577.1,409.9 577,409.4 577,408.9 576.9,408.4 576.9,407.9 576.8,407.4 576.8,406.9 576.7,406.4 576.7,405.9 576.6,405.4 576.6,404.9 576.5,404.4 576.5,403.9 576.4,403.4 576.4,402.9 576.3,402.4 576.3,401.9 576.2,401.4 576.2,400.9 576.1,400.4 576.1,399.9 576,399.4 576,398.9 575.9,398.4 575.9,397.9 575.8,397.4 575.8,396.9 575.7,396.4 575.6,395.9 575.6,395.4 575.5,394.9 575.5,394.4 575.4,393.9 575.3,393.4 575.3,392.9 575.2,392.4 575.1,391.9 575.1,391.4 575,390.9 574.9,390.4 574.8,389.9 574.8,389.4 574.7,388.9 574.6,388.4 574.5,387.9 574.5,387.4 574.4,386.9 574.3,386.4 574.2,385.9 574.2,385.4 574.1,384.9 574,384.4 573.9,383.9 573.9,383.4 573.8,382.9 573.7,382.4 573.6,381.9 573.6,381.4 573.5,380.9 573.4,380.4 573.3,379.9 573.3,379.4 573.2,378.9 573.1,378.4 573,377.9 573,377.4 572.9,376.9 572.8,376.4 572.7,375.9 572.7,375.4 572.6,374.9 572.5,374.4 572.4,373.9 572.3,373.4 572.3,372.9 572.2,372.4 572.1,371.9 572,371.4 572,370.9 571.9,370.4 571.8,369.9 571.7,369.4 571.7,368.9 571.6,368.4 571.5,367.9 571.4,367.4 571.3,366.9 571.2,366.4 571.1,365.9 571.1,365.4 571,364.9 570.9,364.4 570.8,363.9 570.7,363.4 570.6,362.9 570.5,362.4 570.4,361.9 570.3,361.4 570.2,360.9 570.1,360.4 570,359.9 569.9,359.4 569.8,358.9 569.7,358.4 569.6,357.9 569.5,357.4 569.4,356.9 569.3,356.4 569.2,355.9 569.1,355.4 569,354.9 568.9,354.4 568.8,353.9 568.7,353.4 568.6,352.9 568.5,352.4 568.4,351.9 568.2,351.4 568.1,350.9 568,350.4 567.9,349.9 567.8,349.4 567.7,348.9 567.6,348.4 567.5,347.9 567.4,347.4 567.2,346.9 567.1,346.4 567,345.9 566.9,345.4 566.8,344.9 566.7,344.4 566.6,343.9 566.5,343.4 566.4,342.9 566.2,342.4 566.1,341.9 566,341.4 565.9,340.9 565.8,340.4 565.7,339.9 565.6,339.4 565.5,338.9 565.4,338.4 565.3,337.9 565.2,337.4 565.1,336.9 565,336.4 564.9,335.9 564.8,335.4 564.7,334.9 564.6,334.4 564.5,333.9 564.4,333.4 564.3,332.9 564.2,332.4 564.1,331.9 564,331.4 563.9,330.9 563.8,330.4 563.7,329.9 563.6,329.4 563.5,328.9 563.4,328.4 563.3,327.9 563.2,327.4 563.1,326.9 563,326.4 562.9,325.9 562.8,325.4 562.7,324.9 562.6,324.4 562.5,323.9 562.4,323.4 562.3,322.9 562.2,322.4 562.1,321.9 562,321.4 561.9,320.9 561.8,320.4 561.7,319.9 561.6,319.4 561.5,318.9 561.4,318.4 561.3,317.9 561.2,317.4 561.1,316.9 561,316.4 560.9,315.9 560.8,315.4 560.7,314.9 560.6,314.4 560.5,313.9 560.4,313.4 560.3,312.9 560.2,312.4 560.1,311.9 560,311.4 559.8,310.9 559.7,310.4 559.6,309.9 559.5,309.4 559.4,308.9 559.3,308.4 559.2,307.9 559.1,307.4 559,306.9 558.9,306.4 558.8,305.9 558.7,305.4 558.6,304.9 558.5,304.4 558.4,303.9 558.3,303.4 558.2,302.9 558.1,302.4 558,301.9 557.9,301.4 557.8,300.9 557.8,300.4 557.7,299.9 557.6,299.4 557.5,298.9 557.4,298.4 557.3,297.9 557.2,297.4 557.1,296.9 557,296.4 556.9,295.9 556.8,295.4 556.7,294.9 556.6,294.4 556.5,293.9 556.4,293.4 556.3,292.9 556.2,292.4 556.1,291.9 556,291.4 555.9,290.9 555.8,290.4 555.7,289.9 555.6,289.4 555.5,288.9 555.4,288.4 555.3,287.9 555.2,287.4 555.1,286.9 555,286.4 554.9,285.9 554.8,285.4 554.7,284.9 554.6,284.4 554.5,283.9 554.4,283.4 554.3,282.9 554.2,282.4 554.1,281.9 554,281.4 553.9,280.9 553.8,280.4 553.7,279.9 553.6,279.4 553.5,278.9 553.4,278.4 553.3,277.9 553.3,277.4 553.2,276.9 553.1,276.4 553,275.9 552.9,275.4 552.8,274.9 552.7,274.4 552.6,273.9 552.6,273.4 552.5,272.9 552.4,272.4 552.3,271.9 552.2,271.4 552.1,270.9 552,270.4 551.9,269.9 551.9,269.4 551.8,268.9 551.7,268.4 551.6,267.9 551.5,267.4 551.4,266.9 551.3,266.4 551.2,265.9 551.2,265.4 551.1,264.9 551,264.4 550.9,263.9 550.8,263.4 550.7,262.9 550.6,262.4 550.5,261.9 550.5,261.4 550.4,260.9 550.3,260.4 550.2,259.9 550.1,259.4 550,258.9 549.9,258.4 549.9,257.9 549.8,257.4 549.7,256.9 549.6,256.4 549.5,255.9 549.4,255.4 549.4,254.9 549.3,254.4 549.2,253.9 549.1,253.4 549.1,252.9 549,252.4 549,251.9 548.9,251.4 548.8,250.9 548.8,250.4 548.7,249.9 548.7,249.4 548.6,248.9 548.5,248.4 548.5,247.9 548.4,247.4 548.4,246.9 548.3,246.4 548.2,245.9 548.2,245.4 548.1,244.9 548.1,244.4 548,243.9 548,243.4 547.9,242.9 547.8,242.4 547.8,241.9 547.7,241.4 547.7,240.9 547.6,240.4 547.6,239.9 547.5,239.4 547.4,238.9 547.4,238.4 547.3,237.9 547.3,237.4 547.2,236.9 547.2,236.4 547.1,235.9 547,235.4 547,234.9 546.9,234.4 546.9,233.9 546.8,233.4 546.8,232.9 546.7,232.4 546.6,231.9 546.6,231.4 546.5,230.9 546.5,230.4 546.4,229.9 546.4,229.4 546.3,228.9 546.2,228.4 546.2,227.9 546.1,227.4 546.1,226.9 546,226.4 546,225.9 545.9,225.4 545.9,224.9 545.8,224.4 545.7,223.9 545.7,223.4 545.6,222.9 545.6,222.4 545.5,221.9 545.5,221.4 545.4,220.9 545.4,220.4 545.3,219.9 545.2,219.4 545.2,218.9 545.1,218.4 545.1,217.9 545,217.4 545,216.9 544.9,216.4 544.9,215.9 544.8,215.4 544.7,214.9 544.7,214.4 544.6,213.9 544.6,213.4 544.5,212.9 544.5,212.4 544.4,211.9 544.4,211.4 544.3,210.9 544.2,210.4 544.2,209.9 544.1,209.4 544.1,208.9 544,208.4 544,207.9 543.9,207.4 543.9,206.9 543.8,206.4 543.8,205.9 543.7,205.4 543.7,204.9 543.6,204.4 543.6,203.9 543.6,203.4 543.5,202.9 543.5,202.4 543.5,201.9 543.4,201.4 543.4,200.9 543.4,200.4 543.4,199.9 543.4,199.4 543.3,198.9 543.3,198.4 543.3,197.9 543.3,197.4 543.3,196.9 543.3,196.4 543.2,195.9 543.2,195.4 543.2,194.9 543.2,194.4 543.2,193.9 543.2,193.4 543.1,192.9 543.1,192.4 543.1,191.9 543.1,191.4 543.1,190.9 543.1,190.4 543,189.9 543,189.4 543,188.9 543,188.4 543,187.9 542.9,187.4 542.9,186.9 542.9,186.4 542.9,185.9 542.9,185.4 542.9,184.9 542.8,184.4 542.8,183.9 542.8,183.4 542.8,182.9 542.8,182.4 542.8,181.9 542.8,181.4 542.7,180.9 542.7,180.4 542.7,179.9 542.7,179.4 542.7,178.9 542.7,178.4 542.7,177.9 542.7,177.4 542.6,176.9 542.6,176.4 542.6,175.9 542.6,175.4 542.6,174.9 542.6,174.4 542.6,173.9 542.6,173.4 542.6,172.9 542.6,172.4 542.5,171.9 542.5,171.4 542.5,170.9 542.5,170.4 542.5,169.9 542.5,169.4 542.5,168.9 542.5,168.4 542.5,167.9 542.5,167.4 542.5,166.9 542.4,166.4 542.4,165.9 542.4,165.4 542.4,164.9 542.4,164.4 542.4,163.9 542.4,163.4 542.4,162.9 542.4,162.4 542.4,161.9 542.4,161.4 542.3,160.9 542.3,160.4 542.3,159.9 542.3,159.4 542.3,158.9 542.3,158.4 542.3,157.9 542.3,157.4 542.3,156.9 542.3,156.4 542.3,155.9 542.2,155.4 542.2,154.9 542.2,154.4 542.2,153.9 542.2,153.4 542.2,152.9 542.2,152.4 542.2,151.9 542.2,151.4 542.2,150.9 542.2,150.4 542.2,149.9 542.2,149.4 542.1,148.9 542.1,148.4 542.1,147.9 542.1,147.4 542.1,146.9 542.1,146.4 542.1,145.9 542.1,145.4 542.1,144.9 542.1,144.4 542.1,143.9 542.1,143.4 542.1,142.9 542.1,142.4 542.1,141.9 542.1,141.4 542.1,140.9 542,140.4 542,139.9 542,139.4 542,138.9 542,138.4 542,137.9 542,137.4 542,136.9 542,136.4 542,135.9 542,135.4 542,134.9 542,134.4 542,133.9 542,133.4 542,132.9 541.9,132.4 541.9,131.9 541.9,131.4 541.9,130.9 541.9,130.4 541.9,129.9 541.9,129.4 541.9,128.9 541.9,128.4 541.9,127.9 541.9,127.4 541.9,126.9 541.9,126.4 541.9,125.9 541.9,125.4 541.9,124.9 541.9,124.4 541.8,123.9 541.8,123.4 541.8,122.9 541.8,122.4 541.8,121.9 541.8,121.4 541.8,120.9 541.8,120.4 541.8,119.9 541.8,119.4 541.8,118.9 541.8,118.4 541.8,117.9 541.8,117.4 541.8,116.9 541.8,116.4 541.7,115.9 541.7,115.4 541.7,114.9 541.7,114.4 541.7,113.9 541.7,113.4 541.7,112.9 541.7,112.4 541.7,111.9 541.7,111.4 541.7,110.9 541.7,110.4 541.7,109.9 541.7,109.4 541.7,108.9 541.7,108.4 541.6,107.9 541.6,107.4 541.6,106.9 541.6,106.4 541.6,105.9 541.6,105.4 541.6,104.9 541.6,104.4 541.6,103.9"/></clipPath>
<clipPath id="vc5"><polygon points="591.5,60 591.5,60.5 591.4,61 591.4,61.5 591.4,62 591.4,62.5 591.4,63 591.4,63.5 591.4,64 591.3,64.5 591.3,65 591.3,65.5 591.3,66 591.3,66.5 591.2,67 591.2,67.5 591.2,68 591.2,68.5 591.2,69 591.2,69.5 591.1,70 591.1,70.5 591.1,71 591.1,71.5 591.1,72 591,72.5 591,73 591,73.5 591,74 591,74.5 591,75 590.9,75.5 590.9,76 590.9,76.5 590.9,77 590.9,77.5 590.8,78 590.8,78.5 590.8,79 590.8,79.5 590.8,80 590.8,80.5 590.7,81 590.7,81.5 590.7,82 590.7,82.5 590.7,83 590.6,83.5 590.6,84 590.6,84.5 590.6,85 590.6,85.5 590.5,86 590.5,86.5 590.5,87 590.5,87.5 590.5,88 590.4,88.5 590.4,89 590.4,89.5 590.4,90 590.3,90.5 590.3,91 590.3,91.5 590.2,92 590.2,92.5 590.2,93 590.1,93.5 590.1,94 590.1,94.5 590,95 590,95.5 589.9,96 589.9,96.5 589.9,97 589.8,97.5 589.8,98 589.8,98.5 589.7,99 589.7,99.5 589.6,100 589.6,100.5 589.6,101 589.5,101.5 589.5,102 589.5,102.5 589.4,103 589.4,103.5 589.3,104 589.3,104.5 589.3,105 589.3,105.5 589.2,106 589.2,106.5 589.2,107 589.1,107.5 589.1,108 589.1,108.5 589.1,109 589.1,109.5 589,110 589,110.5 589,111 589,111.5 589,112 588.9,112.5 588.9,113 588.9,113.5 588.9,114 588.9,114.5 588.9,115 588.8,115.5 588.8,116 588.8,116.5 588.8,117 588.8,117.5 588.7,118 588.7,118.5 588.7,119 588.7,119.5 588.7,120 588.7,120.5 588.6,121 588.6,121.5 588.6,122 588.6,122.5 588.6,123 588.5,123.5 588.5,124 588.5,124.5 588.5,125 588.5,125.5 588.4,126 588.4,126.5 588.4,127 588.4,127.5 588.4,128 588.4,128.5 588.3,129 588.3,129.5 588.3,130 588.3,130.5 588.3,131 588.3,131.5 588.3,132 588.2,132.5 588.2,133 588.2,133.5 588.2,134 588.2,134.5 588.2,135 588.2,135.5 588.2,136 588.2,136.5 588.1,137 588.1,137.5 588.1,138 588.1,138.5 588.1,139 588.1,139.5 588.1,140 588.1,140.5 588.1,141 588,141.5 588,142 588,142.5 588,143 588,143.5 588,144 588,144.5 588,145 588,145.5 587.9,146 587.9,146.5 587.9,147 587.9,147.5 587.9,148 587.9,148.5 587.9,149 587.9,149.5 587.9,150 587.8,150.5 587.8,151 587.8,151.5 587.8,152 587.8,152.5 587.8,153 587.8,153.5 587.8,154 587.8,154.5 587.8,155 587.7,155.5 587.7,156 587.7,156.5 587.7,157 587.7,157.5 587.7,158 587.7,158.5 587.7,159 587.7,159.5 587.7,160 587.7,160.5 587.7,161 587.7,161.5 587.7,162 587.6,162.5 587.6,163 587.6,163.5 587.6,164 587.6,164.5 587.6,165 587.6,165.5 587.6,166 587.6,166.5 587.6,167 587.6,167.5 587.6,168 587.6,168.5 587.6,169 587.6,169.5 587.6,170 587.6,170.5 587.6,171 587.6,171.5 587.6,172 587.6,172.5 587.5,173 587.5,173.5 587.5,174 587.5,174.5 587.5,175 587.5,175.5 587.5,176 587.5,176.5 587.5,177 587.5,177.5 587.5,178 587.5,178.5 587.5,179 587.5,179.5 587.5,180 587.5,180.5 587.5,181 587.5,181.5 587.5,182 587.5,182.5 587.4,183 587.4,183.5 587.4,184 587.4,184.5 587.4,185 587.4,185.5 587.4,186 587.4,186.5 587.4,187 587.4,187.5 587.4,188 587.4,188.5 587.4,189 587.4,189.5 587.4,190 587.4,190.5 587.4,191 587.4,191.5 587.4,192 587.4,192.5 587.4,193 587.3,193.5 587.3,194 587.3,194.5 587.3,195 587.3,195.5 587.3,196 587.3,196.5 587.3,197 587.3,197.5 587.3,198 587.3,198.5 587.3,199 587.3,199.5 587.3,200 587.3,200.5 587.3,201 587.3,201.5 587.3,202 587.3,202.5 587.3,203 587.3,203.5 587.2,204 587.2,204.5 587.2,205 587.2,205.5 587.2,206 587.2,206.5 587.2,207 587.2,207.5 587.2,208 587.2,208.5 587.2,209 587.2,209.5 587.2,210 587.2,210.5 587.2,211 587.2,211.5 587.2,212 587.2,212.5 587.2,213 587.2,213.5 587.2,214 587.2,214.5 587.2,215 587.2,215.5 587.2,216 587.2,216.5 587.2,217 587.2,217.5 587.2,218 587.2,218.5 587.2,219 587.2,219.5 587.2,220 587.2,220.5 587.2,221 587.2,221.5 587.1,222 587.1,222.5 587.1,223 587.1,223.5 587.1,224 587.1,224.5 587.1,225 587.1,225.5 587.1,226 587.1,226.5 587.1,227 587.1,227.5 587.1,228 587.1,228.5 587.1,229 587.1,229.5 587.1,230 587.1,230.5 587.1,231 587.1,231.5 587.1,232 587.1,232.5 587.1,233 587.1,233.5 587.1,234 587.1,234.5 587.1,235 587.1,235.5 587.1,236 587.1,236.5 587.1,237 587.1,237.5 587.1,238 587.1,238.5 587.1,239 587.1,239.5 587.1,240 587.1,240.5 587.1,241 587.1,241.5 587.1,242 587.1,242.5 587.1,243 587.1,243.5 587.1,244 587.1,244.5 587.1,245 587.1,245.5 587.1,246 587.1,246.5 587.1,247 587,247.5 587,248 587,248.5 587,249 587,249.5 587,250 587,250.5 587,251 587,251.5 587,252 587,252.5 587,253 587,253.5 587,254 587,254.5 587,255 587,255.5 587,256 587,256.5 587,257 587,257.5 587,258 587,258.5 587,259 587,259.5 587,260 587,260.5 587,261 587,261.5 587,262 587,262.5 587,263 587,263.5 587,264 587,264.5 587,265 587.1,265.5 587.1,266 587.1,266.5 587.1,267 587.1,267.5 587.1,268 587.1,268.5 587.1,269 587.1,269.5 587.1,270 587.1,270.5 587.1,271 587.1,271.5 587.1,272 587.1,272.5 587.1,273 587.1,273.5 587.1,274 587.1,274.5 587.1,275 587.1,275.5 587.2,276 587.2,276.5 587.2,277 587.2,277.5 587.2,278 587.2,278.5 587.2,279 587.2,279.5 587.2,280 587.2,280.5 587.2,281 587.2,281.5 587.2,282 587.2,282.5 587.2,283 587.2,283.5 587.2,284 587.2,284.5 587.2,285 587.2,285.5 587.3,286 587.3,286.5 587.3,287 587.3,287.5 587.3,288 587.3,288.5 587.3,289 587.3,289.5 587.3,290 587.3,290.5 587.3,291 587.3,291.5 587.3,292 587.3,292.5 587.3,293 587.3,293.5 587.3,294 587.3,294.5 587.3,295 587.3,295.5 587.3,296 587.4,296.5 587.4,297 587.4,297.5 587.4,298 587.4,298.5 587.4,299 587.4,299.5 587.4,300 587.4,300.5 587.4,301 587.4,301.5 587.4,302 587.4,302.5 587.4,303 587.4,303.5 587.4,304 587.4,304.5 587.4,305 587.4,305.5 587.4,306 587.5,306.5 587.5,307 587.5,307.5 587.5,308 587.5,308.5 587.5,309 587.5,309.5 587.5,310 587.5,310.5 587.5,311 587.5,311.5 587.5,312 587.5,312.5 587.5,313 587.6,313.5 587.6,314 587.6,314.5 587.6,315 587.6,315.5 587.6,316 587.6,316.5 587.6,317 587.6,317.5 587.7,318 587.7,318.5 587.7,319 587.7,319.5 587.7,320 587.7,320.5 587.7,321 587.7,321.5 587.8,322 587.8,322.5 587.8,323 587.8,323.5 587.8,324 587.8,324.5 587.8,325 587.8,325.5 587.9,326 587.9,326.5 587.9,327 587.9,327.5 587.9,328 587.9,328.5 587.9,329 587.9,329.5 588,330 588,330.5 588,331 588,331.5 588,332 588,332.5 588,333 588,333.5 588.1,334 588.1,334.5 588.1,335 588.1,335.5 588.1,336 588.1,336.5 588.1,337 588.1,337.5 588.2,338 588.2,338.5 588.2,339 588.2,339.5 588.2,340 588.2,340.5 588.3,341 588.3,341.5 588.3,342 588.3,342.5 588.3,343 588.4,343.5 588.4,344 588.4,344.5 588.4,345 588.4,345.5 588.5,346 588.5,346.5 588.5,347 588.5,347.5 588.5,348 588.6,348.5 588.6,349 588.6,349.5 588.6,350 588.7,350.5 588.7,351 588.7,351.5 588.7,352 588.7,352.5 588.8,353 588.8,353.5 588.8,354 588.8,354.5 588.8,355 588.9,355.5 588.9,356 588.9,356.5 588.9,357 589,357.5 589,358 589,358.5 589,359 589,359.5 589.1,360 589.1,360.5 589.1,361 589.1,361.5 589.2,362 589.2,362.5 589.2,363 589.2,363.5 589.2,364 589.3,364.5 589.3,365 589.3,365.5 589.3,366 589.3,366.5 589.4,367 589.4,367.5 589.4,368 589.4,368.5 589.4,369 589.5,369.5 589.5,370 589.5,370.5 589.5,371 589.5,371.5 589.6,372 589.6,372.5 589.6,373 589.6,373.5 589.6,374 589.7,374.5 589.7,375 589.7,375.5 589.7,376 589.7,376.5 589.8,377 589.8,377.5 589.8,378 589.8,378.5 589.8,379 589.9,379.5 589.9,380 589.9,380.5 589.9,381 589.9,381.5 590,382 590,382.5 590,383 590,383.5 590,384 590.1,384.5 590.1,385 590.1,385.5 590.1,386 590.1,386.5 590.2,387 590.2,387.5 590.2,388 590.2,388.5 590.2,389 590.3,389.5 590.3,390 590.3,390.5 590.3,391 590.3,391.5 590.4,392 590.4,392.5 590.4,393 590.4,393.5 590.4,394 590.5,394.5 590.5,395 590.5,395.5 590.5,396 590.6,396.5 590.6,397 590.6,397.5 590.6,398 590.6,398.5 590.7,399 590.7,399.5 590.7,400 590.7,400.5 590.7,401 590.8,401.5 590.8,402 590.8,402.5 590.8,403 590.8,403.5 590.9,404 590.9,404.5 590.9,405 590.9,405.5 590.9,406 591,406.5 591,407 591,407.5 591,408 591.1,408.5 591.1,409 591.1,409.5 591.1,410 591.1,410.5 591.2,411 591.2,411.5 591.2,412 591.2,412.5 591.2,413 591.3,413.5 591.3,414 591.3,414.5 591.3,415 591.3,415.5 591.4,416 591.4,416.5 591.4,417 591.4,417.5 591.5,418 591.5,418.5 591.5,419 591.5,419.5 591.5,420 591.6,420.5 591.6,421 591.6,421.5 591.6,422 591.6,422.5 591.7,423 591.7,423.5 591.7,424 591.7,424.5 591.8,425 591.8,425.5 591.8,426 591.8,426.5 591.8,427 591.9,427.5 591.9,428 591.9,428.5 591.9,429 591.9,429.5 592,430 592,430.5 592,431 592,431.5 592.1,432 592.1,432.5 592.1,433 592.1,433.5 592.1,434 592.2,434.5 592.2,435 592.2,435.5 592.2,436 592.3,436.5 592.3,437 592.3,437.5 592.3,438 592.3,438.5 592.4,439 592.4,439.5 592.4,440 592.4,440.5 592.5,441 592.5,441.5 592.5,442 592.5,442.5 592.6,443 592.6,443.5 592.6,444 592.7,444.5 592.7,445 592.7,445.5 592.7,446 592.8,446.5 592.8,447 592.8,447.5 592.9,448 592.9,448.5 592.9,449 592.9,449.5 593,450 593,450.5 593,451 593.1,451.5 593.1,452 593.1,452.5 593.1,453 593.2,453.5 593.2,454 593.2,454.5 593.3,455 593.3,455.5 593.3,456 593.4,456.5 593.4,457 593.4,457.5 593.4,458 593.5,458.5 593.5,459 593.5,459.5 593.6,460 593.6,460.5 593.6,461 593.6,461.5 593.7,462 593.7,462.5 593.7,463 593.8,463.5 593.8,464 593.8,464.5 593.8,465 593.9,465.5 593.9,466 593.9,466.5 594,467 594,467.5 594,468 594.1,468.5 594.1,469 594.1,469.5 594.2,470 594.2,470.5 594.2,471 594.3,471.5 594.3,472 594.3,472.5 594.4,473 594.4,473.5 594.4,474 594.5,474.5 594.5,475 594.5,475.5 594.6,476 594.6,476.5 594.6,477 594.7,477.5 594.7,478 594.7,478.5 594.8,479 594.8,479.5 594.8,480 594.8,480.5 594.9,481 594.9,481.5 594.9,482 595,482.5 595,483 595,483.5 595.1,484 595.1,484.5 595.1,485 595.2,485.5 595.2,486 595.2,486.5 595.3,487 595.3,487.5 595.3,488 595.4,488.5 595.4,489 595.4,489.5 595.5,490 595.5,490.5 595.5,491 595.6,491.5 595.6,492 595.6,492.5 595.7,493 595.7,493.5 595.7,494 595.8,494.5 595.8,495 595.8,495.5 595.9,496 595.9,496.5 595.9,497 596,497.5 596,498 596,498.5 596.1,499 596.1,499.5 596.1,500 596.2,500.5 596.2,501 596.2,501.5 596.3,502 596.3,502.5 596.3,503 596.4,503.5 596.4,504 596.4,504.5 596.5,505 596.5,505.5 596.5,506 596.6,506.5 596.6,507 596.6,507.5 596.7,508 596.7,508.5 596.7,509 596.8,509.5 596.8,510 596.8,510.5 596.9,511 596.9,511.5 596.9,512 597,512.5 597,513 597,513.5 597.1,514 597.1,514.5 597.1,515 597.2,515.5 597.2,516 597.2,516.5 597.3,517 597.3,517.5 597.3,518 597.3,518.5 597.4,519 597.4,519.5 597.4,520 597.5,520.5 597.5,521 597.5,521.5 597.5,522 597.6,522.5 597.6,523 597.6,523.5 597.7,524 597.7,524.5 597.7,525 597.7,525.5 597.8,526 597.8,526.5 597.8,527 597.8,527.5 597.9,528 597.9,528.5 597.9,529 598,529.5 598,530 598,530.5 598,531 598.1,531.5 598.1,532 598.1,532.5 598.2,533 598.2,533.5 598.2,534 598.2,534.5 598.3,535 598.3,535.5 598.3,536 598.3,536.5 598.4,537 598.4,537.5 598.4,538 598.5,538.5 598.5,539 598.5,539.5 598.5,540 598.6,540.5 598.6,541 598.6,541.5 598.6,542 598.7,542.5 598.7,543 598.7,543.5 598.7,544 598.8,544.5 598.8,545 598.8,545.5 598.8,546 598.9,546.5 598.9,547 598.9,547.5 599,548 599,548.5 599,549 599,549.5 599.1,550 599.1,550.5 599.1,551 599.1,551.5 599.2,552 599.2,552.5 599.2,553 599.2,553.5 599.3,554 599.3,554.5 599.3,555 599.3,555.5 599.4,556 599.4,556.5 599.4,557 599.4,557.5 599.5,558 599.5,558.5 599.5,559 599.5,559.5 599.6,560 599.6,560.5 599.6,561 599.6,561.5 599.7,562 599.7,562.5 599.7,563 599.7,563.5 599.8,564 599.8,564.5 599.8,565 599.8,565.5 599.9,566 599.9,566.5 599.9,567 599.9,567.5 600,568 600,568.5 600,569 600,569.5 600.1,570 600.1,570.5 600.1,571 600.1,571.5 600.2,572 600.2,572.5 600.2,573 600.3,573.5 600.3,574 600.3,574.5 600.3,575 600.4,575.5 600.4,576 600.4,576.5 600.5,577 600.5,577.5 600.5,578 600.5,578.5 600.6,579 600.6,579.5 600.6,580 600.7,580.5 600.7,581 600.7,581.5 600.7,582 600.8,582.5 600.8,583 600.8,583.5 600.9,584 600.9,584.5 600.9,585 600.9,585.5 601,586 601,586.5 601,587 601.1,587.5 601.1,588 601.1,588.5 601.1,589 601.2,589.5 601.2,590 601.2,590.5 601.3,591 601.3,591.5 601.3,592 601.3,592.5 601.4,593 601.4,593.5 601.4,594 601.5,594.5 601.5,595 601.5,595.5 601.6,596 601.6,596.5 601.6,597 601.6,597.5 601.7,598 601.7,598.5 601.7,599 601.8,599.5 601.8,600 601.8,600.5 601.9,601 601.9,601.5 601.9,602 601.9,602.5 602,603 602,603.5 602,604 602.1,604.5 602.1,605 602.1,605.5 602.2,606 602.2,606.5 602.2,607 602.2,607.5 602.3,608 602.3,608.5 602.3,609 602.4,609.5 602.4,610 602.4,610.5 602.4,611 602.5,611.5 602.5,612 602.5,612.5 602.6,613 602.6,613.5 602.6,614 602.6,614.5 602.7,615 602.7,615.5 602.7,616 602.7,616.5 602.8,617 602.8,617.5 602.8,618 602.9,618.5 602.9,619 602.9,619.5 602.9,620 603,620.5 603,621 603,621.5 603,622 603.1,622.5 603.1,623 603.1,623.5 603.1,624 603.1,624.5 603.1,625 644.9,625 644.9,624.5 644.9,624 644.9,623.5 644.9,623 644.9,622.5 645,622 645,621.5 645,621 645,620.5 645.1,620 645.1,619.5 645.1,619 645.1,618.5 645.2,618 645.2,617.5 645.2,617 645.3,616.5 645.3,616 645.3,615.5 645.3,615 645.4,614.5 645.4,614 645.4,613.5 645.4,613 645.5,612.5 645.5,612 645.5,611.5 645.6,611 645.6,610.5 645.6,610 645.6,609.5 645.7,609 645.7,608.5 645.7,608 645.8,607.5 645.8,607 645.8,606.5 645.8,606 645.9,605.5 645.9,605 645.9,604.5 646,604 646,603.5 646,603 646.1,602.5 646.1,602 646.1,601.5 646.1,601 646.2,600.5 646.2,600 646.2,599.5 646.3,599 646.3,598.5 646.3,598 646.4,597.5 646.4,597 646.4,596.5 646.4,596 646.5,595.5 646.5,595 646.5,594.5 646.6,594 646.6,593.5 646.6,593 646.7,592.5 646.7,592 646.7,591.5 646.7,591 646.8,590.5 646.8,590 646.8,589.5 646.9,589 646.9,588.5 646.9,588 646.9,587.5 647,587 647,586.5 647,586 647.1,585.5 647.1,585 647.1,584.5 647.1,584 647.2,583.5 647.2,583 647.2,582.5 647.3,582 647.3,581.5 647.3,581 647.3,580.5 647.4,580 647.4,579.5 647.4,579 647.5,578.5 647.5,578 647.5,577.5 647.5,577 647.6,576.5 647.6,576 647.6,575.5 647.7,575 647.7,574.5 647.7,574 647.7,573.5 647.8,573 647.8,572.5 647.8,572 647.9,571.5 647.9,571 647.9,570.5 647.9,570 648,569.5 648,569 648,568.5 648,568 648.1,567.5 648.1,567 648.1,566.5 648.1,566 648.2,565.5 648.2,565 648.2,564.5 648.2,564 648.3,563.5 648.3,563 648.3,562.5 648.3,562 648.4,561.5 648.4,561 648.4,560.5 648.4,560 648.5,559.5 648.5,559 648.5,558.5 648.5,558 648.6,557.5 648.6,557 648.6,556.5 648.6,556 648.7,555.5 648.7,555 648.7,554.5 648.7,554 648.8,553.5 648.8,553 648.8,552.5 648.8,552 648.9,551.5 648.9,551 648.9,550.5 648.9,550 649,549.5 649,549 649,548.5 649,548 649.1,547.5 649.1,547 649.1,546.5 649.2,546 649.2,545.5 649.2,545 649.2,544.5 649.3,544 649.3,543.5 649.3,543 649.3,542.5 649.4,542 649.4,541.5 649.4,541 649.4,540.5 649.5,540 649.5,539.5 649.5,539 649.5,538.5 649.6,538 649.6,537.5 649.6,537 649.7,536.5 649.7,536 649.7,535.5 649.7,535 649.8,534.5 649.8,534 649.8,533.5 649.8,533 649.9,532.5 649.9,532 649.9,531.5 650,531 650,530.5 650,530 650,529.5 650.1,529 650.1,528.5 650.1,528 650.2,527.5 650.2,527 650.2,526.5 650.2,526 650.3,525.5 650.3,525 650.3,524.5 650.3,524 650.4,523.5 650.4,523 650.4,522.5 650.5,522 650.5,521.5 650.5,521 650.5,520.5 650.6,520 650.6,519.5 650.6,519 650.7,518.5 650.7,518 650.7,517.5 650.7,517 650.8,516.5 650.8,516 650.8,515.5 650.9,515 650.9,514.5 650.9,514 651,513.5 651,513 651,512.5 651.1,512 651.1,511.5 651.1,511 651.2,510.5 651.2,510 651.2,509.5 651.3,509 651.3,508.5 651.3,508 651.4,507.5 651.4,507 651.4,506.5 651.5,506 651.5,505.5 651.5,505 651.6,504.5 651.6,504 651.6,503.5 651.7,503 651.7,502.5 651.7,502 651.8,501.5 651.8,501 651.8,500.5 651.9,500 651.9,499.5 651.9,499 652,498.5 652,498 652,497.5 652.1,497 652.1,496.5 652.1,496 652.2,495.5 652.2,495 652.2,494.5 652.3,494 652.3,493.5 652.3,493 652.4,492.5 652.4,492 652.4,491.5 652.5,491 652.5,490.5 652.5,490 652.6,489.5 652.6,489 652.6,488.5 652.7,488 652.7,487.5 652.7,487 652.8,486.5 652.8,486 652.8,485.5 652.9,485 652.9,484.5 652.9,484 653,483.5 653,483 653,482.5 653.1,482 653.1,481.5 653.1,481 653.2,480.5 653.2,480 653.2,479.5 653.2,479 653.3,478.5 653.3,478 653.3,477.5 653.4,477 653.4,476.5 653.4,476 653.5,475.5 653.5,475 653.5,474.5 653.6,474 653.6,473.5 653.6,473 653.7,472.5 653.7,472 653.7,471.5 653.8,471 653.8,470.5 653.8,470 653.9,469.5 653.9,469 653.9,468.5 654,468 654,467.5 654,467 654.1,466.5 654.1,466 654.1,465.5 654.2,465 654.2,464.5 654.2,464 654.2,463.5 654.3,463 654.3,462.5 654.3,462 654.4,461.5 654.4,461 654.4,460.5 654.4,460 654.5,459.5 654.5,459 654.5,458.5 654.6,458 654.6,457.5 654.6,457 654.6,456.5 654.7,456 654.7,455.5 654.7,455 654.8,454.5 654.8,454 654.8,453.5 654.9,453 654.9,452.5 654.9,452 654.9,451.5 655,451 655,450.5 655,450 655.1,449.5 655.1,449 655.1,448.5 655.1,448 655.2,447.5 655.2,447 655.2,446.5 655.3,446 655.3,445.5 655.3,445 655.3,444.5 655.4,444 655.4,443.5 655.4,443 655.5,442.5 655.5,442 655.5,441.5 655.5,441 655.6,440.5 655.6,440 655.6,439.5 655.6,439 655.7,438.5 655.7,438 655.7,437.5 655.7,437 655.7,436.5 655.8,436 655.8,435.5 655.8,435 655.8,434.5 655.9,434 655.9,433.5 655.9,433 655.9,432.5 655.9,432 656,431.5 656,431 656,430.5 656,430 656.1,429.5 656.1,429 656.1,428.5 656.1,428 656.1,427.5 656.2,427 656.2,426.5 656.2,426 656.2,425.5 656.2,425 656.3,424.5 656.3,424 656.3,423.5 656.3,423 656.4,422.5 656.4,422 656.4,421.5 656.4,421 656.4,420.5 656.5,420 656.5,419.5 656.5,419 656.5,418.5 656.5,418 656.6,417.5 656.6,417 656.6,416.5 656.6,416 656.7,415.5 656.7,415 656.7,414.5 656.7,414 656.7,413.5 656.8,413 656.8,412.5 656.8,412 656.8,411.5 656.8,411 656.9,410.5 656.9,410 656.9,409.5 656.9,409 656.9,408.5 657,408 657,407.5 657,407 657,406.5 657.1,406 657.1,405.5 657.1,405 657.1,404.5 657.1,404 657.2,403.5 657.2,403 657.2,402.5 657.2,402 657.2,401.5 657.3,401 657.3,400.5 657.3,400 657.3,399.5 657.3,399 657.4,398.5 657.4,398 657.4,397.5 657.4,397 657.4,396.5 657.5,396 657.5,395.5 657.5,395 657.5,394.5 657.6,394 657.6,393.5 657.6,393 657.6,392.5 657.6,392 657.7,391.5 657.7,391 657.7,390.5 657.7,390 657.7,389.5 657.8,389 657.8,388.5 657.8,388 657.8,387.5 657.8,387 657.9,386.5 657.9,386 657.9,385.5 657.9,385 657.9,384.5 658,384 658,383.5 658,383 658,382.5 658,382 658.1,381.5 658.1,381 658.1,380.5 658.1,380 658.1,379.5 658.2,379 658.2,378.5 658.2,378 658.2,377.5 658.2,377 658.3,376.5 658.3,376 658.3,375.5 658.3,375 658.3,374.5 658.4,374 658.4,373.5 658.4,373 658.4,372.5 658.4,372 658.5,371.5 658.5,371 658.5,370.5 658.5,370 658.5,369.5 658.6,369 658.6,368.5 658.6,368 658.6,367.5 658.6,367 658.7,366.5 658.7,366 658.7,365.5 658.7,365 658.7,364.5 658.8,364 658.8,363.5 658.8,363 658.8,362.5 658.8,362 658.9,361.5 658.9,361 658.9,360.5 658.9,360 659,359.5 659,359 659,358.5 659,358 659,357.5 659.1,357 659.1,356.5 659.1,356 659.1,355.5 659.2,355 659.2,354.5 659.2,354 659.2,353.5 659.2,353 659.3,352.5 659.3,352 659.3,351.5 659.3,351 659.3,350.5 659.4,350 659.4,349.5 659.4,349 659.4,348.5 659.5,348 659.5,347.5 659.5,347 659.5,346.5 659.5,346 659.6,345.5 659.6,345 659.6,344.5 659.6,344 659.6,343.5 659.7,343 659.7,342.5 659.7,342 659.7,341.5 659.7,341 659.8,340.5 659.8,340 659.8,339.5 659.8,339 659.8,338.5 659.8,338 659.9,337.5 659.9,337 659.9,336.5 659.9,336 659.9,335.5 659.9,335 659.9,334.5 659.9,334 660,333.5 660,333 660,332.5 660,332 660,331.5 660,331 660,330.5 660,330 660.1,329.5 660.1,329 660.1,328.5 660.1,328 660.1,327.5 660.1,327 660.1,326.5 660.1,326 660.2,325.5 660.2,325 660.2,324.5 660.2,324 660.2,323.5 660.2,323 660.2,322.5 660.2,322 660.3,321.5 660.3,321 660.3,320.5 660.3,320 660.3,319.5 660.3,319 660.3,318.5 660.3,318 660.4,317.5 660.4,317 660.4,316.5 660.4,316 660.4,315.5 660.4,315 660.4,314.5 660.4,314 660.4,313.5 660.5,313 660.5,312.5 660.5,312 660.5,311.5 660.5,311 660.5,310.5 660.5,310 660.5,309.5 660.5,309 660.5,308.5 660.5,308 660.5,307.5 660.5,307 660.5,306.5 660.6,306 660.6,305.5 660.6,305 660.6,304.5 660.6,304 660.6,303.5 660.6,303 660.6,302.5 660.6,302 660.6,301.5 660.6,301 660.6,300.5 660.6,300 660.6,299.5 660.6,299 660.6,298.5 660.6,298 660.6,297.5 660.6,297 660.6,296.5 660.7,296 660.7,295.5 660.7,295 660.7,294.5 660.7,294 660.7,293.5 660.7,293 660.7,292.5 660.7,292 660.7,291.5 660.7,291 660.7,290.5 660.7,290 660.7,289.5 660.7,289 660.7,288.5 660.7,288 660.7,287.5 660.7,287 660.7,286.5 660.7,286 660.8,285.5 660.8,285 660.8,284.5 660.8,284 660.8,283.5 660.8,283 660.8,282.5 660.8,282 660.8,281.5 660.8,281 660.8,280.5 660.8,280 660.8,279.5 660.8,279 660.8,278.5 660.8,278 660.8,277.5 660.8,277 660.8,276.5 660.8,276 660.9,275.5 660.9,275 660.9,274.5 660.9,274 660.9,273.5 660.9,273 660.9,272.5 660.9,272 660.9,271.5 660.9,271 660.9,270.5 660.9,270 660.9,269.5 660.9,269 660.9,268.5 660.9,268 660.9,267.5 660.9,267 660.9,266.5 660.9,266 660.9,265.5 661,265 661,264.5 661,264 661,263.5 661,263 661,262.5 661,262 661,261.5 661,261 661,260.5 661,260 661,259.5 661,259 661,258.5 661,258 661,257.5 661,257 661,256.5 661,256 661,255.5 661,255 661,254.5 661,254 661,253.5 661,253 661,252.5 661,252 661,251.5 661,251 661,250.5 661,250 661,249.5 661,249 661,248.5 661,248 661,247.5 660.9,247 660.9,246.5 660.9,246 660.9,245.5 660.9,245 660.9,244.5 660.9,244 660.9,243.5 660.9,243 660.9,242.5 660.9,242 660.9,241.5 660.9,241 660.9,240.5 660.9,240 660.9,239.5 660.9,239 660.9,238.5 660.9,238 660.9,237.5 660.9,237 660.9,236.5 660.9,236 660.9,235.5 660.9,235 660.9,234.5 660.9,234 660.9,233.5 660.9,233 660.9,232.5 660.9,232 660.9,231.5 660.9,231 660.9,230.5 660.9,230 660.9,229.5 660.9,229 660.9,228.5 660.9,228 660.9,227.5 660.9,227 660.9,226.5 660.9,226 660.9,225.5 660.9,225 660.9,224.5 660.9,224 660.9,223.5 660.9,223 660.9,222.5 660.9,222 660.8,221.5 660.8,221 660.8,220.5 660.8,220 660.8,219.5 660.8,219 660.8,218.5 660.8,218 660.8,217.5 660.8,217 660.8,216.5 660.8,216 660.8,215.5 660.8,215 660.8,214.5 660.8,214 660.8,213.5 660.8,213 660.8,212.5 660.8,212 660.8,211.5 660.8,211 660.8,210.5 660.8,210 660.8,209.5 660.8,209 660.8,208.5 660.8,208 660.8,207.5 660.8,207 660.8,206.5 660.8,206 660.8,205.5 660.8,205 660.8,204.5 660.8,204 660.7,203.5 660.7,203 660.7,202.5 660.7,202 660.7,201.5 660.7,201 660.7,200.5 660.7,200 660.7,199.5 660.7,199 660.7,198.5 660.7,198 660.7,197.5 660.7,197 660.7,196.5 660.7,196 660.7,195.5 660.7,195 660.7,194.5 660.7,194 660.7,193.5 660.6,193 660.6,192.5 660.6,192 660.6,191.5 660.6,191 660.6,190.5 660.6,190 660.6,189.5 660.6,189 660.6,188.5 660.6,188 660.6,187.5 660.6,187 660.6,186.5 660.6,186 660.6,185.5 660.6,185 660.6,184.5 660.6,184 660.6,183.5 660.6,183 660.5,182.5 660.5,182 660.5,181.5 660.5,181 660.5,180.5 660.5,180 660.5,179.5 660.5,179 660.5,178.5 660.5,178 660.5,177.5 660.5,177 660.5,176.5 660.5,176 660.5,175.5 660.5,175 660.5,174.5 660.5,174 660.5,173.5 660.5,173 660.4,172.5 660.4,172 660.4,171.5 660.4,171 660.4,170.5 660.4,170 660.4,169.5 660.4,169 660.4,168.5 660.4,168 660.4,167.5 660.4,167 660.4,166.5 660.4,166 660.4,165.5 660.4,165 660.4,164.5 660.4,164 660.4,163.5 660.4,163 660.4,162.5 660.3,162 660.3,161.5 660.3,161 660.3,160.5 660.3,160 660.3,159.5 660.3,159 660.3,158.5 660.3,158 660.3,157.5 660.3,157 660.3,156.5 660.3,156 660.3,155.5 660.2,155 660.2,154.5 660.2,154 660.2,153.5 660.2,153 660.2,152.5 660.2,152 660.2,151.5 660.2,151 660.2,150.5 660.1,150 660.1,149.5 660.1,149 660.1,148.5 660.1,148 660.1,147.5 660.1,147 660.1,146.5 660.1,146 660,145.5 660,145 660,144.5 660,144 660,143.5 660,143 660,142.5 660,142 660,141.5 659.9,141 659.9,140.5 659.9,140 659.9,139.5 659.9,139 659.9,138.5 659.9,138 659.9,137.5 659.9,137 659.8,136.5 659.8,136 659.8,135.5 659.8,135 659.8,134.5 659.8,134 659.8,133.5 659.8,133 659.8,132.5 659.7,132 659.7,131.5 659.7,131 659.7,130.5 659.7,130 659.7,129.5 659.7,129 659.6,128.5 659.6,128 659.6,127.5 659.6,127 659.6,126.5 659.6,126 659.5,125.5 659.5,125 659.5,124.5 659.5,124 659.5,123.5 659.4,123 659.4,122.5 659.4,122 659.4,121.5 659.4,121 659.3,120.5 659.3,120 659.3,119.5 659.3,119 659.3,118.5 659.3,118 659.2,117.5 659.2,117 659.2,116.5 659.2,116 659.2,115.5 659.1,115 659.1,114.5 659.1,114 659.1,113.5 659.1,113 659.1,112.5 659,112 659,111.5 659,111 659,110.5 659,110 658.9,109.5 658.9,109 658.9,108.5 658.9,108 658.9,107.5 658.8,107 658.8,106.5 658.8,106 658.7,105.5 658.7,105 658.7,104.5 658.7,104 658.6,103.5 658.6,103 658.5,102.5 658.5,102 658.5,101.5 658.4,101 658.4,100.5 658.4,100 658.3,99.5 658.3,99 658.2,98.5 658.2,98 658.2,97.5 658.1,97 658.1,96.5 658.1,96 658,95.5 658,95 657.9,94.5 657.9,94 657.9,93.5 657.8,93 657.8,92.5 657.8,92 657.7,91.5 657.7,91 657.7,90.5 657.6,90 657.6,89.5 657.6,89 657.6,88.5 657.5,88 657.5,87.5 657.5,87 657.5,86.5 657.5,86 657.4,85.5 657.4,85 657.4,84.5 657.4,84 657.4,83.5 657.3,83 657.3,82.5 657.3,82 657.3,81.5 657.3,81 657.2,80.5 657.2,80 657.2,79.5 657.2,79 657.2,78.5 657.2,78 657.1,77.5 657.1,77 657.1,76.5 657.1,76 657.1,75.5 657,75 657,74.5 657,74 657,73.5 657,73 657,72.5 656.9,72 656.9,71.5 656.9,71 656.9,70.5 656.9,70 656.8,69.5 656.8,69 656.8,68.5 656.8,68 656.8,67.5 656.8,67 656.7,66.5 656.7,66 656.7,65.5 656.7,65 656.7,64.5 656.6,64 656.6,63.5 656.6,63 656.6,62.5 656.6,62 656.6,61.5 656.6,61 656.5,60.5 656.5,60"/></clipPath>
</defs>
<rect x="131.3" y="90.7" width="574.7" height="529.1" fill="none" stroke="#6a6a6a" stroke-width="2"/>
<path d="M131.3 619.8h6M706 619.8h-6M131.3 518.8h6M706 518.8h-6M131.3 417.8h6M706 417.8h-6M131.3 316.8h6M706 316.8h-6M131.3 215.8h6M706 215.8h-6M131.3 114.8h6M706 114.8h-6M213.3 90.7v6M213.3 619.8v-6M295.4 90.7v6M295.4 619.8v-6M377.5 90.7v6M377.5 619.8v-6M459.6 90.7v6M459.6 619.8v-6M541.7 90.7v6M541.7 619.8v-6M623.8 90.7v6M623.8 619.8v-6" stroke="#6a6a6a" stroke-width="2" fill="none"/>
<g clip-path="url(#axclip)">
<g clip-path="url(#vc0)">
<rect x="173.6" y="301" width="80" height="9.8" fill="#3e26a8"/>
<rect x="173.6" y="310.2" width="80" height="23.6" fill="#402db4"/>
<rect x="173.6" y="333.2" width="80" height="9.8" fill="#4134c1"/>
<rect x="173.6" y="342.4" width="80" height="9.8" fill="#433bcd"/>
<rect x="173.6" y="351.6" width="80" height="9.8" fill="#4543d9"/>
<rect x="173.6" y="360.8" width="80" height="5.2" fill="#464ae6"/>
<rect x="173.6" y="365.4" width="80" height="5.2" fill="#4851f2"/>
<rect x="173.6" y="370" width="80" height="9.8" fill="#4459f4"/>
<rect x="173.6" y="379.2" width="80" height="5.2" fill="#4062f5"/>
<rect x="173.6" y="383.8" width="80" height="5.2" fill="#3c6bf5"/>
<rect x="173.6" y="388.4" width="80" height="5.2" fill="#3873f6"/>
<rect x="173.6" y="393" width="80" height="5.2" fill="#337cf6"/>
<rect x="173.6" y="397.6" width="80" height="5.2" fill="#2b8cf3"/>
<rect x="173.6" y="402.2" width="80" height="5.2" fill="#2693ee"/>
<rect x="173.6" y="406.8" width="80" height="5.2" fill="#1da0e3"/>
<rect x="173.6" y="411.4" width="80" height="5.2" fill="#14aed8"/>
<rect x="173.6" y="416" width="80" height="5.2" fill="#1bb7c6"/>
<rect x="173.6" y="420.6" width="80" height="5.2" fill="#28beb1"/>
<rect x="173.6" y="425.2" width="80" height="5.2" fill="#34c69d"/>
<rect x="173.6" y="429.8" width="80" height="5.2" fill="#4dc884"/>
<rect x="173.6" y="434.4" width="80" height="5.2" fill="#6fc868"/>
<rect x="173.6" y="439" width="80" height="5.2" fill="#9bc745"/>
<rect x="173.6" y="443.6" width="80" height="5.2" fill="#b0c638"/>
<rect x="173.6" y="448.2" width="80" height="5.2" fill="#cfbe2f"/>
<rect x="173.6" y="452.8" width="80" height="5.2" fill="#ebb734"/>
<rect x="173.6" y="457.4" width="80" height="5.2" fill="#fac030"/>
<rect x="173.6" y="462" width="80" height="5.2" fill="#f8cb2a"/>
<rect x="173.6" y="466.6" width="80" height="5.2" fill="#f6df20"/>
<rect x="173.6" y="471.2" width="80" height="9.8" fill="#f6e91c"/>
<rect x="173.6" y="480.4" width="80" height="5.2" fill="#f8f218"/>
<rect x="173.6" y="485" width="80" height="19" fill="#f9fb15"/>
<rect x="173.6" y="503.4" width="80" height="9.8" fill="#f8f218"/>
<rect x="173.6" y="512.6" width="80" height="5.2" fill="#f6e91c"/>
<rect x="173.6" y="517.2" width="80" height="5.2" fill="#f6df20"/>
<rect x="173.6" y="521.8" width="80" height="5.2" fill="#f7d525"/>
<rect x="173.6" y="526.4" width="80" height="5.2" fill="#fac030"/>
<rect x="173.6" y="531" width="80" height="5.2" fill="#f6b736"/>
<rect x="173.6" y="535.6" width="80" height="5.2" fill="#ebb734"/>
<rect x="173.6" y="540.2" width="80" height="5.2" fill="#ddba2f"/>
<rect x="173.6" y="544.8" width="80" height="5.2" fill="#cfbe2f"/>
<rect x="173.6" y="549.4" width="80" height="5.2" fill="#bfc234"/>
<rect x="173.6" y="554" width="80" height="5.2" fill="#b0c638"/>
<rect x="173.6" y="558.6" width="80" height="5.2" fill="#9bc745"/>
<rect x="173.6" y="563.2" width="80" height="5.2" fill="#85c856"/>
<rect x="173.6" y="567.8" width="80" height="5.2" fill="#6fc868"/>
<rect x="173.6" y="572.4" width="80" height="5.2" fill="#5cc877"/>
<rect x="173.6" y="577" width="80" height="5.2" fill="#4dc884"/>
<rect x="173.6" y="581.6" width="80" height="5.2" fill="#34c69d"/>
<rect x="173.6" y="586.2" width="80" height="5.2" fill="#2ec2a7"/>
<rect x="173.6" y="590.8" width="80" height="5.2" fill="#28beb1"/>
<rect x="173.6" y="595.4" width="80" height="5.2" fill="#21bbbc"/>
<rect x="173.6" y="600" width="80" height="5.2" fill="#1bb7c6"/>
<rect x="173.6" y="604.6" width="80" height="5.2" fill="#15b3d0"/>
<rect x="173.6" y="609.2" width="80" height="5.2" fill="#14aed8"/>
<rect x="173.6" y="613.8" width="80" height="5.2" fill="#19a7de"/>
<rect x="173.6" y="618.4" width="80" height="5.2" fill="#1da0e3"/>
<rect x="173.6" y="623" width="80" height="5.2" fill="#2299e8"/>
<path d="M173.6 310.7h80M173.6 333.7h80M173.6 342.9h80M173.6 352.1h80M173.6 361.3h80M173.6 365.9h80M173.6 370.5h80M173.6 379.7h80M173.6 384.3h80M173.6 388.9h80M173.6 393.5h80M173.6 398.1h80M173.6 402.7h80M173.6 407.3h80M173.6 411.9h80M173.6 416.5h80M173.6 421.1h80M173.6 425.7h80M173.6 430.3h80M173.6 434.9h80M173.6 439.5h80M173.6 444.1h80M173.6 448.7h80M173.6 453.3h80M173.6 457.9h80M173.6 462.5h80M173.6 467.1h80M173.6 471.7h80M173.6 480.9h80M173.6 485.5h80M173.6 503.9h80M173.6 513.1h80M173.6 517.7h80M173.6 522.3h80M173.6 526.9h80M173.6 531.5h80M173.6 536.1h80M173.6 540.7h80M173.6 545.3h80M173.6 549.9h80M173.6 554.5h80M173.6 559.1h80M173.6 563.7h80M173.6 568.3h80M173.6 572.9h80M173.6 577.5h80M173.6 582.1h80M173.6 586.7h80M173.6 591.3h80M173.6 595.9h80M173.6 600.5h80M173.6 605.1h80M173.6 609.7h80M173.6 614.3h80M173.6 618.9h80M173.6 623.5h80" stroke="#fff" stroke-opacity="0.25" stroke-width="1" fill="none"/>
</g>
<g clip-path="url(#vc1)">
<rect x="255.7" y="439.2" width="80" height="3.4" fill="#3e26a8"/>
<rect x="255.7" y="442" width="80" height="6.2" fill="#402db4"/>
<rect x="255.7" y="447.6" width="80" height="6.2" fill="#4134c1"/>
<rect x="255.7" y="453.2" width="80" height="3.4" fill="#433bcd"/>
<rect x="255.7" y="456" width="80" height="3.4" fill="#4543d9"/>
<rect x="255.7" y="458.8" width="80" height="3.4" fill="#464ae6"/>
<rect x="255.7" y="461.6" width="80" height="3.4" fill="#4851f2"/>
<rect x="255.7" y="464.4" width="80" height="3.4" fill="#4062f5"/>
<rect x="255.7" y="467.2" width="80" height="3.4" fill="#3873f6"/>
<rect x="255.7" y="470" width="80" height="3.4" fill="#2f84f7"/>
<rect x="255.7" y="472.8" width="80" height="3.4" fill="#2693ee"/>
<rect x="255.7" y="475.6" width="80" height="3.4" fill="#19a7de"/>
<rect x="255.7" y="478.4" width="80" height="3.4" fill="#15b3d0"/>
<rect x="255.7" y="481.2" width="80" height="3.4" fill="#28beb1"/>
<rect x="255.7" y="484" width="80" height="3.4" fill="#3ec891"/>
<rect x="255.7" y="486.8" width="80" height="3.4" fill="#6fc868"/>
<rect x="255.7" y="489.6" width="80" height="3.4" fill="#b0c638"/>
<rect x="255.7" y="492.4" width="80" height="3.4" fill="#cfbe2f"/>
<rect x="255.7" y="495.2" width="80" height="3.4" fill="#f6b736"/>
<rect x="255.7" y="498" width="80" height="3.4" fill="#f8cb2a"/>
<rect x="255.7" y="500.8" width="80" height="3.4" fill="#f6df20"/>
<rect x="255.7" y="503.6" width="80" height="3.4" fill="#f6e91c"/>
<rect x="255.7" y="506.4" width="80" height="6.2" fill="#f8f218"/>
<rect x="255.7" y="512" width="80" height="3.4" fill="#f6e91c"/>
<rect x="255.7" y="514.8" width="80" height="3.4" fill="#f6df20"/>
<rect x="255.7" y="517.6" width="80" height="3.4" fill="#f8cb2a"/>
<rect x="255.7" y="520.4" width="80" height="3.4" fill="#f6b736"/>
<rect x="255.7" y="523.2" width="80" height="3.4" fill="#cfbe2f"/>
<rect x="255.7" y="526" width="80" height="3.4" fill="#9bc745"/>
<rect x="255.7" y="528.8" width="80" height="3.4" fill="#5cc877"/>
<rect x="255.7" y="531.6" width="80" height="3.4" fill="#34c69d"/>
<rect x="255.7" y="534.4" width="80" height="3.4" fill="#21bbbc"/>
<rect x="255.7" y="537.2" width="80" height="3.4" fill="#15b3d0"/>
<rect x="255.7" y="540" width="80" height="3.4" fill="#19a7de"/>
<rect x="255.7" y="542.8" width="80" height="3.4" fill="#1da0e3"/>
<rect x="255.7" y="545.6" width="80" height="3.4" fill="#2299e8"/>
<rect x="255.7" y="548.4" width="80" height="6.2" fill="#2693ee"/>
<rect x="255.7" y="554" width="80" height="9" fill="#2299e8"/>
<rect x="255.7" y="562.4" width="80" height="9" fill="#1da0e3"/>
<rect x="255.7" y="570.8" width="80" height="6.2" fill="#2299e8"/>
<rect x="255.7" y="576.4" width="80" height="3.4" fill="#2693ee"/>
<rect x="255.7" y="579.2" width="80" height="3.4" fill="#2b8cf3"/>
<rect x="255.7" y="582" width="80" height="3.4" fill="#2f84f7"/>
<rect x="255.7" y="584.8" width="80" height="3.4" fill="#337cf6"/>
<rect x="255.7" y="587.6" width="80" height="3.4" fill="#3c6bf5"/>
<rect x="255.7" y="590.4" width="80" height="3.4" fill="#4062f5"/>
<rect x="255.7" y="593.2" width="80" height="3.4" fill="#4459f4"/>
<rect x="255.7" y="596" width="80" height="3.4" fill="#4851f2"/>
<rect x="255.7" y="598.8" width="80" height="3.4" fill="#464ae6"/>
<rect x="255.7" y="601.6" width="80" height="6.2" fill="#4543d9"/>
<rect x="255.7" y="607.2" width="80" height="6.2" fill="#433bcd"/>
<rect x="255.7" y="612.8" width="80" height="3.4" fill="#4134c1"/>
<rect x="255.7" y="615.6" width="80" height="6.2" fill="#402db4"/>
<path d="M255.7 442.5h80M255.7 448.1h80M255.7 453.7h80M255.7 456.5h80M255.7 459.3h80M255.7 462.1h80M255.7 464.9h80M255.7 467.7h80M255.7 470.5h80M255.7 473.3h80M255.7 476.1h80M255.7 478.9h80M255.7 481.7h80M255.7 484.5h80M255.7 487.3h80M255.7 490.1h80M255.7 492.9h80M255.7 495.7h80M255.7 498.5h80M255.7 501.3h80M255.7 504.1h80M255.7 506.9h80M255.7 512.5h80M255.7 515.3h80M255.7 518.1h80M255.7 520.9h80M255.7 523.7h80M255.7 526.5h80M255.7 529.3h80M255.7 532.1h80M255.7 534.9h80M255.7 537.7h80M255.7 540.5h80M255.7 543.3h80M255.7 546.1h80M255.7 548.9h80M255.7 554.5h80M255.7 562.9h80M255.7 571.3h80M255.7 576.9h80M255.7 579.7h80M255.7 582.5h80M255.7 585.3h80M255.7 588.1h80M255.7 590.9h80M255.7 593.7h80M255.7 596.5h80M255.7 599.3h80M255.7 602.1h80M255.7 607.7h80M255.7 613.3h80M255.7 616.1h80" stroke="#fff" stroke-opacity="0.25" stroke-width="1" fill="none"/>
</g>
<g clip-path="url(#vc2)">
<rect x="337.6" y="56.9" width="80" height="11.5" fill="#4134c1"/>
<rect x="337.6" y="67.8" width="80" height="22.4" fill="#433bcd"/>
<rect x="337.6" y="89.6" width="80" height="11.5" fill="#4543d9"/>
<rect x="337.6" y="100.5" width="80" height="22.4" fill="#464ae6"/>
<rect x="337.6" y="122.3" width="80" height="11.5" fill="#4851f2"/>
<rect x="337.6" y="133.2" width="80" height="11.5" fill="#4459f4"/>
<rect x="337.6" y="144.1" width="80" height="11.5" fill="#4062f5"/>
<rect x="337.6" y="155" width="80" height="11.5" fill="#3c6bf5"/>
<rect x="337.6" y="165.9" width="80" height="11.5" fill="#3873f6"/>
<rect x="337.6" y="176.8" width="80" height="11.5" fill="#2f84f7"/>
<rect x="337.6" y="187.7" width="80" height="11.5" fill="#2b8cf3"/>
<rect x="337.6" y="198.6" width="80" height="11.5" fill="#2693ee"/>
<rect x="337.6" y="209.5" width="80" height="11.5" fill="#1da0e3"/>
<rect x="337.6" y="220.4" width="80" height="11.5" fill="#19a7de"/>
<rect x="337.6" y="231.3" width="80" height="11.5" fill="#15b3d0"/>
<rect x="337.6" y="242.2" width="80" height="11.5" fill="#21bbbc"/>
<rect x="337.6" y="253.1" width="80" height="11.5" fill="#28beb1"/>
<rect x="337.6" y="264" width="80" height="11.5" fill="#34c69d"/>
<rect x="337.6" y="274.9" width="80" height="11.5" fill="#4dc884"/>
<rect x="337.6" y="285.8" width="80" height="11.5" fill="#6fc868"/>
<rect x="337.6" y="296.7" width="80" height="11.5" fill="#85c856"/>
<rect x="337.6" y="307.6" width="80" height="11.5" fill="#b0c638"/>
<rect x="337.6" y="318.5" width="80" height="11.5" fill="#cfbe2f"/>
<rect x="337.6" y="329.4" width="80" height="11.5" fill="#ebb734"/>
<rect x="337.6" y="340.3" width="80" height="11.5" fill="#f6b736"/>
<rect x="337.6" y="351.2" width="80" height="11.5" fill="#f8cb2a"/>
<rect x="337.6" y="362.1" width="80" height="11.5" fill="#f7d525"/>
<rect x="337.6" y="373" width="80" height="22.4" fill="#f6e91c"/>
<rect x="337.6" y="394.8" width="80" height="11.5" fill="#f8f218"/>
<rect x="337.6" y="405.7" width="80" height="76.9" fill="#f9fb15"/>
<rect x="337.6" y="482" width="80" height="22.4" fill="#f8f218"/>
<rect x="337.6" y="503.8" width="80" height="11.5" fill="#f6e91c"/>
<rect x="337.6" y="514.7" width="80" height="11.5" fill="#f6df20"/>
<rect x="337.6" y="525.6" width="80" height="11.5" fill="#f7d525"/>
<rect x="337.6" y="536.5" width="80" height="11.5" fill="#f8cb2a"/>
<rect x="337.6" y="547.4" width="80" height="11.5" fill="#fac030"/>
<rect x="337.6" y="558.3" width="80" height="11.5" fill="#ebb734"/>
<rect x="337.6" y="569.2" width="80" height="11.5" fill="#ddba2f"/>
<rect x="337.6" y="580.1" width="80" height="11.5" fill="#bfc234"/>
<rect x="337.6" y="591" width="80" height="11.5" fill="#b0c638"/>
<rect x="337.6" y="601.9" width="80" height="11.5" fill="#9bc745"/>
<rect x="337.6" y="612.8" width="80" height="22.4" fill="#6fc868"/>
<path d="M337.6 68.3h80M337.6 90.1h80M337.6 101h80M337.6 122.8h80M337.6 133.7h80M337.6 144.6h80M337.6 155.5h80M337.6 166.4h80M337.6 177.3h80M337.6 188.2h80M337.6 199.1h80M337.6 210h80M337.6 220.9h80M337.6 231.8h80M337.6 242.7h80M337.6 253.6h80M337.6 264.5h80M337.6 275.4h80M337.6 286.3h80M337.6 297.2h80M337.6 308.1h80M337.6 319h80M337.6 329.9h80M337.6 340.8h80M337.6 351.7h80M337.6 362.6h80M337.6 373.5h80M337.6 395.3h80M337.6 406.2h80M337.6 482.5h80M337.6 504.3h80M337.6 515.2h80M337.6 526.1h80M337.6 537h80M337.6 547.9h80M337.6 558.8h80M337.6 569.7h80M337.6 580.6h80M337.6 591.5h80M337.6 602.4h80M337.6 613.3h80" stroke="#fff" stroke-opacity="0.25" stroke-width="1" fill="none"/>
</g>
<g clip-path="url(#vc3)">
<rect x="419.6" y="501.1" width="80" height="3.8" fill="#3e26a8"/>
<rect x="419.6" y="504.3" width="80" height="7" fill="#402db4"/>
<rect x="419.6" y="510.7" width="80" height="7" fill="#4134c1"/>
<rect x="419.6" y="517.1" width="80" height="3.8" fill="#433bcd"/>
<rect x="419.6" y="520.3" width="80" height="7" fill="#4543d9"/>
<rect x="419.6" y="526.7" width="80" height="3.8" fill="#464ae6"/>
<rect x="419.6" y="529.9" width="80" height="3.8" fill="#4459f4"/>
<rect x="419.6" y="533.1" width="80" height="3.8" fill="#4062f5"/>
<rect x="419.6" y="536.3" width="80" height="3.8" fill="#337cf6"/>
<rect x="419.6" y="539.5" width="80" height="3.8" fill="#2693ee"/>
<rect x="419.6" y="542.7" width="80" height="3.8" fill="#19a7de"/>
<rect x="419.6" y="545.9" width="80" height="3.8" fill="#21bbbc"/>
<rect x="419.6" y="549.1" width="80" height="3.8" fill="#34c69d"/>
<rect x="419.6" y="552.3" width="80" height="3.8" fill="#6fc868"/>
<rect x="419.6" y="555.5" width="80" height="3.8" fill="#b0c638"/>
<rect x="419.6" y="558.7" width="80" height="3.8" fill="#ddba2f"/>
<rect x="419.6" y="561.9" width="80" height="3.8" fill="#fac030"/>
<rect x="419.6" y="565.1" width="80" height="3.8" fill="#f7d525"/>
<rect x="419.6" y="568.3" width="80" height="3.8" fill="#f6e91c"/>
<rect x="419.6" y="571.5" width="80" height="3.8" fill="#f8f218"/>
<rect x="419.6" y="574.7" width="80" height="7" fill="#f9fb15"/>
<rect x="419.6" y="581.1" width="80" height="3.8" fill="#f6e91c"/>
<rect x="419.6" y="584.3" width="80" height="3.8" fill="#f7d525"/>
<rect x="419.6" y="587.5" width="80" height="3.8" fill="#f6b736"/>
<rect x="419.6" y="590.7" width="80" height="3.8" fill="#cfbe2f"/>
<rect x="419.6" y="593.9" width="80" height="3.8" fill="#85c856"/>
<rect x="419.6" y="597.1" width="80" height="3.8" fill="#4dc884"/>
<rect x="419.6" y="600.3" width="80" height="3.8" fill="#28beb1"/>
<rect x="419.6" y="603.5" width="80" height="3.8" fill="#15b3d0"/>
<rect x="419.6" y="606.7" width="80" height="3.8" fill="#1da0e3"/>
<rect x="419.6" y="609.9" width="80" height="3.8" fill="#2b8cf3"/>
<rect x="419.6" y="613.1" width="80" height="3.8" fill="#337cf6"/>
<rect x="419.6" y="616.3" width="80" height="3.8" fill="#3c6bf5"/>
<rect x="419.6" y="619.5" width="80" height="3.8" fill="#4851f2"/>
<rect x="419.6" y="622.7" width="80" height="3.8" fill="#464ae6"/>
<path d="M419.6 504.8h80M419.6 511.2h80M419.6 517.6h80M419.6 520.8h80M419.6 527.2h80M419.6 530.4h80M419.6 533.6h80M419.6 536.8h80M419.6 540h80M419.6 543.2h80M419.6 546.4h80M419.6 549.6h80M419.6 552.8h80M419.6 556h80M419.6 559.2h80M419.6 562.4h80M419.6 565.6h80M419.6 568.8h80M419.6 572h80M419.6 575.2h80M419.6 581.6h80M419.6 584.8h80M419.6 588h80M419.6 591.2h80M419.6 594.4h80M419.6 597.6h80M419.6 600.8h80M419.6 604h80M419.6 607.2h80M419.6 610.4h80M419.6 613.6h80M419.6 616.8h80M419.6 620h80M419.6 623.2h80" stroke="#fff" stroke-opacity="0.25" stroke-width="1" fill="none"/>
</g>
<g clip-path="url(#vc4)">
<rect x="501.6" y="103.9" width="80" height="38.6" fill="#3e26a8"/>
<rect x="501.6" y="141.9" width="80" height="46.2" fill="#402db4"/>
<rect x="501.6" y="187.5" width="80" height="15.8" fill="#4134c1"/>
<rect x="501.6" y="202.7" width="80" height="8.2" fill="#433bcd"/>
<rect x="501.6" y="210.3" width="80" height="8.2" fill="#4543d9"/>
<rect x="501.6" y="217.9" width="80" height="15.8" fill="#464ae6"/>
<rect x="501.6" y="233.1" width="80" height="8.2" fill="#4851f2"/>
<rect x="501.6" y="240.7" width="80" height="8.2" fill="#4459f4"/>
<rect x="501.6" y="248.3" width="80" height="8.2" fill="#3c6bf5"/>
<rect x="501.6" y="255.9" width="80" height="8.2" fill="#3873f6"/>
<rect x="501.6" y="263.5" width="80" height="8.2" fill="#337cf6"/>
<rect x="501.6" y="271.1" width="80" height="8.2" fill="#2b8cf3"/>
<rect x="501.6" y="278.7" width="80" height="8.2" fill="#2299e8"/>
<rect x="501.6" y="286.3" width="80" height="8.2" fill="#1da0e3"/>
<rect x="501.6" y="293.9" width="80" height="8.2" fill="#14aed8"/>
<rect x="501.6" y="301.5" width="80" height="8.2" fill="#1bb7c6"/>
<rect x="501.6" y="309.1" width="80" height="8.2" fill="#28beb1"/>
<rect x="501.6" y="316.7" width="80" height="8.2" fill="#2ec2a7"/>
<rect x="501.6" y="324.3" width="80" height="8.2" fill="#3ec891"/>
<rect x="501.6" y="331.9" width="80" height="8.2" fill="#5cc877"/>
<rect x="501.6" y="339.5" width="80" height="8.2" fill="#85c856"/>
<rect x="501.6" y="347.1" width="80" height="8.2" fill="#b0c638"/>
<rect x="501.6" y="354.7" width="80" height="8.2" fill="#cfbe2f"/>
<rect x="501.6" y="362.3" width="80" height="8.2" fill="#ddba2f"/>
<rect x="501.6" y="369.9" width="80" height="8.2" fill="#f6b736"/>
<rect x="501.6" y="377.5" width="80" height="8.2" fill="#fac030"/>
<rect x="501.6" y="385.1" width="80" height="8.2" fill="#f8cb2a"/>
<rect x="501.6" y="392.7" width="80" height="8.2" fill="#f7d525"/>
<rect x="501.6" y="400.3" width="80" height="8.2" fill="#f6df20"/>
<rect x="501.6" y="407.9" width="80" height="8.2" fill="#f6e91c"/>
<rect x="501.6" y="415.5" width="80" height="15.8" fill="#f8f218"/>
<rect x="501.6" y="430.7" width="80" height="8.2" fill="#f9fb15"/>
<rect x="501.6" y="438.3" width="80" height="23.4" fill="#f8f218"/>
<rect x="501.6" y="461.1" width="80" height="15.8" fill="#f6e91c"/>
<rect x="501.6" y="476.3" width="80" height="8.2" fill="#f6df20"/>
<rect x="501.6" y="483.9" width="80" height="8.2" fill="#f8cb2a"/>
<rect x="501.6" y="491.5" width="80" height="8.2" fill="#fac030"/>
<rect x="501.6" y="499.1" width="80" height="8.2" fill="#f6b736"/>
<rect x="501.6" y="506.7" width="80" height="8.2" fill="#ebb734"/>
<rect x="501.6" y="514.3" width="80" height="8.2" fill="#ddba2f"/>
<rect x="501.6" y="521.9" width="80" height="8.2" fill="#cfbe2f"/>
<rect x="501.6" y="529.5" width="80" height="8.2" fill="#b0c638"/>
<rect x="501.6" y="537.1" width="80" height="8.2" fill="#9bc745"/>
<rect x="501.6" y="544.7" width="80" height="8.2" fill="#85c856"/>
<rect x="501.6" y="552.3" width="80" height="8.2" fill="#6fc868"/>
<rect x="501.6" y="559.9" width="80" height="8.2" fill="#5cc877"/>
<rect x="501.6" y="567.5" width="80" height="8.2" fill="#3ec891"/>
<rect x="501.6" y="575.1" width="80" height="8.2" fill="#34c69d"/>
<rect x="501.6" y="582.7" width="80" height="8.2" fill="#2ec2a7"/>
<rect x="501.6" y="590.3" width="80" height="15.8" fill="#28beb1"/>
<rect x="501.6" y="605.5" width="80" height="8.2" fill="#21bbbc"/>
<rect x="501.6" y="613.1" width="80" height="8.2" fill="#1bb7c6"/>
<rect x="501.6" y="620.7" width="80" height="8.2" fill="#15b3d0"/>
<path d="M501.6 142.4h80M501.6 188h80M501.6 203.2h80M501.6 210.8h80M501.6 218.4h80M501.6 233.6h80M501.6 241.2h80M501.6 248.8h80M501.6 256.4h80M501.6 264h80M501.6 271.6h80M501.6 279.2h80M501.6 286.8h80M501.6 294.4h80M501.6 302h80M501.6 309.6h80M501.6 317.2h80M501.6 324.8h80M501.6 332.4h80M501.6 340h80M501.6 347.6h80M501.6 355.2h80M501.6 362.8h80M501.6 370.4h80M501.6 378h80M501.6 385.6h80M501.6 393.2h80M501.6 400.8h80M501.6 408.4h80M501.6 416h80M501.6 431.2h80M501.6 438.8h80M501.6 461.6h80M501.6 476.8h80M501.6 484.4h80M501.6 492h80M501.6 499.6h80M501.6 507.2h80M501.6 514.8h80M501.6 522.4h80M501.6 530h80M501.6 537.6h80M501.6 545.2h80M501.6 552.8h80M501.6 560.4h80M501.6 568h80M501.6 575.6h80M501.6 583.2h80M501.6 590.8h80M501.6 606h80M501.6 613.6h80M501.6 621.2h80" stroke="#fff" stroke-opacity="0.25" stroke-width="1" fill="none"/>
</g>
<g clip-path="url(#vc5)">
<rect x="584" y="51.4" width="80" height="22.2" fill="#f8cb2a"/>
<rect x="584" y="73" width="80" height="22.2" fill="#f7d525"/>
<rect x="584" y="94.6" width="80" height="22.2" fill="#f6df20"/>
<rect x="584" y="116.2" width="80" height="22.2" fill="#f6e91c"/>
<rect x="584" y="137.8" width="80" height="65.4" fill="#f8f218"/>
<rect x="584" y="202.6" width="80" height="87" fill="#f9fb15"/>
<rect x="584" y="289" width="80" height="43.8" fill="#f8f218"/>
<rect x="584" y="332.2" width="80" height="22.2" fill="#f6e91c"/>
<rect x="584" y="353.8" width="80" height="22.2" fill="#f6df20"/>
<rect x="584" y="375.4" width="80" height="22.2" fill="#f7d525"/>
<rect x="584" y="397" width="80" height="22.2" fill="#f8cb2a"/>
<rect x="584" y="418.6" width="80" height="22.2" fill="#fac030"/>
<rect x="584" y="440.2" width="80" height="22.2" fill="#f6b736"/>
<rect x="584" y="461.8" width="80" height="22.2" fill="#ddba2f"/>
<rect x="584" y="483.4" width="80" height="22.2" fill="#cfbe2f"/>
<rect x="584" y="505" width="80" height="22.2" fill="#b0c638"/>
<rect x="584" y="526.6" width="80" height="22.2" fill="#9bc745"/>
<rect x="584" y="548.2" width="80" height="22.2" fill="#6fc868"/>
<rect x="584" y="569.8" width="80" height="22.2" fill="#5cc877"/>
<rect x="584" y="591.4" width="80" height="22.2" fill="#4dc884"/>
<rect x="584" y="613" width="80" height="22.2" fill="#34c69d"/>
<path d="M584 73.5h80M584 95.1h80M584 116.7h80M584 138.3h80M584 203.1h80M584 289.5h80M584 332.7h80M584 354.3h80M584 375.9h80M584 397.5h80M584 419.1h80M584 440.7h80M584 462.3h80M584 483.9h80M584 505.5h80M584 527.1h80M584 548.7h80M584 570.3h80M584 591.9h80M584 613.5h80" stroke="#fff" stroke-opacity="0.25" stroke-width="1" fill="none"/>
</g>
<path d="M198.5 514.7H228.5" stroke="#000" stroke-opacity="0.68" stroke-width="2.1" fill="none"/>
<path d="M213.5 498.4V529.8" stroke="#000" stroke-opacity="0.88" stroke-width="2.1" fill="none"/>
<circle cx="218.1" cy="458.2" r="2.7" fill="#000"/>
<circle cx="213.3" cy="500.8" r="2.7" fill="#000"/>
<circle cx="214.9" cy="498.7" r="2.7" fill="#000"/>
<circle cx="208.1" cy="598.2" r="2.7" fill="#000"/>
<path d="M280.8 523.7H310.3" stroke="#000" stroke-opacity="0.68" stroke-width="2.1" fill="none"/>
<path d="M295.7 508V539" stroke="#000" stroke-opacity="0.88" stroke-width="2.1" fill="none"/>
<circle cx="300.5" cy="499.1" r="2.7" fill="#000"/>
<circle cx="296.8" cy="508.5" r="2.7" fill="#000"/>
<circle cx="293.6" cy="515.8" r="2.7" fill="#000"/>
<circle cx="290.3" cy="572.2" r="2.7" fill="#000"/>
<path d="M362.8 466.9H392.6" stroke="#000" stroke-opacity="0.68" stroke-width="2.1" fill="none"/>
<path d="M377.7 452V481.8" stroke="#000" stroke-opacity="0.88" stroke-width="2.1" fill="none"/>
<circle cx="375.7" cy="374.6" r="2.7" fill="#000"/>
<circle cx="382.7" cy="383.2" r="2.7" fill="#000"/>
<circle cx="379" cy="493.1" r="2.7" fill="#000"/>
<circle cx="372.7" cy="615.6" r="2.7" fill="#000"/>
<path d="M444.5 576.4H474.8" stroke="#000" stroke-opacity="0.68" stroke-width="2.1" fill="none"/>
<path d="M459.8 559.4V590.4" stroke="#000" stroke-opacity="0.88" stroke-width="2.1" fill="none"/>
<circle cx="458.1" cy="560.6" r="2.7" fill="#000"/>
<circle cx="464.6" cy="574.7" r="2.7" fill="#000"/>
<circle cx="454.7" cy="592.1" r="2.7" fill="#000"/>
<path d="M527.3 465.9H556.5" stroke="#000" stroke-opacity="0.68" stroke-width="2.1" fill="none"/>
<path d="M541.5 451.9V481.1" stroke="#000" stroke-opacity="0.88" stroke-width="2.1" fill="none"/>
<circle cx="547" cy="380" r="2.7" fill="#000"/>
<circle cx="540.2" cy="432.2" r="2.7" fill="#000"/>
<circle cx="543.6" cy="455.3" r="2.7" fill="#000"/>
<circle cx="536.8" cy="599" r="2.7" fill="#000"/>
<path d="M609.2 265.1H639.5" stroke="#000" stroke-opacity="0.68" stroke-width="2.1" fill="none"/>
<path d="M624 250.3V279.9" stroke="#000" stroke-opacity="0.88" stroke-width="2.1" fill="none"/>
<circle cx="625.6" cy="90.4" r="2.7" fill="#000"/>
<circle cx="622.5" cy="112" r="2.7" fill="#000"/>
<circle cx="629.2" cy="326.9" r="2.7" fill="#000"/>
<circle cx="619.1" cy="529.6" r="2.7" fill="#000"/>
</g>
<g font-size="29.5" fill="#383838" text-anchor="end">
<text transform="translate(115.5 630.7) scale(1 1.04)">0</text>
<text transform="translate(113 529.7) scale(1 1.04)">10</text>
<text transform="translate(113 428.7) scale(1 1.04)">20</text>
<text transform="translate(113 327.7) scale(1 1.04)">30</text>
<text transform="translate(113 226.7) scale(1 1.04)">40</text>
<text transform="translate(113 125.7) scale(1 1.04)">50</text>
</g>
<g font-size="30" fill="#383838" text-anchor="middle">
<text transform="translate(212.6 659) scale(1 1.04)">IV-F</text>
<text transform="translate(293.5 659) scale(1 1.04)">IV-M</text>
<text transform="translate(376.1 659) scale(1 1.04)">III-F</text>
<text transform="translate(457.8 659) scale(1 1.04)">III-M</text>
<text transform="translate(541.3 659) scale(1 1.04)">I-II-F</text>
<text transform="translate(622.2 659) scale(1 1.04)">I-II-M</text>
</g>
<text transform="translate(67 363.5) rotate(-90) scale(1 1.04)" font-size="29.8" fill="#1a1a1a" text-anchor="middle">Expression</text>
<text transform="translate(3.5 58.7) scale(1.03 1)" font-weight="bold" font-size="76.5" fill="#000">A</text>
<text transform="translate(60.8 58.7) scale(0.86 1)" font-weight="bold" font-size="74" fill="#000">)</text>
<text transform="translate(956.3 58.5) scale(0.94 1)" font-weight="bold" font-size="76" fill="#000">B</text>
<text transform="translate(1009.7 58.5) scale(0.86 1)" font-weight="bold" font-size="74" fill="#000">)</text>
<text transform="translate(6.2 812) scale(0.93 1)" font-weight="bold" font-size="76.6" fill="#000">C</text>
<text transform="translate(60.8 812) scale(0.86 1)" font-weight="bold" font-size="74" fill="#000">)</text>
<text transform="translate(6.3 1633.5) scale(0.938 1)" font-weight="bold" font-size="76" fill="#000">D</text>
<text transform="translate(60.8 1633.5) scale(0.86 1)" font-weight="bold" font-size="74" fill="#000">)</text>
<defs><linearGradient id="cbar" x1="0" x2="1" y1="0" y2="0"><stop offset="0.000" stop-color="#0016fc"/><stop offset="0.010" stop-color="#0016f8"/><stop offset="0.020" stop-color="#0016f4"/><stop offset="0.030" stop-color="#0016f0"/><stop offset="0.040" stop-color="#0016eb"/><stop offset="0.050" stop-color="#0017e7"/><stop offset="0.060" stop-color="#0017e3"/><stop offset="0.070" stop-color="#0017df"/><stop offset="0.080" stop-color="#0017db"/><stop offset="0.090" stop-color="#0017d7"/><stop offset="0.100" stop-color="#0017d3"/><stop offset="0.110" stop-color="#0017ce"/><stop offset="0.120" stop-color="#0017ca"/><stop offset="0.130" stop-color="#0018c6"/><stop offset="0.140" stop-color="#0018c2"/><stop offset="0.150" stop-color="#0018be"/><stop offset="0.160" stop-color="#0018ba"/><stop offset="0.170" stop-color="#0018b6"/><stop offset="0.180" stop-color="#0018b1"/><stop offset="0.190" stop-color="#0018ad"/><stop offset="0.200" stop-color="#0018a9"/><stop offset="0.210" stop-color="#0019a5"/><stop offset="0.220" stop-color="#0019a1"/><stop offset="0.230" stop-color="#00199d"/><stop offset="0.240" stop-color="#001999"/><stop offset="0.250" stop-color="#001994"/><stop offset="0.260" stop-color="#001990"/><stop offset="0.270" stop-color="#00198c"/><stop offset="0.280" stop-color="#001988"/><stop offset="0.290" stop-color="#001984"/><stop offset="0.300" stop-color="#001a80"/><stop offset="0.310" stop-color="#001a7c"/><stop offset="0.320" stop-color="#001a77"/><stop offset="0.330" stop-color="#001a73"/><stop offset="0.340" stop-color="#001a6f"/><stop offset="0.350" stop-color="#001a6b"/><stop offset="0.360" stop-color="#001a67"/><stop offset="0.370" stop-color="#001a63"/><stop offset="0.380" stop-color="#001b5f"/><stop offset="0.390" stop-color="#001b5a"/><stop offset="0.400" stop-color="#001b56"/><stop offset="0.410" stop-color="#001b52"/><stop offset="0.420" stop-color="#001b4e"/><stop offset="0.430" stop-color="#001b4a"/><stop offset="0.440" stop-color="#001b46"/><stop offset="0.450" stop-color="#001b42"/><stop offset="0.460" stop-color="#001c3d"/><stop offset="0.470" stop-color="#001c39"/><stop offset="0.480" stop-color="#001c35"/><stop offset="0.490" stop-color="#001c31"/><stop offset="0.500" stop-color="#3b1a06"/><stop offset="0.510" stop-color="#3f1a06"/><stop offset="0.520" stop-color="#431a06"/><stop offset="0.530" stop-color="#471a06"/><stop offset="0.540" stop-color="#4b1b05"/><stop offset="0.550" stop-color="#4f1b05"/><stop offset="0.560" stop-color="#531b05"/><stop offset="0.570" stop-color="#571b05"/><stop offset="0.580" stop-color="#5a1b05"/><stop offset="0.590" stop-color="#5e1b05"/><stop offset="0.600" stop-color="#621b05"/><stop offset="0.610" stop-color="#661b05"/><stop offset="0.620" stop-color="#6a1b05"/><stop offset="0.630" stop-color="#6e1c04"/><stop offset="0.640" stop-color="#721c04"/><stop offset="0.650" stop-color="#761c04"/><stop offset="0.660" stop-color="#7a1c04"/><stop offset="0.670" stop-color="#7e1c04"/><stop offset="0.680" stop-color="#821c04"/><stop offset="0.690" stop-color="#861c04"/><stop offset="0.700" stop-color="#891c04"/><stop offset="0.710" stop-color="#8d1d03"/><stop offset="0.720" stop-color="#911d03"/><stop offset="0.730" stop-color="#951d03"/><stop offset="0.740" stop-color="#991d03"/><stop offset="0.750" stop-color="#9d1d03"/><stop offset="0.760" stop-color="#a11d03"/><stop offset="0.770" stop-color="#a51d03"/><stop offset="0.780" stop-color="#a91d03"/><stop offset="0.790" stop-color="#ad1d03"/><stop offset="0.800" stop-color="#b11e02"/><stop offset="0.810" stop-color="#b51e02"/><stop offset="0.820" stop-color="#b81e02"/><stop offset="0.830" stop-color="#bc1e02"/><stop offset="0.840" stop-color="#c01e02"/><stop offset="0.850" stop-color="#c41e02"/><stop offset="0.860" stop-color="#c81e02"/><stop offset="0.870" stop-color="#cc1e02"/><stop offset="0.880" stop-color="#d01f01"/><stop offset="0.890" stop-color="#d41f01"/><stop offset="0.900" stop-color="#d81f01"/><stop offset="0.910" stop-color="#dc1f01"/><stop offset="0.920" stop-color="#e01f01"/><stop offset="0.930" stop-color="#e41f01"/><stop offset="0.940" stop-color="#e71f01"/><stop offset="0.950" stop-color="#eb1f01"/><stop offset="0.960" stop-color="#ef2000"/><stop offset="0.970" stop-color="#f32000"/><stop offset="0.980" stop-color="#f72000"/><stop offset="0.990" stop-color="#fb2000"/><stop offset="1.000" stop-color="#ff2000"/></linearGradient></defs>
<rect x="1073.6" y="105.6" width="496.4" height="7.9" rx="1.5" fill="url(#cbar)"/>
<g font-size="17" fill="#222" text-anchor="middle">
<text transform="translate(1073.2 100.2) scale(1 1.04)">0</text>
<text transform="translate(1119.9 100.2) scale(1 1.04)">5</text>
<text transform="translate(1166.5 100.2) scale(1 1.04)">10</text>
<text transform="translate(1213.2 100.2) scale(1 1.04)">15</text>
<text transform="translate(1259.9 100.2) scale(1 1.04)">20</text>
<text transform="translate(1306.6 100.2) scale(1 1.04)">25</text>
<text transform="translate(1353.2 100.2) scale(1 1.04)">30</text>
<text transform="translate(1399.9 100.2) scale(1 1.04)">35</text>
<text transform="translate(1446.6 100.2) scale(1 1.04)">40</text>
<text transform="translate(1493.3 100.2) scale(1 1.04)">45</text>
<text transform="translate(1540 100.2) scale(1 1.04)">50</text>
</g>
<rect x="1073.8" y="119.3" width="81.1" height="126.8" fill="#00199f"/>
<rect x="1159.5" y="119.3" width="77.8" height="126.8" fill="#0018a6"/>
<rect x="1242.1" y="119.3" width="77.4" height="126.8" fill="#00199a"/>
<rect x="1324.5" y="119.3" width="77.7" height="126.8" fill="#0017db"/>
<rect x="1407" y="119.3" width="77.8" height="126.8" fill="#001a7e"/>
<rect x="1489.8" y="119.3" width="79.7" height="126.8" fill="#f82000"/>
<rect x="1073.8" y="245.8" width="81.1" height="126.8" fill="#001a80"/>
<rect x="1159.5" y="245.8" width="77.8" height="126.8" fill="#00199f"/>
<rect x="1242.1" y="245.8" width="77.4" height="126.8" fill="#001b45"/>
<rect x="1324.5" y="245.8" width="77.7" height="126.8" fill="#0017d9"/>
<rect x="1407" y="245.8" width="77.8" height="126.8" fill="#001b43"/>
<rect x="1489.8" y="245.8" width="79.7" height="126.8" fill="#4c1b05"/>
<rect x="1073.8" y="372.4" width="81.1" height="126.8" fill="#0019a1"/>
<rect x="1159.5" y="372.4" width="77.8" height="126.8" fill="#0018ac"/>
<rect x="1242.1" y="372.4" width="77.4" height="126.8" fill="#001c3f"/>
<rect x="1324.5" y="372.4" width="77.7" height="126.8" fill="#0017cf"/>
<rect x="1407" y="372.4" width="77.8" height="126.8" fill="#001a6b"/>
<rect x="1489.8" y="372.4" width="79.7" height="126.8" fill="#e91f01"/>
<rect x="1073.8" y="498.9" width="81.1" height="126.8" fill="#0016ec"/>
<rect x="1159.5" y="498.9" width="77.8" height="126.8" fill="#0017d7"/>
<rect x="1242.1" y="498.9" width="77.4" height="126.8" fill="#0016f9"/>
<rect x="1324.5" y="498.9" width="77.7" height="126.8" fill="#0017e6"/>
<rect x="1407" y="498.9" width="77.8" height="126.8" fill="#0017e9"/>
<rect x="1489.8" y="498.9" width="79.7" height="126.8" fill="#0018b7"/>
<rect x="1073.8" y="245.3" width="81.1" height="1" fill="#fff" fill-opacity="0.12"/>
<rect x="1159.5" y="245.3" width="77.8" height="1" fill="#fff" fill-opacity="0.12"/>
<rect x="1242.1" y="245.3" width="77.4" height="1" fill="#fff" fill-opacity="0.12"/>
<rect x="1324.5" y="245.3" width="77.7" height="1" fill="#fff" fill-opacity="0.12"/>
<rect x="1407" y="245.3" width="77.8" height="1" fill="#fff" fill-opacity="0.12"/>
<rect x="1489.8" y="245.3" width="79.7" height="1" fill="#fff" fill-opacity="0.12"/>
<rect x="1073.8" y="371.9" width="81.1" height="1" fill="#fff" fill-opacity="0.12"/>
<rect x="1159.5" y="371.9" width="77.8" height="1" fill="#fff" fill-opacity="0.12"/>
<rect x="1242.1" y="371.9" width="77.4" height="1" fill="#fff" fill-opacity="0.12"/>
<rect x="1324.5" y="371.9" width="77.7" height="1" fill="#fff" fill-opacity="0.12"/>
<rect x="1407" y="371.9" width="77.8" height="1" fill="#fff" fill-opacity="0.12"/>
<rect x="1489.8" y="371.9" width="79.7" height="1" fill="#fff" fill-opacity="0.12"/>
<rect x="1073.8" y="498.4" width="81.1" height="1" fill="#fff" fill-opacity="0.12"/>
<rect x="1159.5" y="498.4" width="77.8" height="1" fill="#fff" fill-opacity="0.12"/>
<rect x="1242.1" y="498.4" width="77.4" height="1" fill="#fff" fill-opacity="0.12"/>
<rect x="1324.5" y="498.4" width="77.7" height="1" fill="#fff" fill-opacity="0.12"/>
<rect x="1407" y="498.4" width="77.8" height="1" fill="#fff" fill-opacity="0.12"/>
<rect x="1489.8" y="498.4" width="79.7" height="1" fill="#fff" fill-opacity="0.12"/>
<g font-size="26" fill="#fff" text-anchor="middle">
<text transform="translate(1112.4 191.8) scale(1 1.04)">11.9</text>
<text transform="translate(1194.6 191.8) scale(1 1.04)">11.0</text>
<text transform="translate(1277.2 191.8) scale(1 1.04)">12.6</text>
<text transform="translate(1359.6 191.8) scale(1 1.04)">4.20</text>
<text transform="translate(1442.2 191.8) scale(1 1.04)">16.2</text>
<text transform="translate(1524.2 191.8) scale(1 1.04)">52.4</text>
<text transform="translate(1112.4 318.3) scale(1 1.04)">16.0</text>
<text transform="translate(1194.6 318.3) scale(1 1.04)">11.9</text>
<text transform="translate(1277.2 318.3) scale(1 1.04)">23.5</text>
<text transform="translate(1359.6 318.3) scale(1 1.04)">4.50</text>
<text transform="translate(1442.2 318.3) scale(1 1.04)">23.8</text>
<text transform="translate(1524.2 318.3) scale(1 1.04)">29.0</text>
<text transform="translate(1112.4 444.9) scale(1 1.04)">11.7</text>
<text transform="translate(1194.6 444.9) scale(1 1.04)">10.3</text>
<text transform="translate(1277.2 444.9) scale(1 1.04)">24.3</text>
<text transform="translate(1359.6 444.9) scale(1 1.04)">5.80</text>
<text transform="translate(1442.2 444.9) scale(1 1.04)">18.6</text>
<text transform="translate(1524.2 444.9) scale(1 1.04)">50.3</text>
<text transform="translate(1112.4 571.4) scale(1 1.04)">2.10</text>
<text transform="translate(1194.6 571.4) scale(1 1.04)">4.70</text>
<text transform="translate(1277.2 571.4) scale(1 1.04)">0.40</text>
<text transform="translate(1359.6 571.4) scale(1 1.04)">2.80</text>
<text transform="translate(1442.2 571.4) scale(1 1.04)">2.40</text>
<text transform="translate(1524.2 571.4) scale(1 1.04)">8.90</text>
</g>
<g font-size="21.5" font-style="italic" fill="#222" text-anchor="end">
<text transform="translate(1063 189.6) scale(1 1.04)">LncRNA1</text>
<text transform="translate(1063 316.1) scale(1 1.04)">LncRNA10</text>
<text transform="translate(1063 442.7) scale(1 1.04)">LncRNA5</text>
<text transform="translate(1063 569.2) scale(1 1.04)">Unas4</text>
</g>
<g font-size="26.8" fill="#444" text-anchor="middle">
<text transform="translate(1115.4 659.2) scale(1 1.04)">IV-F</text>
<text transform="translate(1196.7 659.2) scale(1 1.04)">IV-M</text>
<text transform="translate(1279.9 659.2) scale(1 1.04)">III-F</text>
<text transform="translate(1361.7 659.2) scale(1 1.04)">III-M</text>
<text transform="translate(1445 659.2) scale(1 1.04)">I-II-F</text>
<text transform="translate(1526.7 659.2) scale(1 1.04)">I-II-M</text>
</g>
<g fill="#000"><rect x="546.9" y="883.1" width="1097.8" height="3.8"/><rect x="546.9" y="925.6" width="1097.8" height="3.4"/><rect x="170.3" y="967.6" width="1474.4" height="4"/><rect x="339.7" y="1010.1" width="1305" height="1.9"/><rect x="170.3" y="1050.5" width="1474.4" height="4"/><rect x="339.7" y="1093" width="1305" height="1.9"/><rect x="170.3" y="1133.4" width="1474.4" height="4"/><rect x="339.7" y="1175.9" width="1305" height="1.9"/><rect x="170.3" y="1216.3" width="1474.4" height="4"/><rect x="339.7" y="1258.8" width="1305" height="1.9"/><rect x="170.3" y="1299.2" width="1474.4" height="4"/><rect x="339.7" y="1341.7" width="1305" height="1.9"/><rect x="170.3" y="1382.1" width="1474.4" height="4"/><rect x="339.7" y="1424.6" width="1305" height="1.9"/><rect x="170.3" y="1464.9" width="1474.4" height="4.2"/><rect x="170.3" y="967.6" width="4" height="501.4"/><rect x="340.1" y="967.6" width="3.3" height="501.4"/><rect x="547" y="883" width="3.7" height="586"/><rect x="679.5" y="925.3" width="1.9" height="543.7"/><rect x="820.9" y="883" width="3.7" height="586"/><rect x="958.5" y="925.3" width="1.9" height="543.7"/><rect x="1094.4" y="883" width="3.7" height="586"/><rect x="1251.1" y="925.3" width="1.9" height="543.7"/><rect x="1386.5" y="883" width="3.7" height="586"/><rect x="1524.2" y="925.3" width="1.9" height="543.7"/><rect x="1640.9" y="883" width="3.7" height="586"/></g>
<g font-size="27.3" font-weight="bold" fill="#000" text-anchor="middle">
<text transform="translate(686.3 916.7) scale(1 1.04)" font-style="italic">PR-lncRNA 1</text>
<text transform="translate(960 916.7) scale(1 1.04)" font-style="italic">PR-lncRNA 5</text>
<text transform="translate(1242.8 916.7) scale(1 1.04)" font-style="italic">PR-lncRNA 10</text>
<text transform="translate(1516 916.7) scale(1 1.04)">Unassigned 4</text>
</g>
<g font-size="27.5" fill="#000" text-anchor="middle">
<text transform="translate(615.7 957) scale(1 1.04)">High</text>
<text transform="translate(752.6 957) scale(1 1.04)">Low</text>
<text transform="translate(892.1 957) scale(1 1.04)">High</text>
<text transform="translate(1028.8 957) scale(1 1.04)">Low</text>
<text transform="translate(1175.2 957) scale(1 1.04)">High</text>
<text transform="translate(1321.2 957) scale(1 1.04)">Low</text>
<text transform="translate(1457.8 957) scale(1 1.04)">High</text>
<text transform="translate(1585 957) scale(1 1.04)">Low</text>
</g>
<g font-size="27.5" font-weight="bold" fill="#000" text-anchor="middle">
<text transform="translate(257.5 1020.6) scale(1 1.04)">p53</text>
<text transform="translate(257.5 1103.5) scale(1 1.04)">Ki67 (%)</text>
<text transform="translate(257.5 1186.3) scale(1 1.04)">EGFR</text>
<text transform="translate(257.5 1269.2) scale(1 1.04)">IDH1</text>
<text transform="translate(257.5 1352.2) scale(1 1.04)">ATRX</text>
<text transform="translate(257.5 1435) scale(1 1.04)">MGMT</text>
</g>
<g font-size="27.5" fill="#000" text-anchor="middle">
<text transform="translate(454 998.7) scale(1 1.04)">Mutated</text>
<text transform="translate(454 1040.2) scale(1 1.04)">wild type</text>
<text transform="translate(454 1081.6) scale(1 1.04)">High ( ≥ 20)</text>
<text transform="translate(454 1123) scale(1 1.04)">Low (&lt;20)</text>
<text transform="translate(454 1164.5) scale(1 1.04)">High</text>
<text transform="translate(454 1205.9) scale(1 1.04)">Low</text>
<text transform="translate(454 1247.4) scale(1 1.04)">mutated</text>
<text transform="translate(454 1288.8) scale(1 1.04)">wild type</text>
<text transform="translate(454 1330.3) scale(1 1.04)">loss</text>
<text transform="translate(454 1371.8) scale(1 1.04)">wild type</text>
<text transform="translate(446.5 1413.2) scale(1 1.04)">unmethylated</text>
<text transform="translate(454 1454.6) scale(1 1.04)">methylated</text>
<text transform="translate(616.2 998.7) scale(1 1.04)">12</text>
<text transform="translate(753.1 998.7) scale(1 1.04)">14</text>
<text transform="translate(892.6 998.7) scale(1 1.04)">10</text>
<text transform="translate(1029.3 998.7) scale(1 1.04)">16</text>
<text transform="translate(1175.7 998.7) scale(1 1.04)">12</text>
<text transform="translate(1321.7 998.7) scale(1 1.04)">4</text>
<text transform="translate(1458.2 998.7) scale(1 1.04)">7</text>
<text transform="translate(1585.5 998.7) scale(1 1.04)">19</text>
<text transform="translate(616.2 1040.2) scale(1 1.04)">6</text>
<text transform="translate(753.1 1040.2) scale(1 1.04)">3</text>
<text transform="translate(892.6 1040.2) scale(1 1.04)">5</text>
<text transform="translate(1029.3 1040.2) scale(1 1.04)">4</text>
<text transform="translate(1175.7 1040.2) scale(1 1.04)">5</text>
<text transform="translate(1321.7 1040.2) scale(1 1.04)">4</text>
<text transform="translate(1458.2 1040.2) scale(1 1.04)">6</text>
<text transform="translate(1585.5 1040.2) scale(1 1.04)">3</text>
<text transform="translate(616.2 1081.6) scale(1 1.04)">8</text>
<text transform="translate(753.1 1081.6) scale(1 1.04)">7</text>
<text transform="translate(892.6 1081.6) scale(1 1.04)">8</text>
<text transform="translate(1029.3 1081.6) scale(1 1.04)">7</text>
<text transform="translate(1175.7 1081.6) scale(1 1.04)">9</text>
<text transform="translate(1321.7 1081.6) scale(1 1.04)">6</text>
<text transform="translate(1458.2 1081.6) scale(1 1.04)">4</text>
<text transform="translate(1585.5 1081.6) scale(1 1.04)">11</text>
<text transform="translate(616.2 1123) scale(1 1.04)">15</text>
<text transform="translate(753.1 1123) scale(1 1.04)">10</text>
<text transform="translate(892.6 1123) scale(1 1.04)">15</text>
<text transform="translate(1029.3 1123) scale(1 1.04)">10</text>
<text transform="translate(1175.7 1123) scale(1 1.04)">14</text>
<text transform="translate(1321.7 1123) scale(1 1.04)">11</text>
<text transform="translate(1458.2 1123) scale(1 1.04)">8</text>
<text transform="translate(1585.5 1123) scale(1 1.04)">17</text>
<text transform="translate(616.2 1164.5) scale(1 1.04)">9</text>
<text transform="translate(753.1 1164.5) scale(1 1.04)">13</text>
<text transform="translate(892.6 1164.5) scale(1 1.04)">9</text>
<text transform="translate(1029.3 1164.5) scale(1 1.04)">13</text>
<text transform="translate(1175.7 1164.5) scale(1 1.04)">7</text>
<text transform="translate(1321.7 1164.5) scale(1 1.04)">15</text>
<text transform="translate(1458.2 1164.5) scale(1 1.04)">8</text>
<text transform="translate(1585.5 1164.5) scale(1 1.04)">14</text>
<text transform="translate(616.2 1205.9) scale(1 1.04)">7</text>
<text transform="translate(753.1 1205.9) scale(1 1.04)">6</text>
<text transform="translate(892.6 1205.9) scale(1 1.04)">7</text>
<text transform="translate(1029.3 1205.9) scale(1 1.04)">6</text>
<text transform="translate(1175.7 1205.9) scale(1 1.04)">9</text>
<text transform="translate(1321.7 1205.9) scale(1 1.04)">4</text>
<text transform="translate(1458.2 1205.9) scale(1 1.04)">3</text>
<text transform="translate(1585.5 1205.9) scale(1 1.04)">10</text>
<text transform="translate(616.2 1247.4) scale(1 1.04)">2</text>
<text transform="translate(753.1 1247.4) scale(1 1.04)">0</text>
<text transform="translate(892.6 1247.4) scale(1 1.04)">2</text>
<text transform="translate(1029.3 1247.4) scale(1 1.04)">0</text>
<text transform="translate(1175.7 1247.4) scale(1 1.04)">2</text>
<text transform="translate(1321.7 1247.4) scale(1 1.04)">0</text>
<text transform="translate(1458.2 1247.4) scale(1 1.04)">0</text>
<text transform="translate(1585.5 1247.4) scale(1 1.04)">2</text>
<text transform="translate(616.2 1288.8) scale(1 1.04)">15</text>
<text transform="translate(753.1 1288.8) scale(1 1.04)">16</text>
<text transform="translate(892.6 1288.8) scale(1 1.04)">15</text>
<text transform="translate(1029.3 1288.8) scale(1 1.04)">16</text>
<text transform="translate(1175.7 1288.8) scale(1 1.04)">14</text>
<text transform="translate(1321.7 1288.8) scale(1 1.04)">17</text>
<text transform="translate(1458.2 1288.8) scale(1 1.04)">10</text>
<text transform="translate(1585.5 1288.8) scale(1 1.04)">21</text>
<text transform="translate(616.2 1330.3) scale(1 1.04)">6</text>
<text transform="translate(753.1 1330.3) scale(1 1.04)">7</text>
<text transform="translate(892.6 1330.3) scale(1 1.04)">6</text>
<text transform="translate(1029.3 1330.3) scale(1 1.04)">7</text>
<text transform="translate(1175.7 1330.3) scale(1 1.04)">6</text>
<text transform="translate(1321.7 1330.3) scale(1 1.04)">7</text>
<text transform="translate(1458.2 1330.3) scale(1 1.04)">5</text>
<text transform="translate(1585.5 1330.3) scale(1 1.04)">8</text>
<text transform="translate(616.2 1371.8) scale(1 1.04)">1</text>
<text transform="translate(753.1 1371.8) scale(1 1.04)">4</text>
<text transform="translate(892.6 1371.8) scale(1 1.04)">1</text>
<text transform="translate(1029.3 1371.8) scale(1 1.04)">4</text>
<text transform="translate(1175.7 1371.8) scale(1 1.04)">1</text>
<text transform="translate(1321.7 1371.8) scale(1 1.04)">4</text>
<text transform="translate(1458.2 1371.8) scale(1 1.04)">0</text>
<text transform="translate(1585.5 1371.8) scale(1 1.04)">5</text>
<text transform="translate(616.2 1413.2) scale(1 1.04)">5</text>
<text transform="translate(753.1 1413.2) scale(1 1.04)">2</text>
<text transform="translate(892.6 1413.2) scale(1 1.04)">5</text>
<text transform="translate(1029.3 1413.2) scale(1 1.04)">2</text>
<text transform="translate(1175.7 1413.2) scale(1 1.04)">5</text>
<text transform="translate(1321.7 1413.2) scale(1 1.04)">2</text>
<text transform="translate(1458.2 1413.2) scale(1 1.04)">3</text>
<text transform="translate(1585.5 1413.2) scale(1 1.04)">4</text>
<text transform="translate(616.2 1454.6) scale(1 1.04)">3</text>
<text transform="translate(753.1 1454.6) scale(1 1.04)">1</text>
<text transform="translate(892.6 1454.6) scale(1 1.04)">3</text>
<text transform="translate(1029.3 1454.6) scale(1 1.04)">1</text>
<text transform="translate(1175.7 1454.6) scale(1 1.04)">3</text>
<text transform="translate(1321.7 1454.6) scale(1 1.04)">1</text>
<text transform="translate(1458.2 1454.6) scale(1 1.04)">2</text>
<text transform="translate(1585.5 1454.6) scale(1 1.04)">2</text>
</g>
<g fill="#dcdcdc"><rect x="457" y="2086.2" width="677.2" height="1.6"/><rect x="457" y="2006" width="677.2" height="1.6"/><rect x="457" y="1925.7" width="677.2" height="1.6"/><rect x="457" y="1845.5" width="677.2" height="1.6"/><rect x="457" y="1765.2" width="677.2" height="1.6"/><rect x="457" y="1685" width="677.2" height="1.6"/></g>
<path d="M457 2087.2L497 2087.2L499.5 2085.4H1120.5L1122.5 2087.2" stroke="#c6c6c6" stroke-width="1.6" fill="none"/>
<g font-size="19.5" fill="#111" text-anchor="end">
<text transform="translate(438.5 2094) scale(1 1.04)">0</text>
<text transform="translate(438.5 2013.8) scale(1 1.04)">5</text>
<text transform="translate(438.5 1933.5) scale(1 1.04)">10</text>
<text transform="translate(438.5 1853.2) scale(1 1.04)">15</text>
<text transform="translate(438.5 1773) scale(1 1.04)">20</text>
<text transform="translate(438.5 1692.8) scale(1 1.04)">25</text>
</g>
<rect x="499.4" y="1769.9" width="35.9" height="315.3" fill="#3282da" stroke="#1643b4" stroke-width="1.3"/><rect x="547.4" y="1826" width="36" height="259.1" fill="#de3230" stroke="#a81414" stroke-width="1.3"/><rect x="668.4" y="1769.9" width="36.2" height="315.3" fill="#3282da" stroke="#1643b4" stroke-width="1.3"/><rect x="716.9" y="1814.8" width="35.7" height="270.3" fill="#de3230" stroke="#a81414" stroke-width="1.3"/><rect x="838.6" y="1797.1" width="34.5" height="288" fill="#3282da" stroke="#1643b4" stroke-width="1.3"/><rect x="885.9" y="1811.6" width="35.4" height="273.6" fill="#de3230" stroke="#a81414" stroke-width="1.3"/><rect x="1007.9" y="1736.2" width="34.7" height="349" fill="#3282da" stroke="#1643b4" stroke-width="1.3"/><rect x="1056.5" y="1821.2" width="34.2" height="263.9" fill="#de3230" stroke="#a81414" stroke-width="1.3"/>
<g font-size="19.5" fill="#111" text-anchor="middle"><text transform="translate(517.7 1754.7) scale(1 1.04)">20</text><text transform="translate(565.6 1810.9) scale(1 1.04)">16,3</text><text transform="translate(686.8 1754.7) scale(1 1.04)">19,8</text><text transform="translate(735 1799.7) scale(1 1.04)">17,0</text><text transform="translate(856.2 1782) scale(1 1.04)">18,1</text><text transform="translate(903.8 1796.4) scale(1 1.04)">17,2</text><text transform="translate(1025.6 1721) scale(1 1.04)">21,9</text><text transform="translate(1073.8 1806.1) scale(1 1.04)">16,6</text></g>
<g font-size="24" font-style="italic" fill="#111" text-anchor="middle">
<text transform="translate(537.5 2126.7) scale(1 1.04)">PR-lncRNA1</text>
<text transform="translate(704 2126.7) scale(1 1.04)">PR-lncRNA5</text>
<text transform="translate(879.5 2126.7) scale(1 1.04)">PR-lncRNA10</text>
<text transform="translate(1062.5 2126.7) scale(1 1.04)">Unassigned 4</text>
</g>
<text transform="translate(361.8 1879.5) rotate(-90) scale(1 1.04)" font-size="32.2" fill="#000" text-anchor="middle">Survival (months)</text>
<defs><linearGradient id="lgb" x1="0" y1="0" x2="0" y2="1"><stop offset="0" stop-color="#4f81c8"/><stop offset="1" stop-color="#2e62ad"/></linearGradient><linearGradient id="lgr" x1="0" y1="0" x2="0" y2="1"><stop offset="0" stop-color="#c4504e"/><stop offset="1" stop-color="#bb4745"/></linearGradient><filter id="sh" x="-30%" y="-30%" width="160%" height="180%"><feGaussianBlur stdDeviation="2.2"/></filter></defs>
<rect x="1186" y="1700" width="26" height="26" rx="3" fill="#777" opacity="0.55" filter="url(#sh)"/>
<rect x="1186" y="1748" width="26" height="26" rx="3" fill="#777" opacity="0.55" filter="url(#sh)"/>
<rect x="1185.1" y="1695.1" width="26.2" height="26.2" rx="2.5" fill="url(#lgb)" stroke="#4a7cc4" stroke-width="1"/>
<rect x="1185.1" y="1743.1" width="26.2" height="26" rx="2.5" fill="url(#lgr)"/>
<g font-size="27.6" fill="#000"><text transform="translate(1214.2 1710.9) scale(1 1.04)">high</text><text transform="translate(1216.3 1760.9) scale(1 1.04)">low</text></g>
</svg>
</body></html>
